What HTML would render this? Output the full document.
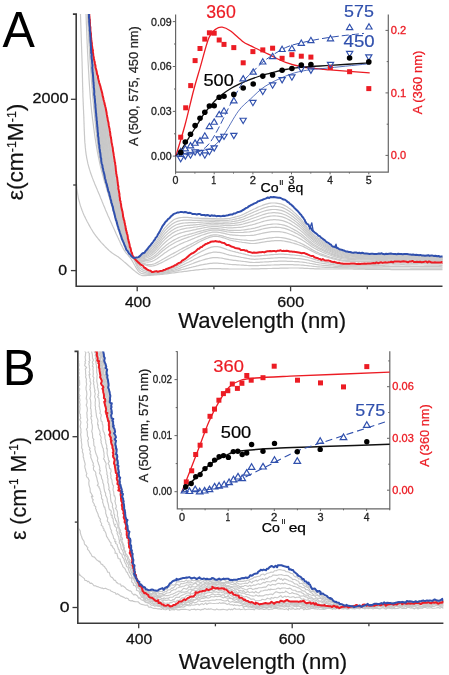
<!DOCTYPE html><html><head><meta charset="utf-8"><style>html,body{margin:0;padding:0;background:#fff;width:449px;height:675px;overflow:hidden}svg{display:block;filter:blur(0.3px);font-family:"Liberation Sans",sans-serif}</style></head><body><svg width="449" height="675" viewBox="0 0 449 675" font-family='"Liberation Sans", sans-serif'>
<rect width="449" height="675" fill="#fff"/>
<clipPath id="clipA"><rect x="77.1" y="14.1" width="365.4" height="271.4"/></clipPath>
<g clip-path="url(#clipA)" fill="none" stroke-linejoin="round" stroke-linecap="round">
<path d="M86.5 -40.0L86.5 -39.0L86.6 -38.0L86.6 -37.0L86.7 -36.0L86.7 -35.0L86.8 -34.0L86.8 -33.0L86.9 -32.0L86.9 -31.0L86.9 -30.0L87.0 -29.0L87.0 -28.0L87.1 -27.0L87.1 -26.0L87.1 -25.0L87.2 -24.0L87.2 -23.0L87.3 -22.0L87.3 -21.0L87.4 -20.0L87.4 -19.0L87.4 -18.0L87.5 -17.0L87.5 -16.0L87.6 -15.0L87.6 -14.0L87.7 -13.0L87.7 -12.0L87.8 -11.0L87.8 -10.0L87.9 -9.0L87.9 -8.0L87.9 -7.0L88.0 -6.0L88.0 -5.0L88.1 -4.0L88.2 -3.0L88.2 -2.0L88.3 -1.0L88.3 -0.0L88.4 1.0L88.4 2.0L88.5 3.0L88.5 4.0L88.6 5.0L88.7 5.9L88.7 6.9L88.8 7.9L88.8 8.9L88.9 9.9L89.0 10.9L89.0 11.9L89.1 12.9L89.2 13.9L89.3 14.9L89.3 15.9L89.4 16.9L89.5 17.9L89.6 18.9L89.7 19.9L89.7 20.9L89.8 21.9L89.9 22.9L90.0 23.9L90.0 24.9L90.1 25.9L90.2 26.9L90.3 27.9L90.4 28.9L90.5 29.9L90.5 30.9L90.6 31.9L90.7 32.9L90.8 33.9L90.9 34.9L91.0 35.9L91.1 36.9L91.2 37.8L91.3 38.8L91.4 39.8L91.5 40.8L91.6 41.8L91.7 42.8L91.8 43.8L92.0 44.8L92.1 45.8L92.2 46.8L92.3 47.8L92.5 48.8L92.6 49.8L92.7 50.8L92.9 51.7L93.0 52.7L93.2 53.7L93.3 54.7L93.5 55.7L93.6 56.7L93.8 57.7L94.0 58.7L94.1 59.6L94.3 60.6L94.5 61.6L94.7 62.6L94.9 63.6L95.1 64.6L95.3 65.5L95.5 66.5L95.7 67.5L95.9 68.5L96.1 69.4L96.3 70.4L96.6 71.4L96.8 72.4L97.0 73.3L97.2 74.3L97.5 75.3L97.7 76.3L98.0 77.2L98.2 78.2L98.5 79.2L98.7 80.1L98.9 81.1L99.2 82.1L99.4 83.0L99.7 84.0L99.9 85.0L100.2 85.9L100.4 86.9L100.7 87.9L100.9 88.9L101.2 89.8L101.4 90.8L101.7 91.8L101.9 92.7L102.2 93.7L102.4 94.7L102.7 95.6L102.9 96.6L103.2 97.6L103.4 98.5L103.6 99.5L103.9 100.5L104.1 101.5L104.3 102.4L104.6 103.4L104.8 104.4L105.0 105.4L105.2 106.3L105.4 107.3L105.6 108.3L105.9 109.3L106.1 110.2L106.2 111.2L106.4 112.2L106.6 113.2L106.8 114.2L107.0 115.2L107.2 116.1L107.4 117.1L107.6 118.1L107.8 119.1L107.9 120.1L108.1 121.1L108.3 122.0L108.5 123.0L108.6 124.0L108.8 125.0L109.0 126.0L109.2 127.0L109.3 127.9L109.5 128.9L109.7 129.9L109.8 130.9L110.0 131.9L110.2 132.9L110.3 133.9L110.5 134.8L110.7 135.8L110.8 136.8L111.0 137.8L111.1 138.8L111.3 139.8L111.5 140.8L111.6 141.8L111.8 142.7L111.9 143.7L112.1 144.7L112.3 145.7L112.4 146.7L112.6 147.7L112.7 148.7L112.9 149.7L113.0 150.6L113.2 151.6L113.3 152.6L113.5 153.6L113.7 154.6L113.8 155.6L114.0 156.6L114.1 157.6L114.3 158.5L114.4 159.5L114.6 160.5L114.7 161.5L114.9 162.5L115.0 163.5L115.2 164.5L115.3 165.5L115.5 166.5L115.6 167.4L115.8 168.4L115.9 169.4L116.0 170.4L116.2 171.4L116.3 172.4L116.5 173.4L116.6 174.4L116.7 175.4L116.9 176.4L117.0 177.4L117.1 178.3L117.3 179.3L117.4 180.3L117.5 181.3L117.6 182.3L117.8 183.3L117.9 184.3L118.0 185.3L118.2 186.3L118.3 187.3L118.4 188.3L118.6 189.2L118.7 190.2L118.9 191.2L119.0 192.2L119.1 193.2L119.3 194.2L119.4 195.2L119.6 196.2L119.7 197.2L119.9 198.2L120.1 199.1L120.2 200.1L120.4 201.1L120.6 202.1L120.7 203.1L120.9 204.1L121.1 205.0L121.3 206.0L121.4 207.0L121.6 208.0L121.8 209.0L122.0 210.0L122.2 210.9L122.4 211.9L122.6 212.9L122.8 213.9L123.0 214.9L123.2 215.8L123.4 216.8L123.6 217.8L123.8 218.8L124.0 219.8L124.2 220.7L124.4 221.7L124.6 222.7L124.8 223.7L125.1 224.7L125.3 225.6L125.5 226.6L125.7 227.6L125.9 228.6L126.1 229.5L126.3 230.5L126.5 231.5L126.7 232.5L126.9 233.5L127.1 234.4L120.6 234.9L120.3 233.9L120.0 233.0L119.7 232.0L119.3 231.1L119.0 230.1L118.7 229.2L118.4 228.2L118.1 227.3L117.9 226.3L117.6 225.3L117.3 224.4L117.0 223.4L116.7 222.5L116.5 221.5L116.2 220.5L115.9 219.6L115.7 218.6L115.4 217.6L115.1 216.7L114.9 215.7L114.6 214.7L114.4 213.8L114.1 212.8L113.8 211.8L113.6 210.9L113.3 209.9L113.1 208.9L112.8 208.0L112.6 207.0L112.3 206.0L112.1 205.1L111.8 204.1L111.6 203.1L111.3 202.2L111.1 201.2L110.9 200.2L110.6 199.3L110.4 198.3L110.1 197.3L109.9 196.4L109.6 195.4L109.3 194.4L109.1 193.5L108.8 192.5L108.6 191.5L108.3 190.6L108.0 189.6L107.8 188.6L107.5 187.7L107.3 186.7L107.0 185.7L106.7 184.8L106.5 183.8L106.2 182.8L106.0 181.9L105.7 180.9L105.5 179.9L105.2 179.0L105.0 178.0L104.8 177.0L104.5 176.0L104.3 175.1L104.1 174.1L103.8 173.1L103.6 172.1L103.4 171.2L103.2 170.2L103.0 169.2L102.8 168.2L102.6 167.3L102.4 166.3L102.2 165.3L102.0 164.3L101.8 163.3L101.6 162.3L101.4 161.4L101.3 160.4L101.1 159.4L100.9 158.4L100.8 157.4L100.6 156.4L100.5 155.4L100.3 154.4L100.2 153.5L100.1 152.5L99.9 151.5L99.8 150.5L99.7 149.5L99.6 148.5L99.4 147.5L99.3 146.5L99.2 145.5L99.1 144.5L99.0 143.5L98.9 142.5L98.8 141.5L98.7 140.6L98.5 139.6L98.4 138.6L98.3 137.6L98.2 136.6L98.1 135.6L98.0 134.6L98.0 133.6L97.9 132.6L97.8 131.6L97.7 130.6L97.6 129.6L97.5 128.6L97.4 127.6L97.3 126.6L97.2 125.6L97.1 124.6L97.0 123.6L96.9 122.6L96.9 121.6L96.8 120.6L96.7 119.6L96.6 118.6L96.5 117.7L96.4 116.7L96.3 115.7L96.2 114.7L96.1 113.7L96.0 112.7L96.0 111.7L95.9 110.7L95.8 109.7L95.7 108.7L95.6 107.7L95.5 106.7L95.4 105.7L95.3 104.7L95.2 103.7L95.1 102.7L95.0 101.7L95.0 100.7L94.9 99.7L94.8 98.7L94.7 97.7L94.6 96.7L94.5 95.7L94.5 94.7L94.4 93.7L94.3 92.8L94.2 91.8L94.1 90.8L94.0 89.8L94.0 88.8L93.9 87.8L93.8 86.8L93.7 85.8L93.6 84.8L93.6 83.8L93.5 82.8L93.4 81.8L93.3 80.8L93.3 79.8L93.2 78.8L93.1 77.8L93.0 76.8L93.0 75.8L92.9 74.8L92.8 73.8L92.7 72.8L92.7 71.8L92.6 70.8L92.5 69.8L92.4 68.8L92.4 67.8L92.3 66.8L92.2 65.8L92.1 64.8L92.1 63.8L92.0 62.8L91.9 61.8L91.9 60.8L91.8 59.8L91.7 58.8L91.6 57.9L91.6 56.9L91.5 55.9L91.4 54.9L91.4 53.9L91.3 52.9L91.2 51.9L91.2 50.9L91.1 49.9L91.0 48.9L91.0 47.9L90.9 46.9L90.8 45.9L90.8 44.9L90.7 43.9L90.6 42.9L90.6 41.9L90.5 40.9L90.4 39.9L90.4 38.9L90.3 37.9L90.2 36.9L90.2 35.9L90.1 34.9L90.1 33.9L90.0 32.9L89.9 31.9L89.9 30.9L89.8 29.9L89.8 28.9L89.7 27.9L89.6 26.9L89.6 25.9L89.5 24.9L89.5 23.9L89.4 22.9L89.3 21.9L89.3 20.9L89.2 19.9L89.2 18.9L89.1 17.9L89.1 16.9L89.0 15.9L89.0 14.9L88.9 13.9L88.8 12.9L88.8 11.9L88.7 10.9L88.7 9.9L88.6 8.9L88.6 7.9L88.5 6.9L88.5 5.9L88.4 4.9L88.4 4.0L88.3 3.0L88.3 2.0L88.2 1.0L88.2 -0.0L88.1 -1.0L88.1 -2.0L88.0 -3.0L88.0 -4.0L87.9 -5.0L87.9 -6.0L87.8 -7.0L87.8 -8.0L87.7 -9.0L87.7 -10.0L87.6 -11.0L87.6 -12.0L87.6 -13.0L87.5 -14.0L87.5 -15.0L87.4 -16.0L87.4 -17.0L87.3 -18.0L87.3 -19.0L87.2 -20.0L87.2 -21.0L87.1 -22.0L87.1 -23.0L87.0 -24.0L87.0 -25.0L86.9 -26.0L86.9 -27.0L86.9 -28.0L86.8 -29.0L86.8 -30.0L86.7 -31.0L86.7 -32.0L86.6 -33.0L86.6 -34.0L86.5 -35.0L86.5 -36.0L86.4 -37.0L86.4 -38.0L86.3 -39.0L86.3 -40.0Z" fill="#d0d0d0" stroke="none"/>
<path d="M70.2 101.7L70.4 103.2L70.5 104.6L70.7 106.1L70.8 107.6L70.9 109.1L71.1 110.6L71.2 112.1L71.3 113.6L71.4 115.1L71.6 116.6L71.7 118.1L71.8 119.6L71.9 121.1L72.1 122.6L72.2 124.1L72.3 125.6L72.4 127.1L72.5 128.6L72.6 130.1L72.8 131.6L72.9 133.0L73.0 134.5L73.1 136.0L73.2 137.5L73.3 139.0L73.4 140.5L73.6 142.0L73.7 143.5L73.8 145.0L73.9 146.5L74.0 148.0L74.1 149.5L74.3 151.0L74.4 152.5L74.5 154.0L74.6 155.5L74.7 157.0L74.9 158.5L75.0 160.0L75.1 161.5L75.2 163.0L75.3 164.5L75.4 165.9L75.5 167.4L75.6 168.9L75.7 170.4L75.8 171.9L75.9 173.4L76.0 174.9L76.0 176.4L76.1 177.9L76.2 179.4L76.3 180.9L76.4 182.4L76.5 183.9L76.6 185.4L76.8 186.9L76.9 188.4L77.1 189.9L77.3 191.4L77.5 192.9L77.7 194.3L78.0 195.8L78.2 197.3L78.5 198.8L78.9 200.2L79.3 201.7L79.7 203.1L80.1 204.6L80.5 206.0L81.0 207.4L81.5 208.8L82.0 210.2L82.6 211.6L83.1 213.0L83.7 214.4L84.3 215.8L85.0 217.1L85.6 218.5L86.3 219.8L87.0 221.2L87.7 222.5L88.4 223.8L89.1 225.1L89.8 226.4L90.6 227.7L91.3 229.0L92.1 230.3L92.9 231.6L93.7 232.8L94.6 234.1L95.5 235.3L96.3 236.5L97.3 237.7L98.2 238.8L99.2 240.0L100.1 241.1L101.1 242.3L102.1 243.4L103.2 244.5L104.2 245.6L105.2 246.7L106.3 247.7L107.3 248.8L108.4 249.8L109.5 250.9L110.6 251.8L111.8 252.8L113.0 253.6L114.3 254.4L115.6 255.2L116.8 256.0L118.1 256.8L119.3 257.7L120.5 258.7L121.6 259.6L122.8 260.6L123.9 261.6L125.0 262.5L126.2 263.5L127.3 264.5L128.4 265.5L129.5 266.5L130.7 267.5L131.8 268.5L132.9 269.5L134.1 270.4L135.2 271.4L136.4 272.3L137.6 273.3L138.8 274.1L140.1 274.8L141.4 275.3L142.8 275.6L144.2 275.7L145.7 275.6L147.2 275.4L148.7 275.4L150.2 275.3L151.7 275.2L153.2 275.1L154.7 275.0L156.2 274.9L157.7 274.7L159.2 274.6L160.7 274.4L162.2 274.3L163.6 274.1L165.1 273.9L166.6 273.8L168.1 273.6L169.6 273.4L171.1 273.2L172.6 273.0L174.1 272.8L175.6 272.6L177.0 272.4L178.5 272.2L180.0 272.0L181.5 271.8L183.0 271.6L184.5 271.4L186.0 271.3L187.5 271.1L188.9 270.9L190.4 270.7L191.9 270.5L193.4 270.3L194.9 270.1L196.4 269.9L197.9 269.8L199.4 269.6L200.9 269.5L202.4 269.3L203.8 269.2L205.3 269.1L206.8 269.0L208.3 268.8L209.8 268.7L211.3 268.7L212.8 268.6L214.3 268.6L215.8 268.6L217.3 268.6L218.8 268.7L220.3 268.7L221.8 268.8L223.3 268.8L224.8 268.9L226.3 268.9L227.8 268.9L229.3 269.0L230.8 269.0L232.3 269.0L233.8 269.0L235.3 269.0L236.8 269.0L238.3 269.0L239.8 269.0L241.3 269.0L242.8 269.0L244.3 269.0L245.8 269.0L247.3 269.0L248.8 269.0L250.3 269.0L251.8 268.9L253.3 268.9L254.8 268.9L256.3 268.8L257.8 268.8L259.3 268.8L260.8 268.7L262.3 268.7L263.8 268.7L265.3 268.6L266.8 268.6L268.3 268.5L269.8 268.5L271.3 268.5L272.8 268.4L274.3 268.4L275.8 268.4L277.3 268.3L278.8 268.3L280.3 268.2L281.8 268.2L283.3 268.2L284.8 268.1L286.3 268.1L287.8 268.1L289.3 268.0L290.8 268.0L292.3 268.0L293.8 268.0L295.3 268.0L296.8 268.0L298.3 268.0L299.8 268.1L301.3 268.1L302.8 268.2L304.3 268.3L305.8 268.4L307.3 268.4L308.8 268.5L310.3 268.6L311.8 268.7L313.3 268.7L314.8 268.8L316.3 268.9L317.8 268.9L319.3 268.9L320.8 269.0L322.3 269.0L323.8 269.0L325.3 269.0L326.8 269.0L328.3 269.0L329.8 269.0L331.3 269.0L332.8 269.0L334.3 269.0L335.8 269.0L337.3 269.0L338.8 269.0L340.3 269.0L341.8 269.0L343.3 269.0L344.8 269.0L346.3 269.0L347.8 269.0L349.3 269.0L350.8 269.0L352.3 269.0L353.8 269.1L355.3 269.1L356.8 269.1L358.3 269.1L359.8 269.2L361.3 269.2L362.8 269.2L364.3 269.2L365.8 269.3L367.3 269.3L368.8 269.3L370.3 269.3L371.8 269.4L373.3 269.4L374.8 269.4L376.3 269.4L377.8 269.5L379.3 269.5L380.8 269.5L382.3 269.5L383.8 269.5L385.3 269.5L386.8 269.5L388.3 269.5L389.8 269.5L391.3 269.6L392.8 269.6L394.3 269.6L395.8 269.6L397.3 269.6L398.8 269.6L400.3 269.6L401.8 269.6L403.3 269.6L404.8 269.6L406.3 269.6L407.8 269.6L409.3 269.6L410.8 269.7L412.3 269.7L413.8 269.7L415.3 269.7L416.8 269.7L418.3 269.7L419.8 269.7L421.3 269.7L422.8 269.7L424.3 269.7L425.8 269.7L427.3 269.7L428.8 269.7L430.3 269.7L431.8 269.7L433.3 269.7L434.8 269.7L436.3 269.7L437.8 269.7L439.3 269.7L440.8 269.7L442.0 269.7L442.9 269.7" stroke="#c8c8c8" stroke-width="1.20"/>
<path d="M80.4 9.5L80.4 11.0L80.5 12.5L80.5 14.0L80.5 15.5L80.6 17.0L80.6 18.5L80.7 20.0L80.7 21.5L80.8 23.0L80.8 24.5L80.9 26.0L80.9 27.5L81.0 29.0L81.0 30.5L81.1 32.0L81.1 33.5L81.2 35.0L81.2 36.5L81.3 38.0L81.3 39.5L81.4 41.0L81.4 42.5L81.5 44.0L81.5 45.5L81.6 47.0L81.6 48.5L81.7 50.0L81.7 51.5L81.8 53.0L81.8 54.5L81.9 56.0L81.9 57.5L82.0 59.0L82.0 60.5L82.1 62.0L82.1 63.5L82.1 65.0L82.2 66.5L82.2 68.0L82.3 69.5L82.3 71.0L82.3 72.5L82.4 73.9L82.4 75.4L82.4 76.9L82.5 78.4L82.5 79.9L82.5 81.4L82.6 82.9L82.6 84.4L82.6 85.9L82.7 87.4L82.7 88.9L82.8 90.4L82.8 91.9L82.9 93.4L82.9 94.9L82.9 96.4L83.0 97.9L83.1 99.4L83.1 100.9L83.2 102.4L83.2 103.9L83.3 105.4L83.4 106.9L83.4 108.4L83.5 109.9L83.6 111.4L83.6 112.9L83.7 114.4L83.8 115.9L83.8 117.4L83.9 118.9L83.9 120.4L84.0 121.9L84.0 123.4L84.1 124.9L84.1 126.4L84.2 127.9L84.2 129.4L84.3 130.9L84.4 132.4L84.4 133.9L84.5 135.4L84.6 136.9L84.6 138.4L84.7 139.9L84.8 141.4L84.9 142.9L85.1 144.4L85.2 145.9L85.3 147.4L85.5 148.9L85.6 150.4L85.8 151.9L86.0 153.3L86.2 154.8L86.5 156.3L86.7 157.8L87.0 159.3L87.3 160.7L87.6 162.2L87.9 163.7L88.3 165.1L88.7 166.6L89.1 168.0L89.5 169.4L90.0 170.9L90.4 172.3L90.9 173.7L91.4 175.1L91.9 176.5L92.4 177.9L93.0 179.4L93.5 180.7L94.1 182.1L94.6 183.5L95.2 184.9L95.8 186.3L96.4 187.7L97.0 189.1L97.5 190.4L98.1 191.8L98.7 193.2L99.3 194.6L99.9 196.0L100.4 197.4L101.0 198.8L101.6 200.1L102.1 201.5L102.7 202.9L103.2 204.3L103.8 205.7L104.4 207.1L105.0 208.5L105.5 209.9L106.1 211.2L106.7 212.6L107.3 214.0L107.9 215.4L108.5 216.7L109.1 218.1L109.7 219.5L110.4 220.9L111.0 222.2L111.6 223.6L112.2 225.0L112.8 226.3L113.5 227.7L114.1 229.1L114.7 230.4L115.3 231.8L115.9 233.2L116.5 234.5L117.2 235.9L117.8 237.3L118.4 238.6L119.0 240.0L119.7 241.3L120.3 242.7L120.9 244.1L121.6 245.4L122.3 246.7L123.0 248.1L123.7 249.4L124.5 250.7L125.3 251.9L126.2 253.1L127.2 254.2L128.2 255.3L129.2 256.5L130.1 257.6L131.0 258.8L131.8 260.1L132.5 261.4L133.3 262.7L134.0 264.0L134.7 265.3L135.5 266.6L136.2 267.9L137.0 269.2L137.8 270.4L138.8 271.6L139.9 272.5L141.1 273.2L142.4 273.7L143.9 273.9L145.4 274.1L146.9 274.2L148.3 274.3L149.8 274.4L151.3 274.4L152.8 274.4L154.3 274.3L155.8 274.2L157.3 274.1L158.8 273.9L160.3 273.8L161.8 273.6L163.3 273.4L164.8 273.2L166.2 272.9L167.7 272.6L169.2 272.4L170.7 272.1L172.1 271.8L173.6 271.5L175.1 271.2L176.5 270.9L178.0 270.6L179.5 270.2L180.9 269.8L182.4 269.5L183.8 269.1L185.3 268.8L186.8 268.4L188.2 268.1L189.7 267.7L191.1 267.4L192.6 267.0L194.0 266.6L195.5 266.3L196.9 265.9L198.4 265.6L199.9 265.2L201.3 264.9L202.8 264.7L204.3 264.4L205.8 264.1L207.2 263.9L208.7 263.6L210.2 263.4L211.7 263.3L213.2 263.2L214.7 263.1L216.2 263.1L217.7 263.2L219.2 263.3L220.7 263.4L222.2 263.5L223.7 263.7L225.1 263.9L226.6 264.0L228.1 264.2L229.6 264.3L231.1 264.5L232.6 264.6L234.1 264.7L235.6 264.7L237.1 264.8L238.6 264.9L240.1 265.0L241.6 265.1L243.1 265.2L244.6 265.3L246.1 265.4L247.6 265.5L249.1 265.6L250.6 265.6L252.1 265.7L253.6 265.7L255.1 265.7L256.6 265.6L258.1 265.6L259.6 265.5L261.1 265.4L262.6 265.4L264.1 265.3L265.6 265.3L267.1 265.2L268.6 265.1L270.1 265.1L271.6 265.0L273.1 265.0L274.6 264.9L276.1 264.8L277.6 264.8L279.1 264.8L280.6 264.7L282.1 264.7L283.6 264.7L285.1 264.7L286.6 264.7L288.1 264.7L289.6 264.7L291.1 264.7L292.6 264.7L294.1 264.8L295.6 264.8L297.1 264.8L298.6 264.9L300.1 265.0L301.5 265.1L303.0 265.2L304.5 265.3L306.0 265.5L307.5 265.6L309.0 265.8L310.5 266.0L312.0 266.2L313.5 266.3L315.0 266.5L316.5 266.7L318.0 266.8L319.4 266.9L320.9 267.0L322.4 267.1L323.9 267.2L325.4 267.3L326.9 267.3L328.4 267.4L329.9 267.4L331.4 267.5L332.9 267.5L334.4 267.6L335.9 267.7L337.4 267.7L338.9 267.8L340.4 267.8L341.9 267.9L343.4 267.9L344.9 267.9L346.4 267.9L347.9 267.9L349.4 268.0L350.9 268.0L352.4 268.0L353.9 268.0L355.4 268.0L356.9 268.0L358.4 268.1L359.9 268.1L361.4 268.1L362.9 268.1L364.4 268.1L365.9 268.1L367.4 268.2L368.9 268.2L370.4 268.2L371.9 268.2L373.4 268.2L374.9 268.2L376.4 268.2L377.9 268.2L379.4 268.1L380.9 268.1L382.4 268.1L383.9 268.1L385.4 268.1L386.9 268.1L388.4 268.1L389.9 268.1L391.4 268.0L392.9 268.0L394.4 268.0L395.9 268.0L397.4 268.0L398.9 268.0L400.4 268.0L401.9 268.0L403.4 268.0L404.9 268.0L406.4 268.0L407.9 268.0L409.4 268.0L410.9 268.1L412.4 268.1L413.9 268.1L415.4 268.1L416.9 268.1L418.4 268.1L419.9 268.1L421.4 268.1L422.9 268.1L424.4 268.2L425.9 268.2L427.4 268.2L428.9 268.2L430.4 268.2L431.9 268.2L433.4 268.2L434.9 268.2L436.4 268.2L437.9 268.2L439.4 268.2L440.9 268.2L442.1 268.2L443.0 268.2" stroke="#c8c8c8" stroke-width="1.20"/>
<path d="M85.8 9.5L85.9 11.0L85.9 12.5L86.0 14.0L86.1 15.5L86.1 17.0L86.2 18.5L86.2 20.0L86.3 21.5L86.3 23.0L86.4 24.5L86.5 26.0L86.5 27.5L86.6 29.0L86.6 30.5L86.7 31.9L86.8 33.4L86.8 34.9L86.9 36.4L86.9 37.9L87.0 39.4L87.1 40.9L87.1 42.4L87.2 43.9L87.3 45.4L87.3 46.9L87.4 48.4L87.5 49.9L87.5 51.4L87.6 52.9L87.7 54.4L87.8 55.9L87.9 57.4L87.9 58.9L88.0 60.4L88.1 61.9L88.2 63.4L88.3 64.9L88.4 66.4L88.4 67.9L88.5 69.4L88.6 70.9L88.7 72.4L88.8 73.9L88.9 75.4L88.9 76.9L89.0 78.4L89.1 79.9L89.2 81.4L89.3 82.9L89.4 84.4L89.5 85.9L89.6 87.4L89.7 88.9L89.8 90.4L89.9 91.9L90.0 93.4L90.1 94.9L90.2 96.3L90.3 97.8L90.5 99.3L90.6 100.8L90.7 102.3L90.9 103.8L91.0 105.3L91.2 106.8L91.3 108.3L91.5 109.8L91.6 111.3L91.8 112.8L92.0 114.3L92.2 115.8L92.3 117.2L92.5 118.7L92.7 120.2L92.9 121.7L93.1 123.2L93.3 124.7L93.5 126.2L93.7 127.7L93.9 129.1L94.1 130.6L94.3 132.1L94.5 133.6L94.7 135.1L94.9 136.6L95.1 138.1L95.4 139.5L95.6 141.0L95.8 142.5L96.1 144.0L96.3 145.5L96.6 146.9L96.8 148.4L97.1 149.9L97.3 151.4L97.6 152.8L97.9 154.3L98.2 155.8L98.5 157.3L98.8 158.7L99.1 160.2L99.4 161.7L99.7 163.1L100.0 164.6L100.4 166.1L100.7 167.5L101.1 169.0L101.4 170.4L101.8 171.9L102.2 173.3L102.6 174.8L103.0 176.2L103.4 177.7L103.8 179.1L104.2 180.6L104.6 182.0L105.1 183.4L105.5 184.9L105.9 186.3L106.3 187.7L106.8 189.2L107.2 190.6L107.6 192.1L108.1 193.5L108.5 194.9L108.9 196.4L109.4 197.8L109.8 199.2L110.2 200.7L110.6 202.1L111.0 203.6L111.4 205.0L111.9 206.5L112.3 207.9L112.7 209.3L113.1 210.8L113.5 212.2L114.0 213.7L114.4 215.1L114.8 216.5L115.2 218.0L115.7 219.4L116.1 220.8L116.5 222.3L117.0 223.7L117.4 225.1L117.9 226.6L118.4 228.0L118.8 229.4L119.3 230.8L119.8 232.3L120.2 233.7L120.7 235.1L121.2 236.5L121.7 237.9L122.2 239.4L122.7 240.8L123.2 242.2L123.8 243.6L124.3 245.0L124.9 246.4L125.5 247.7L126.1 249.1L126.8 250.4L127.6 251.7L128.5 252.9L129.5 254.0L130.5 255.1L131.5 256.2L132.4 257.4L133.2 258.6L134.0 259.9L134.6 261.2L135.3 262.6L135.9 264.0L136.5 265.3L137.2 266.7L137.9 268.0L138.7 269.2L139.7 270.2L140.9 271.0L142.2 271.7L143.6 272.1L145.1 272.5L146.5 272.9L148.0 273.2L149.4 273.5L150.9 273.6L152.4 273.7L153.9 273.7L155.4 273.6L156.9 273.4L158.4 273.3L159.9 273.1L161.4 273.0L162.8 272.7L164.3 272.4L165.8 272.1L167.2 271.8L168.7 271.4L170.2 271.1L171.6 270.7L173.1 270.4L174.5 270.0L175.9 269.5L177.4 269.1L178.8 268.6L180.2 268.1L181.6 267.5L183.0 267.0L184.4 266.5L185.9 266.0L187.3 265.5L188.7 265.0L190.1 264.5L191.5 264.0L192.9 263.5L194.3 262.9L195.7 262.4L197.1 261.9L198.5 261.4L199.9 260.9L201.4 260.5L202.8 260.0L204.3 259.6L205.7 259.2L207.1 258.8L208.6 258.5L210.1 258.2L211.5 257.9L213.0 257.7L214.5 257.6L216.0 257.6L217.5 257.7L219.0 257.8L220.5 258.0L222.0 258.2L223.4 258.5L224.9 258.8L226.4 259.1L227.9 259.4L229.3 259.7L230.8 259.9L232.3 260.1L233.8 260.3L235.3 260.4L236.8 260.6L238.2 260.8L239.7 261.0L241.2 261.2L242.7 261.3L244.2 261.5L245.7 261.7L247.2 261.9L248.7 262.1L250.2 262.3L251.7 262.4L253.1 262.5L254.6 262.5L256.1 262.4L257.6 262.4L259.1 262.3L260.6 262.2L262.1 262.1L263.6 262.0L265.1 261.9L266.6 261.9L268.1 261.8L269.6 261.7L271.1 261.6L272.6 261.5L274.1 261.4L275.6 261.4L277.1 261.3L278.6 261.2L280.1 261.2L281.6 261.2L283.1 261.2L284.6 261.2L286.1 261.2L287.6 261.3L289.1 261.3L290.6 261.4L292.1 261.4L293.6 261.5L295.1 261.6L296.6 261.7L298.1 261.7L299.6 261.9L301.1 262.0L302.6 262.1L304.1 262.3L305.5 262.5L307.0 262.8L308.5 263.0L310.0 263.3L311.5 263.5L312.9 263.8L314.4 264.1L315.9 264.4L317.4 264.6L318.8 264.8L320.3 265.0L321.8 265.2L323.3 265.3L324.8 265.5L326.3 265.6L327.8 265.7L329.3 265.8L330.8 265.9L332.3 266.0L333.8 266.2L335.3 266.3L336.8 266.4L338.3 266.5L339.8 266.6L341.3 266.7L342.8 266.8L344.3 266.9L345.8 266.9L347.3 266.9L348.8 266.9L350.3 266.9L351.8 266.9L353.3 266.9L354.8 266.9L356.3 266.9L357.8 267.0L359.3 267.0L360.8 267.0L362.3 267.0L363.8 267.0L365.3 267.0L366.8 267.0L368.3 267.0L369.8 267.0L371.3 267.0L372.8 266.9L374.3 266.9L375.8 266.9L377.3 266.9L378.8 266.8L380.3 266.8L381.8 266.8L383.3 266.7L384.8 266.7L386.3 266.6L387.8 266.6L389.2 266.6L390.7 266.5L392.2 266.5L393.7 266.5L395.2 266.4L396.7 266.4L398.2 266.4L399.7 266.4L401.2 266.4L402.7 266.4L404.2 266.4L405.7 266.4L407.2 266.4L408.7 266.4L410.2 266.4L411.7 266.5L413.2 266.5L414.7 266.5L416.2 266.5L417.7 266.5L419.2 266.5L420.7 266.6L422.2 266.6L423.7 266.6L425.2 266.6L426.7 266.6L428.2 266.6L429.7 266.6L431.2 266.7L432.7 266.7L434.2 266.7L435.7 266.7L437.2 266.7L438.7 266.7L440.2 266.7L441.7 266.8L442.9 266.8L443.8 266.8" stroke="#c8c8c8" stroke-width="1.20"/>
<path d="M87.3 9.5L87.4 11.0L87.4 12.5L87.5 14.0L87.6 15.5L87.6 17.0L87.7 18.5L87.8 20.0L87.8 21.5L87.9 23.0L88.0 24.5L88.1 25.9L88.1 27.4L88.2 28.9L88.3 30.4L88.4 31.9L88.4 33.4L88.5 34.9L88.6 36.4L88.7 37.9L88.7 39.4L88.8 40.9L88.9 42.4L89.0 43.9L89.1 45.4L89.2 46.9L89.3 48.4L89.4 49.9L89.4 51.4L89.5 52.9L89.6 54.4L89.7 55.9L89.8 57.4L89.9 58.9L90.0 60.4L90.1 61.9L90.2 63.4L90.3 64.9L90.4 66.4L90.5 67.9L90.6 69.4L90.8 70.9L90.9 72.4L91.0 73.9L91.1 75.4L91.2 76.9L91.3 78.3L91.4 79.8L91.5 81.3L91.6 82.8L91.8 84.3L91.9 85.8L92.0 87.3L92.1 88.8L92.2 90.3L92.3 91.8L92.5 93.3L92.6 94.8L92.7 96.3L92.9 97.8L93.0 99.3L93.1 100.8L93.3 102.3L93.4 103.8L93.5 105.3L93.7 106.7L93.8 108.2L94.0 109.7L94.1 111.2L94.3 112.7L94.4 114.2L94.6 115.7L94.7 117.2L94.9 118.7L95.0 120.2L95.1 121.7L95.3 123.2L95.4 124.7L95.6 126.2L95.7 127.6L95.9 129.1L96.1 130.6L96.2 132.1L96.4 133.6L96.5 135.1L96.7 136.6L96.9 138.1L97.0 139.6L97.2 141.1L97.4 142.6L97.6 144.0L97.8 145.5L98.0 147.0L98.2 148.5L98.4 150.0L98.6 151.5L98.8 153.0L99.1 154.4L99.3 155.9L99.5 157.4L99.8 158.9L100.1 160.4L100.4 161.8L100.6 163.3L101.0 164.8L101.3 166.2L101.6 167.7L101.9 169.2L102.3 170.6L102.6 172.1L103.0 173.5L103.4 175.0L103.8 176.4L104.1 177.9L104.5 179.3L104.9 180.8L105.3 182.2L105.8 183.7L106.2 185.1L106.6 186.5L107.0 188.0L107.4 189.4L107.9 190.9L108.3 192.3L108.7 193.7L109.1 195.2L109.5 196.6L109.9 198.1L110.4 199.5L110.8 200.9L111.2 202.4L111.6 203.8L112.0 205.3L112.4 206.7L112.8 208.2L113.2 209.6L113.6 211.0L114.1 212.5L114.5 213.9L114.9 215.4L115.4 216.8L115.8 218.2L116.2 219.7L116.7 221.1L117.1 222.5L117.6 224.0L118.0 225.4L118.5 226.8L118.9 228.2L119.4 229.7L119.9 231.1L120.3 232.5L120.8 233.9L121.3 235.4L121.8 236.8L122.3 238.2L122.8 239.6L123.3 241.0L123.8 242.4L124.4 243.8L124.9 245.2L125.5 246.6L126.1 248.0L126.7 249.3L127.5 250.6L128.2 251.9L129.1 253.1L130.1 254.2L131.1 255.3L132.1 256.5L133.0 257.6L133.9 258.8L134.7 260.1L135.4 261.4L136.1 262.8L136.8 264.1L137.5 265.4L138.4 266.6L139.3 267.7L140.4 268.6L141.7 269.4L143.0 270.1L144.4 270.7L145.8 271.3L147.2 271.8L148.6 272.3L150.0 272.7L151.5 272.9L152.9 273.0L154.4 273.0L155.9 272.9L157.4 272.7L158.9 272.6L160.4 272.4L161.9 272.2L163.4 271.9L164.8 271.5L166.2 271.1L167.7 270.7L169.1 270.3L170.6 269.8L172.0 269.4L173.4 269.0L174.8 268.5L176.2 267.9L177.6 267.3L179.0 266.7L180.3 266.0L181.7 265.4L183.0 264.8L184.4 264.1L185.7 263.5L187.1 262.8L188.5 262.2L189.8 261.5L191.1 260.9L192.5 260.2L193.8 259.5L195.2 258.8L196.5 258.2L197.9 257.5L199.2 256.9L200.6 256.3L202.0 255.7L203.4 255.2L204.8 254.6L206.2 254.1L207.6 253.6L209.0 253.1L210.5 252.8L211.9 252.5L213.4 252.2L214.9 252.1L216.4 252.2L217.9 252.3L219.4 252.4L220.8 252.7L222.3 253.0L223.7 253.4L225.2 253.8L226.6 254.3L228.1 254.7L229.5 255.1L231.0 255.4L232.4 255.7L233.9 255.9L235.4 256.2L236.9 256.5L238.3 256.7L239.8 257.0L241.3 257.3L242.8 257.5L244.2 257.8L245.7 258.1L247.2 258.4L248.7 258.6L250.1 258.9L251.6 259.1L253.1 259.2L254.6 259.3L256.1 259.2L257.6 259.1L259.1 259.0L260.6 258.9L262.1 258.8L263.6 258.7L265.1 258.6L266.6 258.5L268.1 258.4L269.6 258.3L271.1 258.2L272.6 258.1L274.0 258.0L275.5 257.9L277.0 257.8L278.5 257.7L280.0 257.7L281.5 257.7L283.0 257.7L284.5 257.7L286.0 257.8L287.5 257.9L289.0 258.0L290.5 258.1L292.0 258.2L293.5 258.3L295.0 258.4L296.5 258.5L298.0 258.6L299.5 258.7L301.0 258.9L302.5 259.1L304.0 259.3L305.4 259.6L306.9 259.9L308.4 260.2L309.8 260.6L311.3 260.9L312.7 261.3L314.2 261.7L315.6 262.1L317.1 262.4L318.6 262.7L320.0 263.0L321.5 263.2L323.0 263.5L324.5 263.6L326.0 263.8L327.5 264.0L329.0 264.2L330.4 264.3L331.9 264.5L333.4 264.7L334.9 264.9L336.4 265.0L337.9 265.2L339.4 265.4L340.9 265.6L342.4 265.7L343.9 265.8L345.4 265.8L346.9 265.8L348.4 265.8L349.9 265.8L351.4 265.8L352.9 265.8L354.4 265.8L355.9 265.9L357.4 265.9L358.9 265.9L360.4 265.9L361.9 265.9L363.4 265.9L364.9 265.9L366.4 265.9L367.9 265.9L369.4 265.8L370.9 265.8L372.4 265.7L373.9 265.7L375.4 265.6L376.9 265.6L378.4 265.5L379.8 265.5L381.3 265.4L382.8 265.3L384.3 265.3L385.8 265.2L387.3 265.2L388.8 265.1L390.3 265.0L391.8 265.0L393.3 264.9L394.8 264.9L396.3 264.8L397.8 264.8L399.3 264.8L400.8 264.7L402.3 264.7L403.8 264.7L405.3 264.8L406.8 264.8L408.3 264.8L409.8 264.8L411.3 264.9L412.8 264.9L414.3 264.9L415.8 264.9L417.3 264.9L418.8 265.0L420.3 265.0L421.8 265.0L423.3 265.0L424.8 265.1L426.3 265.1L427.8 265.1L429.3 265.1L430.8 265.1L432.3 265.2L433.8 265.2L435.3 265.2L436.8 265.2L438.3 265.2L439.8 265.3L441.3 265.3L442.5 265.3L443.4 265.3" stroke="#c8c8c8" stroke-width="1.20"/>
<path d="M88.3 9.4L88.3 10.9L88.4 12.4L88.5 13.9L88.6 15.4L88.6 16.9L88.7 18.4L88.8 19.9L88.9 21.4L88.9 22.9L89.0 24.4L89.1 25.9L89.2 27.4L89.2 28.9L89.3 30.4L89.4 31.9L89.5 33.4L89.5 34.9L89.6 36.4L89.7 37.9L89.8 39.4L89.9 40.9L89.9 42.4L90.0 43.9L90.1 45.4L90.2 46.9L90.3 48.4L90.4 49.9L90.5 51.4L90.6 52.9L90.6 54.4L90.7 55.9L90.8 57.4L90.9 58.9L91.0 60.4L91.1 61.9L91.2 63.4L91.3 64.9L91.4 66.4L91.5 67.9L91.6 69.4L91.7 70.8L91.8 72.3L91.9 73.8L92.0 75.3L92.1 76.8L92.2 78.3L92.3 79.8L92.5 81.3L92.6 82.8L92.7 84.3L92.8 85.8L92.9 87.3L93.0 88.8L93.1 90.3L93.2 91.8L93.4 93.3L93.5 94.8L93.6 96.3L93.7 97.8L93.8 99.3L94.0 100.8L94.1 102.3L94.2 103.8L94.4 105.2L94.5 106.7L94.6 108.2L94.8 109.7L94.9 111.2L95.1 112.7L95.2 114.2L95.3 115.7L95.5 117.2L95.6 118.7L95.8 120.2L95.9 121.7L96.0 123.2L96.2 124.7L96.3 126.2L96.5 127.6L96.6 129.1L96.8 130.6L96.9 132.1L97.1 133.6L97.2 135.1L97.4 136.6L97.5 138.1L97.7 139.6L97.9 141.1L98.0 142.6L98.2 144.1L98.4 145.5L98.6 147.0L98.8 148.5L99.0 150.0L99.2 151.5L99.4 153.0L99.6 154.5L99.8 155.9L100.1 157.4L100.3 158.9L100.6 160.4L100.8 161.9L101.1 163.3L101.4 164.8L101.7 166.3L102.0 167.7L102.3 169.2L102.7 170.7L103.0 172.1L103.4 173.6L103.7 175.0L104.1 176.5L104.4 178.0L104.8 179.4L105.2 180.9L105.6 182.3L106.0 183.8L106.4 185.2L106.8 186.7L107.2 188.1L107.6 189.5L108.0 191.0L108.4 192.4L108.8 193.9L109.2 195.3L109.6 196.8L110.0 198.2L110.4 199.7L110.8 201.1L111.2 202.5L111.6 204.0L112.0 205.4L112.4 206.9L112.8 208.3L113.2 209.8L113.6 211.2L114.1 212.6L114.5 214.1L114.9 215.5L115.3 217.0L115.8 218.4L116.2 219.8L116.7 221.3L117.1 222.7L117.6 224.1L118.0 225.6L118.5 227.0L119.0 228.4L119.4 229.8L119.9 231.2L120.4 232.7L120.9 234.1L121.4 235.5L121.9 236.9L122.5 238.3L123.0 239.7L123.6 241.1L124.1 242.5L124.7 243.9L125.3 245.2L125.9 246.6L126.5 248.0L127.2 249.3L127.9 250.6L128.7 251.9L129.6 253.1L130.6 254.2L131.6 255.4L132.6 256.5L133.5 257.6L134.4 258.8L135.3 260.0L136.1 261.3L136.9 262.5L137.8 263.8L138.7 264.9L139.8 266.0L140.9 266.9L142.1 267.7L143.4 268.5L144.7 269.2L146.0 270.0L147.4 270.7L148.7 271.3L150.1 271.8L151.5 272.2L153.0 272.3L154.4 272.3L155.9 272.2L157.4 272.0L158.9 271.9L160.4 271.7L161.9 271.4L163.3 271.1L164.8 270.7L166.2 270.3L167.6 269.8L169.0 269.3L170.4 268.8L171.9 268.3L173.3 267.7L174.6 267.1L176.0 266.5L177.3 265.8L178.6 265.1L179.9 264.3L181.2 263.5L182.5 262.8L183.8 262.0L185.1 261.3L186.4 260.5L187.7 259.7L188.9 259.0L190.2 258.2L191.5 257.4L192.8 256.6L194.0 255.8L195.3 255.0L196.6 254.2L197.9 253.4L199.2 252.7L200.5 252.0L201.8 251.3L203.2 250.6L204.5 250.0L205.9 249.3L207.2 248.7L208.6 248.1L210.0 247.6L211.4 247.2L212.9 246.9L214.4 246.7L215.9 246.6L217.3 246.7L218.8 246.9L220.3 247.2L221.7 247.6L223.1 248.1L224.6 248.6L226.0 249.1L227.4 249.7L228.8 250.2L230.2 250.6L231.6 251.0L233.1 251.4L234.5 251.7L236.0 252.1L237.5 252.4L238.9 252.8L240.4 253.1L241.8 253.5L243.3 253.8L244.8 254.2L246.2 254.6L247.7 254.9L249.1 255.3L250.6 255.6L252.0 255.9L253.5 256.0L255.0 256.1L256.5 256.0L258.0 255.9L259.5 255.8L261.0 255.6L262.5 255.5L264.0 255.4L265.5 255.2L267.0 255.1L268.5 255.0L269.9 254.8L271.4 254.7L272.9 254.6L274.4 254.5L275.9 254.3L277.4 254.3L278.9 254.2L280.4 254.2L281.9 254.2L283.4 254.2L284.9 254.3L286.4 254.4L287.9 254.5L289.4 254.6L290.9 254.8L292.4 254.9L293.9 255.0L295.4 255.2L296.9 255.3L298.4 255.5L299.8 255.7L301.3 255.9L302.8 256.2L304.3 256.5L305.7 256.8L307.2 257.1L308.6 257.6L310.1 258.0L311.5 258.4L312.9 258.9L314.3 259.4L315.8 259.8L317.2 260.3L318.7 260.7L320.1 261.0L321.6 261.3L323.0 261.6L324.5 261.9L326.0 262.1L327.5 262.3L329.0 262.6L330.5 262.8L331.9 263.0L333.4 263.3L334.9 263.5L336.4 263.7L337.9 264.0L339.3 264.2L340.8 264.4L342.3 264.6L343.8 264.7L345.3 264.8L346.8 264.8L348.3 264.8L349.8 264.8L351.3 264.8L352.8 264.8L354.3 264.8L355.8 264.8L357.3 264.8L358.8 264.8L360.3 264.8L361.8 264.8L363.3 264.8L364.8 264.8L366.3 264.8L367.8 264.7L369.3 264.7L370.8 264.6L372.3 264.5L373.8 264.4L375.3 264.4L376.8 264.3L378.3 264.2L379.8 264.1L381.3 264.0L382.8 264.0L384.3 263.9L385.8 263.8L387.3 263.7L388.8 263.6L390.3 263.5L391.8 263.5L393.3 263.4L394.8 263.3L396.3 263.2L397.8 263.2L399.3 263.1L400.8 263.1L402.3 263.1L403.8 263.1L405.3 263.1L406.8 263.2L408.3 263.2L409.8 263.2L411.3 263.3L412.8 263.3L414.3 263.3L415.8 263.3L417.3 263.4L418.8 263.4L420.3 263.4L421.8 263.5L423.3 263.5L424.8 263.5L426.3 263.5L427.8 263.6L429.3 263.6L430.8 263.6L432.3 263.6L433.8 263.7L435.3 263.7L436.8 263.7L438.2 263.7L439.7 263.8L441.2 263.8L442.4 263.8L443.3 263.8" stroke="#c8c8c8" stroke-width="1.20"/>
<path d="M88.8 9.4L88.9 10.9L89.0 12.4L89.1 13.9L89.2 15.4L89.4 16.9L89.5 18.4L89.6 19.9L89.7 21.4L89.8 22.9L89.9 24.4L90.0 25.9L90.1 27.4L90.3 28.9L90.4 30.4L90.5 31.9L90.6 33.4L90.8 34.9L90.9 36.4L91.0 37.9L91.2 39.4L91.3 40.8L91.5 42.3L91.6 43.8L91.8 45.3L92.0 46.8L92.1 48.3L92.3 49.8L92.5 51.3L92.7 52.8L92.9 54.2L93.1 55.7L93.3 57.2L93.6 58.7L93.8 60.2L94.0 61.7L94.3 63.1L94.5 64.6L94.8 66.1L95.1 67.6L95.4 69.0L95.6 70.5L95.9 72.0L96.2 73.5L96.5 74.9L96.9 76.4L97.2 77.9L97.5 79.3L97.8 80.8L98.1 82.3L98.5 83.7L98.8 85.2L99.1 86.6L99.5 88.1L99.8 89.6L100.1 91.0L100.4 92.5L100.8 94.0L101.1 95.4L101.4 96.9L101.7 98.4L102.0 99.8L102.3 101.3L102.6 102.8L102.9 104.2L103.2 105.7L103.5 107.2L103.8 108.7L104.1 110.1L104.3 111.6L104.6 113.1L104.9 114.6L105.1 116.0L105.4 117.5L105.6 119.0L105.9 120.5L106.1 122.0L106.4 123.4L106.6 124.9L106.8 126.4L107.1 127.9L107.3 129.4L107.5 130.8L107.8 132.3L108.0 133.8L108.2 135.3L108.4 136.8L108.7 138.3L108.9 139.7L109.1 141.2L109.3 142.7L109.6 144.2L109.8 145.7L110.0 147.2L110.2 148.6L110.4 150.1L110.7 151.6L110.9 153.1L111.1 154.6L111.4 156.1L111.6 157.5L111.8 159.0L112.1 160.5L112.3 162.0L112.5 163.5L112.8 164.9L113.0 166.4L113.2 167.9L113.4 169.4L113.7 170.9L113.9 172.4L114.1 173.8L114.4 175.3L114.6 176.8L114.8 178.3L115.1 179.8L115.3 181.2L115.5 182.7L115.8 184.2L116.0 185.7L116.2 187.2L116.5 188.7L116.7 190.1L117.0 191.6L117.2 193.1L117.5 194.6L117.7 196.0L118.0 197.5L118.2 199.0L118.5 200.5L118.8 202.0L119.1 203.4L119.3 204.9L119.6 206.4L119.9 207.8L120.2 209.3L120.5 210.8L120.8 212.2L121.2 213.7L121.5 215.2L121.8 216.6L122.1 218.1L122.4 219.6L122.8 221.0L123.1 222.5L123.4 224.0L123.8 225.4L124.1 226.9L124.4 228.3L124.8 229.8L125.1 231.3L125.5 232.7L125.8 234.2L126.2 235.6L126.5 237.1L126.9 238.6L127.3 240.0L127.6 241.5L128.0 242.9L128.4 244.4L128.8 245.8L129.2 247.3L129.7 248.7L130.1 250.1L130.6 251.5L131.1 252.9L131.8 254.3L132.5 255.6L133.2 256.9L134.2 258.0L135.2 259.1L136.3 260.1L137.5 261.0L138.8 261.8L140.1 262.5L141.4 263.2L142.8 263.8L144.1 264.4L145.5 264.9L146.9 265.4L148.4 265.9L149.8 266.1L151.3 266.2L152.7 266.0L154.2 265.7L155.6 265.2L157.0 264.7L158.3 264.1L159.7 263.5L161.1 262.9L162.4 262.2L163.8 261.5L165.1 260.8L166.4 260.1L167.7 259.4L169.0 258.7L170.4 258.0L171.7 257.3L173.1 256.7L174.4 256.0L175.7 255.3L177.0 254.5L178.3 253.8L179.6 253.0L180.9 252.2L182.2 251.5L183.5 250.8L184.8 250.0L186.1 249.3L187.4 248.6L188.8 247.9L190.1 247.2L191.4 246.4L192.7 245.7L194.0 244.9L195.3 244.2L196.6 243.4L197.9 242.7L199.2 242.0L200.5 241.3L201.9 240.6L203.3 240.0L204.6 239.4L206.0 238.8L207.4 238.2L208.8 237.6L210.2 237.2L211.6 236.8L213.1 236.5L214.6 236.4L216.1 236.4L217.5 236.5L219.0 236.7L220.5 237.0L221.9 237.4L223.4 237.8L224.8 238.3L226.2 238.8L227.6 239.3L229.0 239.8L230.5 240.2L231.9 240.5L233.4 240.8L234.9 241.0L236.3 241.3L237.8 241.5L239.3 241.8L240.8 242.0L242.3 242.3L243.8 242.5L245.2 242.7L246.7 242.9L248.2 243.1L249.7 243.3L251.2 243.5L252.7 243.5L254.1 243.5L255.6 243.3L257.1 243.1L258.6 242.9L260.1 242.6L261.5 242.3L263.0 242.1L264.5 241.9L266.0 241.6L267.5 241.4L269.0 241.3L270.5 241.1L271.9 240.9L273.4 240.8L274.9 240.7L276.4 240.6L277.9 240.6L279.4 240.6L280.9 240.7L282.4 240.8L283.9 241.0L285.4 241.3L286.9 241.6L288.3 241.9L289.8 242.2L291.2 242.6L292.7 243.0L294.1 243.4L295.6 243.8L297.0 244.2L298.4 244.7L299.8 245.2L301.2 245.7L302.6 246.3L304.0 246.9L305.3 247.6L306.7 248.2L308.0 249.0L309.3 249.7L310.6 250.4L312.0 251.1L313.3 251.8L314.6 252.5L316.0 253.1L317.3 253.7L318.7 254.3L320.1 254.9L321.5 255.4L323.0 255.8L324.4 256.3L325.8 256.7L327.3 257.2L328.7 257.6L330.1 258.0L331.6 258.4L333.0 258.8L334.5 259.1L335.9 259.5L337.4 259.9L338.9 260.2L340.3 260.6L341.8 260.8L343.3 261.1L344.8 261.2L346.2 261.3L347.7 261.4L349.2 261.4L350.7 261.5L352.2 261.5L353.7 261.5L355.2 261.6L356.7 261.6L358.2 261.6L359.7 261.7L361.2 261.7L362.7 261.7L364.2 261.7L365.7 261.7L367.2 261.7L368.7 261.7L370.2 261.6L371.7 261.5L373.2 261.4L374.7 261.3L376.2 261.3L377.7 261.2L379.2 261.1L380.7 261.0L382.2 260.9L383.7 260.9L385.2 260.8L386.7 260.7L388.2 260.6L389.7 260.5L391.2 260.4L392.7 260.4L394.2 260.3L395.7 260.2L397.2 260.2L398.7 260.1L400.2 260.1L401.7 260.1L403.2 260.1L404.7 260.1L406.2 260.2L407.7 260.2L409.2 260.3L410.7 260.3L412.2 260.3L413.7 260.4L415.2 260.4L416.7 260.5L418.2 260.5L419.7 260.6L421.2 260.6L422.7 260.6L424.2 260.7L425.7 260.7L427.2 260.8L428.7 260.8L430.2 260.8L431.7 260.9L433.2 260.9L434.7 261.0L436.2 261.0L437.7 261.1L439.2 261.1L440.7 261.1L441.9 261.2L442.8 261.2" stroke="#c8c8c8" stroke-width="1.20"/>
<path d="M88.8 9.4L88.9 10.9L89.0 12.4L89.1 13.9L89.2 15.4L89.3 16.9L89.4 18.4L89.5 19.9L89.7 21.4L89.8 22.9L89.9 24.4L90.0 25.9L90.1 27.4L90.2 28.9L90.3 30.4L90.5 31.9L90.6 33.4L90.7 34.9L90.8 36.4L91.0 37.9L91.1 39.4L91.3 40.8L91.4 42.3L91.6 43.8L91.7 45.3L91.9 46.8L92.1 48.3L92.2 49.8L92.4 51.3L92.6 52.8L92.8 54.3L93.0 55.7L93.2 57.2L93.4 58.7L93.6 60.2L93.9 61.7L94.1 63.2L94.4 64.6L94.6 66.1L94.9 67.6L95.1 69.1L95.4 70.5L95.7 72.0L96.0 73.5L96.3 75.0L96.6 76.4L96.9 77.9L97.2 79.4L97.5 80.8L97.8 82.3L98.1 83.8L98.4 85.2L98.7 86.7L99.1 88.2L99.4 89.6L99.7 91.1L100.0 92.6L100.3 94.0L100.6 95.5L100.9 97.0L101.2 98.4L101.5 99.9L101.8 101.4L102.1 102.9L102.4 104.3L102.7 105.8L103.0 107.3L103.2 108.8L103.5 110.2L103.7 111.7L104.0 113.2L104.2 114.7L104.5 116.1L104.7 117.6L105.0 119.1L105.2 120.6L105.4 122.1L105.7 123.6L105.9 125.0L106.1 126.5L106.4 128.0L106.6 129.5L106.8 131.0L107.0 132.4L107.3 133.9L107.5 135.4L107.7 136.9L107.9 138.4L108.1 139.9L108.4 141.4L108.6 142.8L108.8 144.3L109.0 145.8L109.2 147.3L109.5 148.8L109.7 150.3L109.9 151.7L110.1 153.2L110.3 154.7L110.6 156.2L110.8 157.7L111.0 159.2L111.3 160.6L111.5 162.1L111.7 163.6L112.0 165.1L112.2 166.6L112.5 168.0L112.7 169.5L112.9 171.0L113.2 172.5L113.4 174.0L113.6 175.4L113.9 176.9L114.1 178.4L114.4 179.9L114.6 181.4L114.9 182.8L115.1 184.3L115.3 185.8L115.6 187.3L115.8 188.8L116.1 190.2L116.4 191.7L116.6 193.2L116.9 194.7L117.1 196.1L117.4 197.6L117.7 199.1L118.0 200.6L118.2 202.0L118.5 203.5L118.8 205.0L119.1 206.5L119.4 207.9L119.7 209.4L120.0 210.9L120.4 212.3L120.7 213.8L121.0 215.3L121.3 216.7L121.6 218.2L122.0 219.7L122.3 221.1L122.6 222.6L123.0 224.0L123.3 225.5L123.7 227.0L124.0 228.4L124.4 229.9L124.7 231.3L125.1 232.8L125.4 234.3L125.8 235.7L126.2 237.2L126.5 238.6L126.9 240.1L127.3 241.5L127.7 243.0L128.1 244.4L128.5 245.8L128.9 247.3L129.4 248.7L129.9 250.1L130.4 251.5L131.0 252.9L131.6 254.3L132.3 255.6L133.1 256.8L134.1 258.0L135.1 259.0L136.3 259.9L137.5 260.7L138.9 261.4L140.2 262.0L141.6 262.6L143.0 263.1L144.5 263.6L145.9 264.0L147.3 264.3L148.8 264.6L150.3 264.6L151.7 264.5L153.2 264.2L154.6 263.7L155.9 263.1L157.3 262.4L158.6 261.7L159.9 261.0L161.2 260.3L162.5 259.5L163.8 258.8L165.1 258.0L166.4 257.2L167.7 256.5L169.0 255.7L170.3 255.0L171.6 254.3L173.0 253.6L174.3 252.9L175.6 252.2L176.9 251.5L178.2 250.8L179.5 250.0L180.9 249.3L182.2 248.6L183.5 247.9L184.8 247.2L186.2 246.6L187.5 245.9L188.9 245.2L190.2 244.6L191.6 243.9L192.9 243.2L194.2 242.5L195.5 241.8L196.9 241.1L198.2 240.4L199.6 239.8L200.9 239.2L202.3 238.6L203.7 238.0L205.1 237.4L206.5 236.8L207.9 236.3L209.3 235.8L210.7 235.4L212.2 235.1L213.7 234.9L215.1 234.9L216.6 234.9L218.1 235.0L219.6 235.3L221.1 235.6L222.5 235.9L223.9 236.4L225.4 236.8L226.8 237.3L228.2 237.7L229.7 238.1L231.1 238.4L232.6 238.6L234.1 238.9L235.6 239.1L237.1 239.3L238.6 239.5L240.1 239.7L241.5 239.8L243.0 240.0L244.5 240.1L246.0 240.2L247.5 240.4L249.0 240.5L250.5 240.6L252.0 240.6L253.5 240.6L255.0 240.4L256.4 240.2L257.9 239.9L259.4 239.6L260.9 239.3L262.3 239.1L263.8 238.8L265.3 238.5L266.8 238.3L268.3 238.1L269.7 237.9L271.2 237.8L272.7 237.6L274.2 237.5L275.7 237.4L277.2 237.4L278.7 237.4L280.2 237.5L281.7 237.6L283.2 237.8L284.7 238.1L286.1 238.4L287.6 238.8L289.0 239.2L290.5 239.6L291.9 240.0L293.3 240.5L294.8 240.9L296.2 241.4L297.6 242.0L299.0 242.5L300.4 243.1L301.7 243.7L303.1 244.4L304.4 245.1L305.7 245.8L307.0 246.6L308.3 247.3L309.6 248.1L310.8 248.9L312.1 249.6L313.4 250.4L314.8 251.1L316.1 251.8L317.5 252.4L318.8 253.0L320.2 253.6L321.6 254.1L323.0 254.6L324.4 255.1L325.9 255.6L327.3 256.1L328.7 256.5L330.1 257.0L331.6 257.4L333.0 257.8L334.5 258.2L335.9 258.6L337.4 259.0L338.8 259.4L340.3 259.7L341.7 260.0L343.2 260.3L344.7 260.4L346.2 260.6L347.7 260.7L349.2 260.7L350.7 260.8L352.2 260.8L353.7 260.9L355.2 260.9L356.7 261.0L358.2 261.0L359.7 261.0L361.2 261.1L362.7 261.1L364.2 261.1L365.7 261.1L367.2 261.1L368.7 261.1L370.2 261.0L371.7 260.9L373.2 260.9L374.7 260.8L376.2 260.7L377.7 260.6L379.2 260.6L380.7 260.5L382.2 260.4L383.7 260.3L385.2 260.3L386.7 260.2L388.2 260.1L389.7 260.0L391.2 260.0L392.7 259.9L394.2 259.8L395.7 259.7L397.1 259.7L398.6 259.7L400.1 259.6L401.6 259.7L403.1 259.7L404.6 259.7L406.1 259.7L407.6 259.8L409.1 259.8L410.6 259.9L412.1 259.9L413.6 260.0L415.1 260.0L416.6 260.1L418.1 260.1L419.6 260.1L421.1 260.2L422.6 260.2L424.1 260.3L425.6 260.3L427.1 260.4L428.6 260.4L430.1 260.5L431.6 260.5L433.1 260.5L434.6 260.6L436.1 260.6L437.6 260.7L439.1 260.7L440.6 260.8L441.8 260.8L442.7 260.8" stroke="#c8c8c8" stroke-width="1.20"/>
<path d="M88.8 9.4L88.9 10.9L89.0 12.4L89.1 13.9L89.2 15.4L89.3 16.9L89.4 18.4L89.5 19.9L89.6 21.4L89.7 22.9L89.8 24.4L89.9 25.9L90.0 27.4L90.1 28.9L90.3 30.4L90.4 31.9L90.5 33.4L90.6 34.9L90.7 36.4L90.9 37.9L91.0 39.4L91.1 40.9L91.3 42.3L91.4 43.8L91.6 45.3L91.7 46.8L91.9 48.3L92.1 49.8L92.2 51.3L92.4 52.8L92.6 54.3L92.8 55.8L93.0 57.3L93.2 58.7L93.4 60.2L93.6 61.7L93.8 63.2L94.0 64.7L94.3 66.2L94.5 67.6L94.8 69.1L95.0 70.6L95.3 72.1L95.5 73.5L95.8 75.0L96.1 76.5L96.3 78.0L96.6 79.4L96.9 80.9L97.2 82.4L97.5 83.9L97.8 85.3L98.0 86.8L98.3 88.3L98.6 89.8L98.9 91.2L99.2 92.7L99.5 94.2L99.7 95.7L100.0 97.1L100.3 98.6L100.6 100.1L100.9 101.5L101.1 103.0L101.4 104.5L101.6 106.0L101.9 107.5L102.1 108.9L102.4 110.4L102.6 111.9L102.9 113.4L103.1 114.9L103.3 116.3L103.6 117.8L103.8 119.3L104.0 120.8L104.2 122.3L104.4 123.8L104.7 125.2L104.9 126.7L105.1 128.2L105.3 129.7L105.5 131.2L105.7 132.7L105.9 134.2L106.1 135.6L106.3 137.1L106.6 138.6L106.8 140.1L107.0 141.6L107.2 143.1L107.4 144.5L107.6 146.0L107.8 147.5L108.0 149.0L108.3 150.5L108.5 152.0L108.7 153.5L108.9 154.9L109.2 156.4L109.4 157.9L109.6 159.4L109.9 160.9L110.1 162.3L110.3 163.8L110.6 165.3L110.8 166.8L111.1 168.3L111.3 169.7L111.6 171.2L111.8 172.7L112.1 174.2L112.3 175.7L112.6 177.1L112.8 178.6L113.1 180.1L113.4 181.6L113.6 183.0L113.9 184.5L114.2 186.0L114.4 187.5L114.7 188.9L115.0 190.4L115.3 191.9L115.5 193.4L115.8 194.8L116.1 196.3L116.4 197.8L116.7 199.3L117.0 200.7L117.3 202.2L117.6 203.7L117.9 205.1L118.2 206.6L118.5 208.1L118.8 209.5L119.1 211.0L119.4 212.5L119.8 213.9L120.1 215.4L120.4 216.9L120.8 218.3L121.1 219.8L121.5 221.2L121.8 222.7L122.2 224.2L122.5 225.6L122.9 227.1L123.2 228.5L123.6 230.0L124.0 231.4L124.3 232.9L124.7 234.3L125.1 235.8L125.5 237.2L125.9 238.7L126.3 240.1L126.7 241.6L127.1 243.0L127.5 244.5L128.0 245.9L128.5 247.3L128.9 248.7L129.5 250.1L130.0 251.5L130.6 252.9L131.3 254.2L132.1 255.5L132.9 256.7L133.9 257.8L135.0 258.8L136.3 259.6L137.6 260.2L139.0 260.7L140.4 261.1L141.9 261.5L143.4 261.7L144.9 261.9L146.3 262.0L147.8 262.1L149.3 262.0L150.8 261.7L152.2 261.3L153.5 260.7L154.8 260.0L156.1 259.2L157.4 258.4L158.6 257.5L159.8 256.7L161.0 255.8L162.2 254.9L163.4 254.0L164.6 253.1L165.9 252.3L167.1 251.4L168.4 250.6L169.7 249.8L170.9 249.0L172.2 248.3L173.6 247.6L174.9 246.9L176.2 246.2L177.5 245.5L178.9 244.8L180.2 244.1L181.6 243.5L183.0 242.9L184.3 242.3L185.7 241.7L187.1 241.2L188.5 240.6L189.9 240.1L191.3 239.5L192.7 238.9L194.1 238.4L195.4 237.8L196.8 237.2L198.2 236.6L199.6 236.1L201.0 235.5L202.4 235.0L203.8 234.6L205.3 234.1L206.7 233.6L208.1 233.2L209.6 232.8L211.0 232.5L212.5 232.2L214.0 232.1L215.5 232.1L217.0 232.2L218.5 232.3L219.9 232.5L221.4 232.8L222.9 233.1L224.3 233.4L225.8 233.8L227.2 234.2L228.7 234.5L230.2 234.8L231.7 234.9L233.1 235.1L234.6 235.2L236.1 235.3L237.6 235.4L239.1 235.5L240.6 235.6L242.1 235.6L243.6 235.6L245.1 235.6L246.6 235.5L248.1 235.5L249.6 235.5L251.1 235.4L252.6 235.3L254.1 235.1L255.6 234.8L257.0 234.5L258.5 234.2L259.9 233.8L261.4 233.5L262.9 233.2L264.3 232.9L265.8 232.6L267.3 232.3L268.8 232.1L270.3 231.9L271.7 231.7L273.2 231.6L274.7 231.6L276.2 231.5L277.7 231.6L279.2 231.6L280.7 231.8L282.2 232.0L283.7 232.3L285.1 232.6L286.6 233.0L288.0 233.5L289.4 234.0L290.8 234.5L292.2 235.0L293.6 235.6L295.0 236.2L296.3 236.8L297.7 237.5L299.0 238.1L300.3 238.9L301.6 239.6L302.9 240.4L304.2 241.2L305.4 242.1L306.6 242.9L307.9 243.8L309.1 244.7L310.3 245.5L311.5 246.4L312.8 247.2L314.1 248.0L315.4 248.7L316.7 249.4L318.0 250.1L319.4 250.7L320.8 251.4L322.1 252.0L323.5 252.6L324.9 253.1L326.3 253.7L327.7 254.2L329.1 254.8L330.5 255.3L331.9 255.8L333.3 256.2L334.8 256.7L336.2 257.1L337.7 257.5L339.1 257.9L340.6 258.3L342.0 258.6L343.5 258.8L345.0 259.1L346.5 259.2L348.0 259.3L349.5 259.4L351.0 259.5L352.5 259.6L354.0 259.6L355.5 259.7L357.0 259.8L358.4 259.8L359.9 259.9L361.4 259.9L362.9 260.0L364.4 260.0L365.9 260.0L367.4 260.0L368.9 260.0L370.4 259.9L371.9 259.9L373.4 259.8L374.9 259.8L376.4 259.7L377.9 259.6L379.4 259.6L380.9 259.5L382.4 259.4L383.9 259.4L385.4 259.3L386.9 259.3L388.4 259.2L389.9 259.1L391.4 259.1L392.9 259.0L394.4 258.9L395.9 258.9L397.4 258.9L398.9 258.8L400.4 258.8L401.9 258.8L403.4 258.9L404.9 258.9L406.4 259.0L407.9 259.0L409.4 259.1L410.9 259.1L412.4 259.2L413.9 259.2L415.4 259.3L416.9 259.3L418.4 259.4L419.9 259.4L421.4 259.5L422.9 259.5L424.4 259.6L425.9 259.6L427.4 259.7L428.9 259.7L430.4 259.8L431.9 259.8L433.4 259.9L434.9 259.9L436.4 260.0L437.9 260.0L439.4 260.1L440.9 260.1L442.1 260.1L443.0 260.2" stroke="#c8c8c8" stroke-width="1.20"/>
<path d="M88.8 9.4L88.9 10.9L89.0 12.4L89.1 13.9L89.2 15.4L89.3 16.9L89.4 18.4L89.5 19.9L89.6 21.4L89.7 22.9L89.8 24.4L89.9 25.9L90.0 27.4L90.1 28.9L90.2 30.4L90.3 31.9L90.4 33.4L90.6 34.9L90.7 36.4L90.8 37.9L90.9 39.4L91.1 40.9L91.2 42.4L91.3 43.8L91.5 45.3L91.6 46.8L91.8 48.3L91.9 49.8L92.1 51.3L92.3 52.8L92.4 54.3L92.6 55.8L92.8 57.3L93.0 58.8L93.2 60.2L93.4 61.7L93.6 63.2L93.8 64.7L94.0 66.2L94.2 67.7L94.5 69.1L94.7 70.6L94.9 72.1L95.2 73.6L95.4 75.1L95.7 76.5L95.9 78.0L96.2 79.5L96.5 81.0L96.7 82.5L97.0 83.9L97.3 85.4L97.5 86.9L97.8 88.4L98.1 89.8L98.3 91.3L98.6 92.8L98.8 94.3L99.1 95.7L99.4 97.2L99.6 98.7L99.9 100.2L100.1 101.7L100.4 103.1L100.6 104.6L100.9 106.1L101.1 107.6L101.4 109.1L101.6 110.5L101.8 112.0L102.0 113.5L102.3 115.0L102.5 116.5L102.7 118.0L102.9 119.4L103.1 120.9L103.3 122.4L103.5 123.9L103.7 125.4L103.9 126.9L104.2 128.4L104.4 129.8L104.6 131.3L104.8 132.8L105.0 134.3L105.2 135.8L105.4 137.3L105.6 138.8L105.8 140.2L106.0 141.7L106.2 143.2L106.4 144.7L106.6 146.2L106.8 147.7L107.0 149.2L107.2 150.6L107.4 152.1L107.7 153.6L107.9 155.1L108.1 156.6L108.3 158.1L108.6 159.5L108.8 161.0L109.1 162.5L109.3 164.0L109.6 165.5L109.8 166.9L110.1 168.4L110.3 169.9L110.6 171.4L110.8 172.9L111.1 174.3L111.4 175.8L111.6 177.3L111.9 178.8L112.2 180.2L112.5 181.7L112.7 183.2L113.0 184.7L113.3 186.1L113.6 187.6L113.9 189.1L114.2 190.5L114.5 192.0L114.7 193.5L115.0 195.0L115.3 196.4L115.6 197.9L115.9 199.4L116.2 200.8L116.5 202.3L116.9 203.8L117.2 205.2L117.5 206.7L117.8 208.2L118.1 209.6L118.5 211.1L118.8 212.6L119.1 214.0L119.5 215.5L119.8 216.9L120.1 218.4L120.5 219.9L120.9 221.3L121.2 222.8L121.6 224.2L121.9 225.7L122.3 227.1L122.7 228.6L123.0 230.0L123.4 231.5L123.8 232.9L124.2 234.4L124.6 235.8L125.0 237.3L125.4 238.7L125.8 240.2L126.3 241.6L126.7 243.0L127.1 244.5L127.6 245.9L128.1 247.3L128.6 248.7L129.1 250.1L129.7 251.5L130.3 252.9L131.1 254.2L131.9 255.4L132.8 256.6L133.8 257.7L134.9 258.6L136.2 259.3L137.6 259.8L139.0 260.2L140.5 260.4L142.0 260.6L143.5 260.6L145.0 260.6L146.5 260.5L147.9 260.4L149.4 260.1L150.8 259.6L152.2 259.0L153.5 258.3L154.7 257.5L155.9 256.6L157.1 255.7L158.3 254.8L159.4 253.8L160.6 252.8L161.7 251.8L162.8 250.8L164.0 249.9L165.2 249.0L166.4 248.1L167.6 247.2L168.8 246.3L170.1 245.5L171.3 244.7L172.6 244.0L173.9 243.2L175.2 242.5L176.6 241.8L177.9 241.2L179.3 240.6L180.7 240.0L182.1 239.4L183.5 238.9L184.9 238.3L186.3 237.9L187.7 237.4L189.1 236.9L190.6 236.5L192.0 236.0L193.4 235.5L194.8 235.0L196.2 234.5L197.7 234.0L199.1 233.6L200.5 233.1L201.9 232.7L203.4 232.2L204.8 231.8L206.3 231.4L207.7 231.0L209.2 230.7L210.6 230.4L212.1 230.2L213.6 230.1L215.1 230.1L216.6 230.1L218.1 230.2L219.6 230.4L221.1 230.6L222.6 230.9L224.0 231.2L225.5 231.5L227.0 231.8L228.4 232.0L229.9 232.2L231.4 232.4L232.9 232.4L234.4 232.5L235.9 232.5L237.4 232.5L238.9 232.5L240.4 232.5L241.9 232.5L243.4 232.4L244.9 232.2L246.4 232.1L247.9 232.0L249.4 231.9L250.8 231.7L252.3 231.5L253.8 231.2L255.3 230.9L256.7 230.5L258.2 230.2L259.6 229.8L261.1 229.4L262.5 229.0L264.0 228.7L265.4 228.4L266.9 228.1L268.4 227.8L269.9 227.6L271.4 227.4L272.9 227.3L274.4 227.3L275.9 227.2L277.4 227.3L278.8 227.4L280.3 227.5L281.8 227.8L283.3 228.1L284.7 228.4L286.2 228.9L287.6 229.4L289.0 229.9L290.3 230.5L291.7 231.1L293.1 231.8L294.4 232.4L295.7 233.1L297.1 233.8L298.4 234.6L299.7 235.3L300.9 236.1L302.1 237.0L303.4 237.9L304.5 238.8L305.7 239.7L306.9 240.7L308.1 241.6L309.2 242.5L310.4 243.5L311.6 244.4L312.8 245.2L314.1 246.0L315.4 246.8L316.7 247.5L318.0 248.2L319.4 248.9L320.7 249.6L322.0 250.2L323.4 250.9L324.8 251.5L326.1 252.1L327.5 252.7L328.9 253.3L330.3 253.9L331.7 254.4L333.1 254.9L334.5 255.4L336.0 255.8L337.4 256.3L338.8 256.7L340.3 257.1L341.7 257.4L343.2 257.7L344.7 258.0L346.2 258.2L347.6 258.3L349.1 258.4L350.6 258.5L352.1 258.6L353.6 258.7L355.1 258.8L356.6 258.9L358.1 258.9L359.6 259.0L361.1 259.1L362.6 259.1L364.1 259.2L365.6 259.2L367.1 259.2L368.6 259.2L370.1 259.2L371.6 259.1L373.1 259.1L374.6 259.0L376.1 259.0L377.6 258.9L379.1 258.9L380.6 258.8L382.1 258.8L383.6 258.7L385.1 258.6L386.6 258.6L388.1 258.5L389.6 258.5L391.1 258.4L392.6 258.4L394.1 258.3L395.6 258.3L397.1 258.3L398.6 258.2L400.1 258.2L401.6 258.3L403.1 258.3L404.6 258.3L406.1 258.4L407.6 258.4L409.1 258.5L410.6 258.5L412.1 258.6L413.6 258.6L415.1 258.7L416.6 258.7L418.1 258.8L419.6 258.9L421.1 258.9L422.6 259.0L424.1 259.0L425.6 259.1L427.1 259.1L428.6 259.2L430.1 259.2L431.6 259.3L433.1 259.3L434.6 259.4L436.1 259.4L437.6 259.5L439.1 259.5L440.6 259.6L441.8 259.6L442.7 259.7" stroke="#c8c8c8" stroke-width="1.20"/>
<path d="M88.8 9.4L88.9 10.9L89.0 12.4L89.0 13.9L89.1 15.4L89.2 16.9L89.3 18.4L89.4 19.9L89.5 21.4L89.6 22.9L89.7 24.4L89.9 25.9L90.0 27.4L90.1 28.9L90.2 30.4L90.3 31.9L90.4 33.4L90.5 34.9L90.6 36.4L90.8 37.9L90.9 39.4L91.0 40.9L91.1 42.4L91.3 43.9L91.4 45.3L91.6 46.8L91.7 48.3L91.9 49.8L92.0 51.3L92.2 52.8L92.3 54.3L92.5 55.8L92.7 57.3L92.9 58.8L93.0 60.3L93.2 61.7L93.4 63.2L93.6 64.7L93.8 66.2L94.0 67.7L94.3 69.2L94.5 70.7L94.7 72.1L94.9 73.6L95.2 75.1L95.4 76.6L95.7 78.1L95.9 79.5L96.1 81.0L96.4 82.5L96.6 84.0L96.9 85.5L97.1 86.9L97.4 88.4L97.6 89.9L97.9 91.4L98.1 92.9L98.4 94.3L98.6 95.8L98.9 97.3L99.1 98.8L99.4 100.3L99.6 101.7L99.8 103.2L100.1 104.7L100.3 106.2L100.5 107.7L100.8 109.1L101.0 110.6L101.2 112.1L101.4 113.6L101.6 115.1L101.8 116.6L102.0 118.1L102.3 119.5L102.5 121.0L102.7 122.5L102.9 124.0L103.1 125.5L103.3 127.0L103.4 128.5L103.6 129.9L103.8 131.4L104.0 132.9L104.2 134.4L104.4 135.9L104.6 137.4L104.8 138.9L105.0 140.4L105.2 141.8L105.4 143.3L105.6 144.8L105.8 146.3L106.0 147.8L106.2 149.3L106.5 150.8L106.7 152.2L106.9 153.7L107.1 155.2L107.3 156.7L107.6 158.2L107.8 159.7L108.0 161.1L108.3 162.6L108.5 164.1L108.8 165.6L109.0 167.1L109.3 168.5L109.6 170.0L109.8 171.5L110.1 173.0L110.4 174.4L110.6 175.9L110.9 177.4L111.2 178.9L111.5 180.3L111.8 181.8L112.1 183.3L112.4 184.7L112.7 186.2L112.9 187.7L113.2 189.2L113.5 190.6L113.8 192.1L114.2 193.6L114.5 195.0L114.8 196.5L115.1 198.0L115.4 199.4L115.7 200.9L116.0 202.4L116.3 203.8L116.6 205.3L117.0 206.8L117.3 208.2L117.6 209.7L118.0 211.2L118.3 212.6L118.6 214.1L119.0 215.5L119.3 217.0L119.7 218.5L120.0 219.9L120.4 221.4L120.8 222.8L121.1 224.3L121.5 225.7L121.9 227.2L122.2 228.6L122.6 230.1L123.0 231.5L123.4 233.0L123.8 234.4L124.2 235.9L124.6 237.3L125.1 238.8L125.5 240.2L125.9 241.6L126.4 243.1L126.8 244.5L127.3 245.9L127.8 247.3L128.3 248.7L128.9 250.1L129.5 251.5L130.1 252.8L130.9 254.1L131.7 255.4L132.6 256.6L133.7 257.6L134.8 258.4L136.1 259.1L137.5 259.5L139.0 259.8L140.5 259.9L142.0 259.9L143.5 259.8L144.9 259.6L146.4 259.4L147.9 259.1L149.3 258.7L150.7 258.1L152.0 257.4L153.3 256.7L154.5 255.8L155.7 254.9L156.8 253.9L157.9 252.9L159.0 251.8L160.1 250.8L161.1 249.7L162.2 248.7L163.3 247.7L164.5 246.7L165.6 245.8L166.8 244.8L168.0 243.9L169.2 243.1L170.5 242.2L171.7 241.4L173.0 240.6L174.3 239.9L175.6 239.2L177.0 238.5L178.3 237.9L179.7 237.3L181.1 236.8L182.5 236.3L184.0 235.8L185.4 235.4L186.8 235.0L188.3 234.6L189.7 234.2L191.2 233.8L192.6 233.4L194.1 233.0L195.5 232.6L196.9 232.1L198.4 231.7L199.8 231.3L201.3 230.9L202.7 230.6L204.2 230.2L205.6 229.8L207.1 229.5L208.6 229.2L210.0 228.9L211.5 228.7L213.0 228.6L214.5 228.6L216.0 228.6L217.5 228.7L219.0 228.8L220.5 229.0L222.0 229.2L223.4 229.4L224.9 229.7L226.4 229.9L227.9 230.2L229.4 230.3L230.9 230.4L232.4 230.4L233.9 230.4L235.4 230.4L236.9 230.4L238.3 230.4L239.8 230.3L241.3 230.2L242.8 230.0L244.3 229.8L245.8 229.6L247.3 229.4L248.8 229.2L250.3 229.0L251.7 228.7L253.2 228.4L254.7 228.1L256.1 227.7L257.5 227.3L259.0 226.9L260.4 226.4L261.9 226.0L263.3 225.7L264.8 225.3L266.2 225.0L267.7 224.7L269.2 224.5L270.7 224.3L272.2 224.1L273.7 224.0L275.2 224.0L276.7 224.0L278.2 224.1L279.6 224.3L281.1 224.5L282.6 224.8L284.0 225.2L285.5 225.6L286.9 226.1L288.3 226.7L289.6 227.3L291.0 228.0L292.3 228.6L293.6 229.4L294.9 230.1L296.2 230.8L297.5 231.6L298.8 232.4L300.0 233.2L301.2 234.1L302.4 235.0L303.6 236.0L304.7 237.0L305.9 237.9L307.0 238.9L308.2 239.9L309.3 240.9L310.4 241.8L311.6 242.8L312.8 243.7L314.0 244.5L315.3 245.3L316.6 246.1L317.9 246.8L319.2 247.5L320.6 248.2L321.9 248.9L323.2 249.6L324.6 250.2L325.9 250.9L327.3 251.5L328.6 252.2L330.0 252.8L331.4 253.3L332.8 253.9L334.2 254.4L335.6 254.8L337.1 255.3L338.5 255.7L339.9 256.1L341.4 256.5L342.9 256.9L344.3 257.1L345.8 257.4L347.3 257.5L348.8 257.7L350.3 257.8L351.8 257.9L353.3 258.0L354.8 258.1L356.3 258.2L357.8 258.3L359.3 258.3L360.8 258.4L362.3 258.5L363.8 258.6L365.3 258.6L366.8 258.6L368.3 258.6L369.8 258.6L371.3 258.6L372.8 258.5L374.3 258.5L375.8 258.4L377.2 258.4L378.7 258.3L380.2 258.3L381.7 258.2L383.2 258.2L384.7 258.1L386.2 258.1L387.7 258.1L389.2 258.0L390.7 258.0L392.2 257.9L393.7 257.9L395.2 257.8L396.7 257.8L398.2 257.8L399.7 257.8L401.2 257.8L402.7 257.8L404.2 257.9L405.7 257.9L407.2 258.0L408.7 258.0L410.2 258.1L411.7 258.2L413.2 258.2L414.7 258.3L416.2 258.3L417.7 258.4L419.2 258.4L420.7 258.5L422.2 258.5L423.7 258.6L425.2 258.7L426.7 258.7L428.2 258.8L429.7 258.8L431.2 258.9L432.7 258.9L434.2 259.0L435.7 259.1L437.2 259.1L438.7 259.2L440.2 259.2L441.7 259.3L442.9 259.3L443.8 259.4" stroke="#c8c8c8" stroke-width="1.20"/>
<path d="M88.8 9.4L88.8 10.9L88.9 12.4L89.0 13.9L89.1 15.4L89.2 16.9L89.3 18.4L89.4 19.9L89.5 21.4L89.6 22.9L89.7 24.4L89.8 25.9L89.9 27.4L90.0 28.9L90.1 30.4L90.2 31.9L90.3 33.4L90.4 34.9L90.6 36.4L90.7 37.9L90.8 39.4L90.9 40.9L91.0 42.4L91.2 43.9L91.3 45.4L91.4 46.8L91.6 48.3L91.7 49.8L91.9 51.3L92.0 52.8L92.2 54.3L92.3 55.8L92.5 57.3L92.7 58.8L92.8 60.3L93.0 61.8L93.2 63.2L93.4 64.7L93.6 66.2L93.8 67.7L94.0 69.2L94.2 70.7L94.4 72.2L94.6 73.7L94.8 75.1L95.0 76.6L95.3 78.1L95.5 79.6L95.7 81.1L95.9 82.6L96.2 84.0L96.4 85.5L96.6 87.0L96.8 88.5L97.1 90.0L97.3 91.5L97.5 92.9L97.8 94.4L98.0 95.9L98.2 97.4L98.4 98.9L98.7 100.3L98.9 101.8L99.1 103.3L99.3 104.8L99.6 106.3L99.8 107.8L100.0 109.3L100.2 110.7L100.4 112.2L100.6 113.7L100.8 115.2L101.0 116.7L101.2 118.2L101.4 119.7L101.6 121.1L101.8 122.6L101.9 124.1L102.1 125.6L102.3 127.1L102.5 128.6L102.7 130.1L102.9 131.6L103.1 133.1L103.3 134.5L103.4 136.0L103.6 137.5L103.8 139.0L104.0 140.5L104.2 142.0L104.4 143.5L104.6 145.0L104.8 146.4L105.0 147.9L105.2 149.4L105.4 150.9L105.6 152.4L105.8 153.9L106.1 155.4L106.3 156.8L106.5 158.3L106.8 159.8L107.0 161.3L107.2 162.8L107.5 164.2L107.8 165.7L108.0 167.2L108.3 168.7L108.6 170.1L108.8 171.6L109.1 173.1L109.4 174.6L109.7 176.0L110.0 177.5L110.3 179.0L110.6 180.4L110.9 181.9L111.2 183.4L111.5 184.9L111.8 186.3L112.1 187.8L112.4 189.3L112.7 190.7L113.0 192.2L113.4 193.7L113.7 195.1L114.0 196.6L114.3 198.1L114.6 199.5L115.0 201.0L115.3 202.4L115.6 203.9L115.9 205.4L116.3 206.8L116.6 208.3L116.9 209.8L117.3 211.2L117.6 212.7L118.0 214.1L118.3 215.6L118.7 217.1L119.0 218.5L119.4 220.0L119.8 221.4L120.1 222.9L120.5 224.3L120.9 225.8L121.3 227.2L121.7 228.7L122.1 230.1L122.5 231.6L122.9 233.0L123.3 234.5L123.7 235.9L124.1 237.3L124.6 238.8L125.0 240.2L125.5 241.6L125.9 243.1L126.4 244.5L126.9 245.9L127.4 247.3L128.0 248.7L128.6 250.1L129.2 251.4L129.9 252.8L130.6 254.1L131.4 255.3L132.4 256.4L133.5 257.4L134.7 258.2L136.0 258.8L137.4 259.1L138.9 259.2L140.4 259.1L141.8 259.0L143.3 258.7L144.8 258.4L146.2 258.0L147.6 257.5L149.0 256.9L150.3 256.2L151.6 255.5L152.8 254.6L154.0 253.7L155.1 252.7L156.2 251.7L157.3 250.6L158.3 249.5L159.3 248.4L160.3 247.3L161.3 246.2L162.3 245.1L163.4 244.0L164.5 243.0L165.6 242.0L166.7 241.0L167.9 240.1L169.1 239.1L170.3 238.3L171.5 237.4L172.8 236.6L174.1 235.8L175.4 235.1L176.7 234.5L178.1 233.9L179.5 233.4L181.0 232.9L182.4 232.5L183.8 232.1L185.3 231.7L186.7 231.4L188.2 231.1L189.7 230.8L191.2 230.5L192.6 230.2L194.1 229.9L195.6 229.6L197.0 229.2L198.5 228.9L200.0 228.6L201.4 228.3L202.9 228.0L204.4 227.7L205.8 227.5L207.3 227.2L208.8 226.9L210.3 226.8L211.8 226.6L213.3 226.6L214.8 226.5L216.3 226.6L217.8 226.7L219.3 226.8L220.7 226.9L222.2 227.1L223.7 227.3L225.2 227.5L226.7 227.7L228.2 227.8L229.7 227.9L231.2 227.9L232.7 227.8L234.2 227.7L235.7 227.6L237.2 227.5L238.7 227.4L240.1 227.3L241.6 227.1L243.1 226.8L244.6 226.5L246.0 226.2L247.5 225.9L249.0 225.5L250.4 225.2L251.9 224.9L253.3 224.5L254.8 224.1L256.2 223.6L257.6 223.2L259.1 222.7L260.5 222.3L261.9 221.8L263.4 221.4L264.8 221.0L266.3 220.7L267.7 220.4L269.2 220.1L270.7 219.9L272.2 219.8L273.7 219.7L275.2 219.7L276.7 219.8L278.2 219.9L279.7 220.1L281.1 220.3L282.6 220.7L284.0 221.1L285.4 221.6L286.8 222.1L288.2 222.8L289.5 223.4L290.9 224.1L292.2 224.9L293.4 225.7L294.7 226.4L296.0 227.3L297.2 228.1L298.4 229.0L299.6 229.8L300.8 230.8L302.0 231.7L303.1 232.7L304.2 233.8L305.3 234.8L306.4 235.8L307.4 236.9L308.5 237.9L309.6 238.9L310.7 239.9L311.9 240.9L313.1 241.8L314.3 242.7L315.5 243.5L316.8 244.3L318.1 245.1L319.4 245.8L320.7 246.5L322.0 247.3L323.3 248.0L324.6 248.7L326.0 249.4L327.3 250.1L328.6 250.8L330.0 251.4L331.4 252.0L332.8 252.6L334.2 253.1L335.6 253.6L337.0 254.1L338.4 254.6L339.9 255.0L341.3 255.4L342.8 255.8L344.2 256.1L345.7 256.3L347.2 256.5L348.7 256.7L350.2 256.9L351.7 257.0L353.1 257.1L354.6 257.2L356.1 257.3L357.6 257.4L359.1 257.5L360.6 257.6L362.1 257.6L363.6 257.7L365.1 257.8L366.6 257.8L368.1 257.8L369.6 257.8L371.1 257.8L372.6 257.8L374.1 257.7L375.6 257.7L377.1 257.6L378.6 257.6L380.1 257.6L381.6 257.5L383.1 257.5L384.6 257.5L386.1 257.4L387.6 257.4L389.1 257.4L390.6 257.3L392.1 257.3L393.6 257.2L395.1 257.2L396.6 257.2L398.1 257.2L399.6 257.2L401.1 257.2L402.6 257.2L404.1 257.3L405.6 257.3L407.1 257.4L408.6 257.5L410.1 257.5L411.6 257.6L413.1 257.6L414.6 257.7L416.1 257.8L417.6 257.8L419.1 257.9L420.6 257.9L422.1 258.0L423.6 258.1L425.1 258.1L426.6 258.2L428.1 258.2L429.6 258.3L431.1 258.4L432.6 258.4L434.1 258.5L435.6 258.5L437.1 258.6L438.6 258.7L440.1 258.7L441.6 258.8L442.8 258.8L443.7 258.9" stroke="#c8c8c8" stroke-width="1.20"/>
<path d="M88.7 9.4L88.8 10.9L88.9 12.4L89.0 13.9L89.1 15.4L89.2 16.9L89.3 18.4L89.4 19.9L89.5 21.4L89.6 22.9L89.7 24.4L89.8 25.9L89.9 27.4L90.0 28.9L90.1 30.4L90.2 31.9L90.3 33.4L90.4 34.9L90.5 36.4L90.6 37.9L90.7 39.4L90.9 40.9L91.0 42.4L91.1 43.9L91.2 45.4L91.4 46.9L91.5 48.3L91.6 49.8L91.8 51.3L91.9 52.8L92.1 54.3L92.2 55.8L92.4 57.3L92.5 58.8L92.7 60.3L92.8 61.8L93.0 63.3L93.2 64.8L93.4 66.2L93.5 67.7L93.7 69.2L93.9 70.7L94.1 72.2L94.3 73.7L94.5 75.2L94.7 76.7L94.9 78.1L95.1 79.6L95.3 81.1L95.5 82.6L95.7 84.1L95.9 85.6L96.2 87.1L96.4 88.5L96.6 90.0L96.8 91.5L97.0 93.0L97.2 94.5L97.4 96.0L97.6 97.5L97.8 98.9L98.1 100.4L98.3 101.9L98.5 103.4L98.7 104.9L98.9 106.4L99.1 107.9L99.3 109.3L99.5 110.8L99.7 112.3L99.9 113.8L100.0 115.3L100.2 116.8L100.4 118.3L100.6 119.8L100.8 121.2L101.0 122.7L101.1 124.2L101.3 125.7L101.5 127.2L101.7 128.7L101.9 130.2L102.0 131.7L102.2 133.2L102.4 134.6L102.6 136.1L102.8 137.6L102.9 139.1L103.1 140.6L103.3 142.1L103.5 143.6L103.7 145.1L103.9 146.6L104.1 148.0L104.3 149.5L104.5 151.0L104.7 152.5L104.9 154.0L105.2 155.5L105.4 156.9L105.6 158.4L105.8 159.9L106.1 161.4L106.3 162.9L106.6 164.3L106.9 165.8L107.1 167.3L107.4 168.8L107.7 170.3L108.0 171.7L108.3 173.2L108.5 174.7L108.8 176.1L109.1 177.6L109.5 179.1L109.8 180.5L110.1 182.0L110.4 183.5L110.7 184.9L111.0 186.4L111.4 187.9L111.7 189.3L112.0 190.8L112.3 192.3L112.7 193.7L113.0 195.2L113.3 196.7L113.7 198.1L114.0 199.6L114.3 201.0L114.7 202.5L115.0 204.0L115.3 205.4L115.7 206.9L116.0 208.3L116.3 209.8L116.7 211.3L117.0 212.7L117.4 214.2L117.8 215.6L118.1 217.1L118.5 218.6L118.9 220.0L119.2 221.5L119.6 222.9L120.0 224.4L120.4 225.8L120.8 227.3L121.2 228.7L121.6 230.1L122.0 231.6L122.4 233.0L122.8 234.5L123.3 235.9L123.7 237.3L124.1 238.8L124.6 240.2L125.1 241.6L125.6 243.0L126.1 244.5L126.6 245.9L127.1 247.3L127.7 248.7L128.3 250.0L128.9 251.4L129.6 252.7L130.4 254.0L131.2 255.2L132.2 256.3L133.3 257.3L134.5 258.1L135.8 258.5L137.2 258.8L138.7 258.8L140.2 258.6L141.6 258.2L143.1 257.9L144.5 257.4L145.9 256.8L147.3 256.2L148.6 255.5L149.9 254.8L151.1 253.9L152.3 253.0L153.4 252.0L154.5 251.0L155.6 250.0L156.6 248.9L157.6 247.7L158.6 246.6L159.5 245.4L160.4 244.3L161.4 243.1L162.4 241.9L163.4 240.8L164.4 239.8L165.5 238.7L166.6 237.7L167.7 236.7L168.9 235.8L170.1 234.9L171.3 234.0L172.5 233.1L173.8 232.4L175.1 231.6L176.5 231.0L177.8 230.4L179.3 230.0L180.7 229.5L182.1 229.1L183.6 228.8L185.1 228.5L186.5 228.2L188.0 228.0L189.5 227.8L191.0 227.6L192.5 227.5L194.0 227.2L195.5 227.0L196.9 226.8L198.4 226.5L199.9 226.3L201.4 226.1L202.9 225.8L204.3 225.6L205.8 225.4L207.3 225.2L208.8 225.0L210.3 224.9L211.8 224.8L213.3 224.8L214.8 224.8L216.3 224.8L217.8 224.9L219.3 225.0L220.8 225.1L222.3 225.2L223.8 225.4L225.3 225.5L226.8 225.6L228.2 225.7L229.7 225.7L231.2 225.6L232.7 225.5L234.2 225.4L235.7 225.2L237.2 225.1L238.7 224.9L240.2 224.6L241.6 224.3L243.1 224.0L244.5 223.6L246.0 223.2L247.4 222.8L248.9 222.4L250.3 222.0L251.8 221.6L253.2 221.1L254.6 220.7L256.0 220.2L257.4 219.7L258.9 219.2L260.3 218.7L261.7 218.2L263.1 217.8L264.6 217.4L266.0 217.0L267.5 216.7L269.0 216.4L270.4 216.2L271.9 216.0L273.4 215.9L274.9 215.9L276.4 216.0L277.9 216.1L279.4 216.3L280.9 216.6L282.3 216.9L283.7 217.4L285.1 217.9L286.5 218.5L287.9 219.2L289.2 219.9L290.5 220.6L291.8 221.4L293.0 222.2L294.3 223.1L295.5 223.9L296.7 224.8L297.9 225.7L299.1 226.6L300.2 227.6L301.3 228.6L302.4 229.6L303.5 230.7L304.5 231.8L305.6 232.8L306.6 233.9L307.7 235.0L308.7 236.0L309.8 237.1L310.9 238.1L312.0 239.1L313.1 240.1L314.3 241.0L315.6 241.8L316.8 242.7L318.1 243.4L319.4 244.2L320.7 245.0L322.0 245.8L323.3 246.5L324.5 247.3L325.8 248.0L327.2 248.8L328.5 249.5L329.8 250.1L331.2 250.8L332.5 251.4L333.9 252.0L335.3 252.5L336.7 253.0L338.2 253.5L339.6 253.9L341.0 254.4L342.5 254.8L343.9 255.1L345.4 255.4L346.9 255.6L348.4 255.8L349.9 256.0L351.3 256.1L352.8 256.3L354.3 256.4L355.8 256.5L357.3 256.6L358.8 256.7L360.3 256.8L361.8 256.9L363.3 257.0L364.8 257.1L366.3 257.1L367.8 257.2L369.3 257.2L370.8 257.1L372.3 257.1L373.8 257.1L375.3 257.0L376.8 257.0L378.3 257.0L379.8 257.0L381.3 256.9L382.8 256.9L384.3 256.9L385.8 256.8L387.3 256.8L388.8 256.8L390.3 256.8L391.8 256.7L393.3 256.7L394.8 256.7L396.3 256.7L397.8 256.7L399.3 256.7L400.8 256.7L402.3 256.7L403.8 256.8L405.3 256.8L406.8 256.9L408.3 257.0L409.8 257.0L411.3 257.1L412.8 257.1L414.3 257.2L415.8 257.3L417.3 257.3L418.8 257.4L420.3 257.5L421.8 257.5L423.3 257.6L424.8 257.6L426.3 257.7L427.8 257.8L429.3 257.8L430.8 257.9L432.3 258.0L433.8 258.0L435.3 258.1L436.8 258.2L438.3 258.2L439.8 258.3L441.3 258.3L442.5 258.4L443.4 258.4" stroke="#c8c8c8" stroke-width="1.20"/>
<path d="M88.7 9.4L88.8 10.9L88.9 12.4L89.0 13.9L89.1 15.4L89.2 16.9L89.3 18.4L89.4 19.9L89.4 21.4L89.5 22.9L89.6 24.4L89.7 25.9L89.8 27.4L89.9 28.9L90.0 30.4L90.1 31.9L90.2 33.4L90.3 34.9L90.5 36.4L90.6 37.9L90.7 39.4L90.8 40.9L90.9 42.4L91.0 43.9L91.1 45.4L91.3 46.9L91.4 48.3L91.5 49.8L91.7 51.3L91.8 52.8L91.9 54.3L92.1 55.8L92.2 57.3L92.4 58.8L92.5 60.3L92.7 61.8L92.8 63.3L93.0 64.8L93.2 66.3L93.3 67.8L93.5 69.2L93.7 70.7L93.9 72.2L94.1 73.7L94.2 75.2L94.4 76.7L94.6 78.2L94.8 79.7L95.0 81.2L95.2 82.6L95.4 84.1L95.6 85.6L95.8 87.1L96.0 88.6L96.2 90.1L96.4 91.6L96.5 93.0L96.7 94.5L96.9 96.0L97.1 97.5L97.3 99.0L97.5 100.5L97.7 102.0L97.9 103.5L98.1 104.9L98.3 106.4L98.5 107.9L98.7 109.4L98.9 110.9L99.1 112.4L99.2 113.9L99.4 115.4L99.6 116.9L99.8 118.3L99.9 119.8L100.1 121.3L100.3 122.8L100.5 124.3L100.6 125.8L100.8 127.3L101.0 128.8L101.1 130.3L101.3 131.8L101.5 133.2L101.7 134.7L101.8 136.2L102.0 137.7L102.2 139.2L102.4 140.7L102.6 142.2L102.7 143.7L102.9 145.2L103.1 146.6L103.3 148.1L103.5 149.6L103.7 151.1L103.9 152.6L104.1 154.1L104.4 155.6L104.6 157.0L104.8 158.5L105.1 160.0L105.3 161.5L105.6 163.0L105.8 164.4L106.1 165.9L106.4 167.4L106.6 168.9L106.9 170.3L107.2 171.8L107.5 173.3L107.8 174.7L108.1 176.2L108.4 177.7L108.8 179.2L109.1 180.6L109.4 182.1L109.7 183.5L110.1 185.0L110.4 186.5L110.7 187.9L111.1 189.4L111.4 190.9L111.7 192.3L112.1 193.8L112.4 195.2L112.8 196.7L113.1 198.2L113.4 199.6L113.8 201.1L114.1 202.5L114.5 204.0L114.8 205.5L115.1 206.9L115.5 208.4L115.8 209.8L116.2 211.3L116.5 212.8L116.9 214.2L117.3 215.7L117.6 217.1L118.0 218.6L118.4 220.0L118.8 221.5L119.1 222.9L119.5 224.4L119.9 225.8L120.3 227.3L120.7 228.7L121.1 230.2L121.6 231.6L122.0 233.0L122.4 234.5L122.9 235.9L123.3 237.3L123.8 238.8L124.2 240.2L124.7 241.6L125.2 243.0L125.7 244.4L126.3 245.8L126.8 247.2L127.4 248.6L128.0 250.0L128.7 251.3L129.4 252.7L130.2 253.9L131.0 255.1L132.0 256.3L133.1 257.2L134.3 257.9L135.7 258.3L137.1 258.5L138.5 258.4L140.0 258.1L141.4 257.7L142.8 257.2L144.2 256.6L145.5 255.9L146.9 255.2L148.1 254.5L149.4 253.6L150.6 252.7L151.7 251.8L152.8 250.8L153.9 249.7L155.0 248.6L156.0 247.5L156.9 246.4L157.9 245.2L158.8 244.0L159.7 242.8L160.6 241.6L161.5 240.4L162.4 239.2L163.4 238.1L164.4 237.0L165.4 235.9L166.5 234.9L167.6 233.9L168.8 232.9L169.9 232.0L171.1 231.0L172.3 230.2L173.6 229.4L174.9 228.6L176.2 228.0L177.6 227.4L179.0 227.0L180.5 226.6L181.9 226.3L183.4 226.0L184.9 225.7L186.4 225.5L187.9 225.4L189.4 225.3L190.9 225.2L192.4 225.1L193.8 224.9L195.3 224.8L196.8 224.6L198.3 224.5L199.8 224.3L201.3 224.1L202.8 224.0L204.3 223.8L205.8 223.7L207.3 223.5L208.8 223.4L210.3 223.3L211.8 223.2L213.3 223.2L214.8 223.3L216.3 223.3L217.7 223.4L219.2 223.5L220.7 223.5L222.2 223.6L223.7 223.7L225.2 223.8L226.7 223.9L228.2 223.9L229.7 223.8L231.2 223.7L232.7 223.6L234.2 223.4L235.7 223.1L237.2 222.9L238.6 222.7L240.1 222.4L241.6 222.0L243.0 221.6L244.4 221.2L245.8 220.7L247.3 220.2L248.7 219.7L250.1 219.3L251.5 218.8L252.9 218.3L254.4 217.8L255.8 217.3L257.2 216.7L258.6 216.2L260.0 215.7L261.4 215.2L262.8 214.7L264.2 214.3L265.7 213.9L267.1 213.5L268.6 213.2L270.1 213.0L271.6 212.8L273.1 212.7L274.6 212.7L276.1 212.8L277.6 212.9L279.0 213.1L280.5 213.4L282.0 213.7L283.4 214.2L284.8 214.7L286.1 215.3L287.5 216.0L288.8 216.7L290.1 217.5L291.3 218.3L292.6 219.2L293.8 220.0L295.0 220.9L296.2 221.9L297.3 222.8L298.5 223.7L299.6 224.7L300.7 225.7L301.8 226.8L302.8 227.9L303.8 229.0L304.9 230.1L305.9 231.2L306.9 232.3L307.9 233.4L308.9 234.5L309.9 235.6L311.0 236.7L312.1 237.7L313.2 238.7L314.4 239.6L315.6 240.4L316.9 241.3L318.1 242.1L319.4 242.9L320.7 243.7L321.9 244.5L323.2 245.3L324.5 246.1L325.8 246.8L327.1 247.6L328.4 248.4L329.7 249.1L331.0 249.7L332.4 250.4L333.8 251.0L335.1 251.5L336.6 252.1L338.0 252.6L339.4 253.0L340.8 253.5L342.3 253.9L343.7 254.3L345.2 254.6L346.6 254.8L348.1 255.1L349.6 255.3L351.1 255.4L352.6 255.6L354.1 255.7L355.6 255.8L357.1 255.9L358.6 256.0L360.1 256.1L361.6 256.2L363.1 256.4L364.6 256.4L366.1 256.5L367.6 256.6L369.1 256.6L370.6 256.6L372.1 256.5L373.6 256.5L375.1 256.5L376.6 256.5L378.1 256.4L379.6 256.4L381.1 256.4L382.6 256.4L384.1 256.4L385.6 256.3L387.1 256.3L388.6 256.3L390.1 256.3L391.6 256.3L393.1 256.2L394.6 256.2L396.1 256.2L397.6 256.2L399.1 256.2L400.6 256.2L402.1 256.3L403.6 256.3L405.1 256.4L406.6 256.4L408.1 256.5L409.6 256.6L411.0 256.6L412.5 256.7L414.0 256.8L415.5 256.8L417.0 256.9L418.5 257.0L420.0 257.0L421.5 257.1L423.0 257.2L424.5 257.2L426.0 257.3L427.5 257.4L429.0 257.4L430.5 257.5L432.0 257.6L433.5 257.6L435.0 257.7L436.5 257.8L438.0 257.8L439.5 257.9L441.0 258.0L442.2 258.0L443.1 258.1" stroke="#c8c8c8" stroke-width="1.20"/>
<path d="M88.7 9.4L88.8 10.9L88.9 12.4L89.0 13.9L89.1 15.4L89.1 16.9L89.2 18.4L89.3 19.9L89.4 21.4L89.5 22.9L89.6 24.4L89.7 25.9L89.8 27.4L89.9 28.9L90.0 30.4L90.1 31.9L90.2 33.4L90.3 34.9L90.4 36.4L90.5 37.9L90.6 39.4L90.7 40.9L90.8 42.4L91.0 43.9L91.1 45.4L91.2 46.9L91.3 48.4L91.4 49.8L91.6 51.3L91.7 52.8L91.8 54.3L92.0 55.8L92.1 57.3L92.2 58.8L92.4 60.3L92.5 61.8L92.7 63.3L92.8 64.8L93.0 66.3L93.1 67.8L93.3 69.3L93.5 70.8L93.6 72.2L93.8 73.7L94.0 75.2L94.1 76.7L94.3 78.2L94.5 79.7L94.7 81.2L94.8 82.7L95.0 84.2L95.2 85.7L95.4 87.1L95.5 88.6L95.7 90.1L95.9 91.6L96.1 93.1L96.3 94.6L96.5 96.1L96.6 97.6L96.8 99.1L97.0 100.5L97.2 102.0L97.4 103.5L97.5 105.0L97.7 106.5L97.9 108.0L98.1 109.5L98.3 111.0L98.4 112.5L98.6 113.9L98.8 115.4L98.9 116.9L99.1 118.4L99.3 119.9L99.4 121.4L99.6 122.9L99.8 124.4L99.9 125.9L100.1 127.4L100.3 128.9L100.4 130.3L100.6 131.8L100.8 133.3L100.9 134.8L101.1 136.3L101.3 137.8L101.4 139.3L101.6 140.8L101.8 142.3L102.0 143.8L102.2 145.2L102.4 146.7L102.5 148.2L102.7 149.7L102.9 151.2L103.2 152.7L103.4 154.2L103.6 155.6L103.8 157.1L104.0 158.6L104.3 160.1L104.5 161.6L104.8 163.1L105.1 164.5L105.3 166.0L105.6 167.5L105.9 168.9L106.2 170.4L106.5 171.9L106.8 173.4L107.1 174.8L107.4 176.3L107.7 177.8L108.1 179.2L108.4 180.7L108.7 182.1L109.1 183.6L109.4 185.1L109.7 186.5L110.1 188.0L110.4 189.4L110.8 190.9L111.1 192.4L111.5 193.8L111.8 195.3L112.2 196.7L112.5 198.2L112.9 199.7L113.2 201.1L113.6 202.6L113.9 204.0L114.3 205.5L114.6 207.0L115.0 208.4L115.3 209.9L115.7 211.3L116.0 212.8L116.4 214.2L116.8 215.7L117.1 217.1L117.5 218.6L117.9 220.0L118.3 221.5L118.7 222.9L119.1 224.4L119.5 225.8L119.9 227.3L120.3 228.7L120.7 230.2L121.1 231.6L121.6 233.0L122.0 234.5L122.5 235.9L122.9 237.3L123.4 238.8L123.9 240.2L124.4 241.6L124.9 243.0L125.4 244.4L126.0 245.8L126.5 247.2L127.1 248.6L127.7 249.9L128.4 251.3L129.1 252.6L129.9 253.8L130.8 255.0L131.8 256.2L132.9 257.1L134.1 257.8L135.5 258.2L136.9 258.3L138.3 258.1L139.7 257.7L141.1 257.2L142.5 256.6L143.8 255.9L145.1 255.2L146.4 254.4L147.6 253.5L148.8 252.6L150.0 251.7L151.1 250.7L152.2 249.6L153.3 248.6L154.3 247.5L155.3 246.3L156.2 245.2L157.1 244.0L158.0 242.8L158.9 241.6L159.7 240.3L160.6 239.1L161.4 237.9L162.3 236.7L163.3 235.5L164.2 234.3L165.2 233.2L166.3 232.2L167.4 231.2L168.5 230.1L169.6 229.2L170.8 228.2L172.0 227.3L173.2 226.5L174.5 225.7L175.8 225.0L177.2 224.5L178.6 224.1L180.1 223.7L181.6 223.4L183.0 223.2L184.5 223.0L186.0 222.8L187.5 222.8L189.0 222.7L190.5 222.7L192.0 222.7L193.5 222.6L195.0 222.6L196.5 222.5L198.0 222.4L199.5 222.3L201.0 222.2L202.5 222.1L204.0 222.0L205.5 221.9L207.0 221.8L208.5 221.8L210.0 221.7L211.5 221.7L213.0 221.7L214.5 221.7L216.0 221.8L217.5 221.9L219.0 221.9L220.5 222.0L222.0 222.0L223.5 222.1L225.0 222.1L226.5 222.1L228.0 222.1L229.5 222.0L230.9 221.9L232.4 221.6L233.9 221.4L235.4 221.1L236.9 220.8L238.3 220.6L239.8 220.2L241.2 219.8L242.6 219.4L244.1 218.9L245.5 218.3L246.8 217.8L248.2 217.2L249.6 216.7L251.0 216.1L252.4 215.6L253.8 215.0L255.2 214.5L256.6 213.9L258.0 213.4L259.4 212.8L260.8 212.3L262.2 211.8L263.6 211.3L265.1 210.8L266.5 210.4L268.0 210.1L269.4 209.8L270.9 209.6L272.4 209.5L273.9 209.5L275.4 209.5L276.9 209.6L278.4 209.8L279.8 210.1L281.3 210.4L282.7 210.9L284.1 211.4L285.5 212.0L286.8 212.7L288.1 213.4L289.4 214.2L290.6 215.0L291.9 215.9L293.1 216.8L294.2 217.7L295.4 218.7L296.6 219.6L297.7 220.6L298.8 221.6L299.9 222.6L301.0 223.7L302.0 224.8L303.0 225.9L304.0 227.0L304.9 228.2L305.9 229.3L306.9 230.5L307.9 231.6L308.9 232.7L309.9 233.8L310.9 234.9L311.9 236.0L313.1 237.0L314.2 237.9L315.4 238.8L316.6 239.7L317.9 240.5L319.1 241.3L320.4 242.2L321.6 243.0L322.9 243.8L324.1 244.7L325.4 245.5L326.7 246.3L328.0 247.1L329.2 247.8L330.6 248.5L331.9 249.2L333.3 249.8L334.6 250.4L336.0 251.0L337.4 251.5L338.8 252.0L340.3 252.5L341.7 252.9L343.1 253.3L344.6 253.7L346.1 254.0L347.5 254.2L349.0 254.5L350.5 254.7L352.0 254.8L353.5 255.0L355.0 255.1L356.5 255.2L358.0 255.3L359.5 255.5L361.0 255.6L362.5 255.7L364.0 255.8L365.5 255.9L367.0 255.9L368.5 256.0L370.0 256.0L371.5 256.0L373.0 255.9L374.5 255.9L376.0 255.9L377.5 255.9L379.0 255.9L380.5 255.9L382.0 255.9L383.5 255.8L385.0 255.8L386.5 255.8L388.0 255.8L389.5 255.8L391.0 255.8L392.5 255.8L394.0 255.7L395.5 255.7L397.0 255.7L398.5 255.8L400.0 255.8L401.5 255.8L403.0 255.9L404.5 255.9L406.0 256.0L407.5 256.1L408.9 256.1L410.4 256.2L411.9 256.3L413.4 256.3L414.9 256.4L416.4 256.5L417.9 256.5L419.4 256.6L420.9 256.7L422.4 256.7L423.9 256.8L425.4 256.9L426.9 257.0L428.4 257.0L429.9 257.1L431.4 257.2L432.9 257.2L434.4 257.3L435.9 257.4L437.4 257.4L438.9 257.5L440.4 257.6L441.9 257.6L443.1 257.7L444.0 257.7" stroke="#c8c8c8" stroke-width="1.20"/>
<path d="M88.7 9.4L88.8 10.9L88.9 12.4L88.9 13.9L89.0 15.4L89.1 16.9L89.2 18.4L89.3 19.9L89.4 21.4L89.5 22.9L89.6 24.4L89.7 25.9L89.8 27.4L89.9 28.9L90.0 30.4L90.1 31.9L90.2 33.4L90.3 34.9L90.4 36.4L90.5 37.9L90.6 39.4L90.7 40.9L90.8 42.4L90.9 43.9L91.0 45.4L91.1 46.9L91.2 48.4L91.4 49.9L91.5 51.4L91.6 52.8L91.7 54.3L91.8 55.8L92.0 57.3L92.1 58.8L92.2 60.3L92.4 61.8L92.5 63.3L92.7 64.8L92.8 66.3L92.9 67.8L93.1 69.3L93.2 70.8L93.4 72.3L93.5 73.8L93.7 75.2L93.8 76.7L94.0 78.2L94.2 79.7L94.3 81.2L94.5 82.7L94.6 84.2L94.8 85.7L95.0 87.2L95.1 88.7L95.3 90.2L95.5 91.7L95.6 93.1L95.8 94.6L96.0 96.1L96.1 97.6L96.3 99.1L96.5 100.6L96.6 102.1L96.8 103.6L97.0 105.1L97.1 106.6L97.3 108.0L97.5 109.5L97.6 111.0L97.8 112.5L98.0 114.0L98.1 115.5L98.3 117.0L98.5 118.5L98.6 120.0L98.8 121.5L98.9 123.0L99.1 124.5L99.2 125.9L99.4 127.4L99.6 128.9L99.7 130.4L99.9 131.9L100.0 133.4L100.2 134.9L100.4 136.4L100.5 137.9L100.7 139.4L100.9 140.9L101.0 142.3L101.2 143.8L101.4 145.3L101.6 146.8L101.8 148.3L102.0 149.8L102.2 151.3L102.4 152.8L102.6 154.2L102.8 155.7L103.0 157.2L103.3 158.7L103.5 160.2L103.7 161.7L104.0 163.1L104.3 164.6L104.6 166.1L104.8 167.6L105.1 169.0L105.4 170.5L105.7 172.0L106.0 173.4L106.4 174.9L106.7 176.4L107.0 177.8L107.4 179.3L107.7 180.7L108.0 182.2L108.4 183.7L108.7 185.1L109.1 186.6L109.5 188.0L109.8 189.5L110.2 190.9L110.5 192.4L110.9 193.9L111.3 195.3L111.6 196.8L112.0 198.2L112.3 199.7L112.7 201.1L113.0 202.6L113.4 204.1L113.7 205.5L114.1 207.0L114.4 208.4L114.8 209.9L115.2 211.3L115.5 212.8L115.9 214.3L116.3 215.7L116.7 217.2L117.0 218.6L117.4 220.1L117.8 221.5L118.2 223.0L118.6 224.4L119.0 225.8L119.4 227.3L119.9 228.7L120.3 230.2L120.7 231.6L121.2 233.0L121.6 234.5L122.1 235.9L122.6 237.3L123.0 238.7L123.5 240.1L124.0 241.6L124.6 243.0L125.1 244.4L125.7 245.8L126.2 247.1L126.8 248.5L127.5 249.9L128.2 251.2L128.9 252.5L129.7 253.8L130.6 255.0L131.6 256.1L132.7 257.0L133.9 257.7L135.3 258.0L136.6 258.1L138.1 257.8L139.5 257.3L140.8 256.7L142.1 256.0L143.4 255.3L144.7 254.5L145.9 253.6L147.1 252.7L148.3 251.7L149.4 250.7L150.5 249.7L151.5 248.6L152.6 247.6L153.6 246.4L154.5 245.3L155.5 244.1L156.4 242.9L157.3 241.7L158.1 240.5L158.9 239.2L159.7 238.0L160.5 236.7L161.3 235.4L162.2 234.2L163.1 233.0L164.0 231.8L165.0 230.7L166.0 229.6L167.1 228.5L168.1 227.5L169.3 226.5L170.4 225.5L171.5 224.6L172.7 223.7L174.0 222.9L175.3 222.2L176.7 221.6L178.1 221.1L179.5 220.8L181.0 220.5L182.5 220.3L184.0 220.2L185.5 220.1L187.0 220.1L188.5 220.1L190.0 220.2L191.5 220.2L193.0 220.3L194.5 220.3L196.0 220.3L197.5 220.3L199.0 220.3L200.5 220.3L202.0 220.2L203.5 220.2L205.0 220.2L206.5 220.1L208.0 220.1L209.5 220.1L211.0 220.1L212.5 220.1L214.0 220.2L215.5 220.3L217.0 220.3L218.5 220.4L220.0 220.4L221.5 220.4L223.0 220.4L224.5 220.4L226.0 220.4L227.5 220.3L229.0 220.2L230.4 220.0L231.9 219.8L233.4 219.5L234.8 219.2L236.3 218.8L237.8 218.5L239.2 218.1L240.7 217.7L242.1 217.2L243.5 216.7L244.8 216.1L246.2 215.4L247.6 214.8L248.9 214.2L250.3 213.6L251.7 213.0L253.1 212.4L254.4 211.8L255.8 211.2L257.2 210.6L258.6 210.0L260.0 209.5L261.4 208.9L262.8 208.4L264.2 207.9L265.6 207.5L267.0 207.1L268.5 206.7L270.0 206.5L271.5 206.3L273.0 206.2L274.5 206.2L275.9 206.3L277.4 206.5L278.9 206.7L280.4 207.0L281.8 207.4L283.2 207.9L284.6 208.5L285.9 209.2L287.2 209.9L288.5 210.7L289.7 211.5L291.0 212.4L292.1 213.3L293.3 214.3L294.5 215.3L295.6 216.2L296.7 217.2L297.8 218.3L298.9 219.3L300.0 220.3L301.0 221.4L302.0 222.6L302.9 223.7L303.9 224.9L304.8 226.1L305.7 227.2L306.7 228.4L307.6 229.6L308.6 230.7L309.6 231.8L310.6 233.0L311.6 234.1L312.7 235.1L313.8 236.1L314.9 237.0L316.1 237.9L317.4 238.8L318.6 239.6L319.9 240.5L321.1 241.3L322.3 242.2L323.5 243.0L324.8 243.9L326.0 244.7L327.3 245.6L328.5 246.4L329.8 247.1L331.1 247.9L332.5 248.5L333.8 249.2L335.2 249.8L336.6 250.3L338.0 250.9L339.4 251.4L340.8 251.8L342.3 252.3L343.7 252.7L345.2 253.0L346.6 253.3L348.1 253.6L349.6 253.8L351.1 254.0L352.6 254.2L354.1 254.3L355.6 254.5L357.1 254.6L358.5 254.7L360.0 254.9L361.5 255.0L363.0 255.1L364.5 255.2L366.0 255.3L367.5 255.4L369.0 255.4L370.5 255.4L372.0 255.4L373.5 255.4L375.0 255.4L376.5 255.4L378.0 255.4L379.5 255.3L381.0 255.3L382.5 255.3L384.0 255.3L385.5 255.3L387.0 255.3L388.5 255.3L390.0 255.3L391.5 255.3L393.0 255.3L394.5 255.3L396.0 255.3L397.5 255.3L399.0 255.3L400.5 255.3L402.0 255.4L403.5 255.5L405.0 255.5L406.5 255.6L408.0 255.7L409.5 255.7L411.0 255.8L412.5 255.9L414.0 255.9L415.5 256.0L417.0 256.1L418.5 256.2L420.0 256.2L421.5 256.3L423.0 256.4L424.5 256.4L426.0 256.5L427.5 256.6L429.0 256.7L430.5 256.7L432.0 256.8L433.5 256.9L435.0 256.9L436.5 257.0L438.0 257.1L439.5 257.2L441.0 257.2L442.2 257.3L443.1 257.3" stroke="#c8c8c8" stroke-width="1.20"/>
<path d="M88.7 9.4L88.8 10.9L88.8 12.4L88.9 13.9L89.0 15.4L89.1 16.9L89.2 18.4L89.3 19.9L89.4 21.4L89.5 22.9L89.5 24.4L89.6 25.9L89.7 27.4L89.8 28.9L89.9 30.4L90.0 31.9L90.1 33.4L90.2 34.9L90.3 36.4L90.4 37.9L90.5 39.4L90.6 40.9L90.7 42.4L90.8 43.9L90.9 45.4L91.0 46.9L91.1 48.4L91.3 49.9L91.4 51.4L91.5 52.9L91.6 54.3L91.7 55.8L91.8 57.3L92.0 58.8L92.1 60.3L92.2 61.8L92.3 63.3L92.5 64.8L92.6 66.3L92.7 67.8L92.9 69.3L93.0 70.8L93.1 72.3L93.3 73.8L93.4 75.3L93.6 76.8L93.7 78.3L93.8 79.7L94.0 81.2L94.1 82.7L94.3 84.2L94.4 85.7L94.6 87.2L94.7 88.7L94.9 90.2L95.0 91.7L95.2 93.2L95.3 94.7L95.5 96.2L95.6 97.7L95.8 99.2L95.9 100.6L96.1 102.1L96.3 103.6L96.4 105.1L96.6 106.6L96.7 108.1L96.9 109.6L97.0 111.1L97.2 112.6L97.3 114.1L97.5 115.6L97.6 117.1L97.8 118.5L97.9 120.0L98.1 121.5L98.2 123.0L98.4 124.5L98.5 126.0L98.7 127.5L98.8 129.0L99.0 130.5L99.1 132.0L99.3 133.5L99.5 135.0L99.6 136.5L99.8 137.9L99.9 139.4L100.1 140.9L100.3 142.4L100.4 143.9L100.6 145.4L100.8 146.9L101.0 148.4L101.2 149.9L101.4 151.4L101.6 152.8L101.8 154.3L102.0 155.8L102.2 157.3L102.5 158.8L102.7 160.3L103.0 161.7L103.2 163.2L103.5 164.7L103.8 166.2L104.1 167.6L104.4 169.1L104.7 170.6L105.0 172.0L105.3 173.5L105.6 175.0L106.0 176.4L106.3 177.9L106.7 179.3L107.0 180.8L107.4 182.3L107.7 183.7L108.1 185.2L108.5 186.6L108.8 188.1L109.2 189.5L109.6 191.0L109.9 192.4L110.3 193.9L110.7 195.3L111.0 196.8L111.4 198.3L111.8 199.7L112.1 201.2L112.5 202.6L112.8 204.1L113.2 205.5L113.6 207.0L113.9 208.4L114.3 209.9L114.7 211.4L115.0 212.8L115.4 214.3L115.8 215.7L116.2 217.2L116.6 218.6L116.9 220.1L117.3 221.5L117.7 223.0L118.1 224.4L118.6 225.8L119.0 227.3L119.4 228.7L119.8 230.2L120.3 231.6L120.7 233.0L121.2 234.4L121.7 235.9L122.2 237.3L122.7 238.7L123.2 240.1L123.7 241.5L124.2 242.9L124.8 244.3L125.3 245.7L125.9 247.1L126.5 248.5L127.2 249.8L127.9 251.1L128.6 252.4L129.5 253.7L130.4 254.9L131.4 256.0L132.5 256.9L133.7 257.6L135.0 257.9L136.4 257.9L137.8 257.6L139.2 257.0L140.5 256.3L141.8 255.6L143.0 254.8L144.2 253.9L145.4 253.0L146.6 252.0L147.7 251.0L148.7 249.9L149.8 248.9L150.8 247.8L151.8 246.7L152.8 245.5L153.8 244.4L154.7 243.2L155.6 242.0L156.5 240.8L157.3 239.5L158.1 238.3L158.9 237.0L159.6 235.7L160.4 234.4L161.2 233.1L162.0 231.9L162.8 230.6L163.7 229.4L164.6 228.2L165.6 227.1L166.7 226.0L167.7 225.0L168.8 223.9L169.9 222.9L171.0 221.9L172.2 221.0L173.4 220.1L174.7 219.3L176.0 218.7L177.4 218.3L178.9 217.9L180.3 217.6L181.8 217.5L183.3 217.4L184.8 217.3L186.3 217.4L187.8 217.4L189.3 217.6L190.8 217.7L192.3 217.9L193.8 218.0L195.3 218.1L196.8 218.2L198.3 218.2L199.8 218.3L201.3 218.3L202.8 218.3L204.3 218.4L205.8 218.4L207.3 218.4L208.8 218.5L210.3 218.5L211.8 218.6L213.3 218.6L214.8 218.7L216.3 218.8L217.8 218.8L219.3 218.9L220.8 218.8L222.3 218.8L223.8 218.8L225.3 218.7L226.7 218.6L228.2 218.5L229.7 218.3L231.2 218.0L232.6 217.7L234.1 217.3L235.6 216.9L237.0 216.6L238.5 216.2L239.9 215.7L241.3 215.2L242.7 214.6L244.0 214.0L245.4 213.3L246.7 212.6L248.0 212.0L249.4 211.3L250.7 210.6L252.1 210.0L253.4 209.3L254.8 208.7L256.1 208.1L257.5 207.4L258.9 206.8L260.3 206.2L261.7 205.7L263.0 205.1L264.5 204.6L265.9 204.2L267.3 203.8L268.8 203.4L270.3 203.2L271.7 203.0L273.2 203.0L274.7 203.0L276.2 203.1L277.7 203.3L279.2 203.6L280.6 203.9L282.1 204.4L283.4 204.9L284.8 205.6L286.1 206.3L287.4 207.0L288.6 207.9L289.9 208.8L291.0 209.7L292.2 210.6L293.3 211.6L294.4 212.6L295.6 213.6L296.6 214.7L297.7 215.7L298.8 216.8L299.8 217.8L300.8 219.0L301.8 220.1L302.7 221.3L303.6 222.5L304.5 223.7L305.4 224.9L306.3 226.1L307.2 227.3L308.2 228.4L309.1 229.6L310.1 230.8L311.0 231.9L312.1 233.0L313.1 234.0L314.2 235.0L315.4 236.0L316.6 236.8L317.8 237.7L319.1 238.6L320.3 239.5L321.5 240.3L322.7 241.2L323.9 242.1L325.1 243.0L326.4 243.8L327.6 244.7L328.9 245.5L330.1 246.3L331.4 247.0L332.8 247.7L334.1 248.4L335.5 249.0L336.9 249.6L338.3 250.1L339.7 250.6L341.1 251.1L342.5 251.5L344.0 251.9L345.4 252.3L346.9 252.6L348.4 252.9L349.8 253.1L351.3 253.3L352.8 253.5L354.3 253.7L355.8 253.8L357.3 254.0L358.8 254.1L360.3 254.2L361.8 254.4L363.3 254.5L364.8 254.6L366.3 254.7L367.8 254.8L369.3 254.8L370.8 254.8L372.3 254.8L373.8 254.8L375.3 254.8L376.8 254.8L378.3 254.8L379.8 254.8L381.3 254.8L382.8 254.8L384.3 254.8L385.8 254.8L387.3 254.8L388.8 254.8L390.3 254.8L391.8 254.8L393.3 254.8L394.8 254.8L396.3 254.8L397.8 254.8L399.3 254.9L400.8 254.9L402.3 255.0L403.8 255.0L405.3 255.1L406.8 255.2L408.3 255.2L409.7 255.3L411.2 255.4L412.7 255.5L414.2 255.5L415.7 255.6L417.2 255.7L418.7 255.8L420.2 255.8L421.7 255.9L423.2 256.0L424.7 256.1L426.2 256.1L427.7 256.2L429.2 256.3L430.7 256.4L432.2 256.4L433.7 256.5L435.2 256.6L436.7 256.7L438.2 256.7L439.7 256.8L441.2 256.9L442.4 256.9L443.3 257.0" stroke="#c8c8c8" stroke-width="1.20"/>
<path d="M89.0 9.4L88.7 11.1L88.9 12.8L89.4 13.8L89.2 15.1L89.5 16.9L89.5 18.4L89.9 20.0L89.8 21.6L90.0 23.2L89.9 24.3L90.0 25.7L90.4 27.3L90.4 28.7L90.4 30.6L90.6 31.8L90.8 33.5L91.0 34.9L90.9 36.5L91.2 38.1L91.3 40.0L91.4 41.0L91.7 42.2L91.9 43.7L91.8 45.0L92.3 47.3L92.3 48.3L92.8 49.9L92.8 50.9L92.9 52.5L93.2 53.7L93.3 55.8L93.7 57.0L93.9 58.5L94.3 60.5L94.7 61.8L94.9 63.4L95.2 64.9L95.5 65.9L95.5 67.7L96.0 68.9L96.3 70.1L96.8 72.0L96.9 73.4L97.4 74.9L98.0 76.2L98.0 77.7L98.4 79.3L98.8 80.7L99.1 82.2L99.5 83.7L99.9 84.7L100.4 86.3L100.8 88.0L101.1 89.4L101.4 90.2L101.9 92.0L102.3 93.5L102.5 95.1L102.8 96.6L103.3 98.0L103.5 99.4L104.0 101.3L104.4 102.5L104.6 104.1L105.0 105.3L105.4 107.0L105.7 108.0L105.9 109.3L106.3 111.2L106.6 112.8L106.8 114.7L107.0 115.3L107.3 117.3L107.6 118.5L107.8 120.4L108.1 121.3L108.5 122.8L108.7 124.8L108.9 126.0L109.2 127.4L109.6 129.1L109.7 130.2L110.0 132.1L110.3 133.3L110.3 135.1L110.6 136.0L110.9 137.8L111.2 139.1L111.4 140.6L111.5 142.2L111.9 143.8L112.2 145.5L112.5 146.9L112.8 148.3L112.9 150.0L113.0 151.1L113.4 152.6L113.6 153.9L113.8 155.7L114.1 157.4L114.3 158.6L114.6 160.1L114.6 161.4L115.1 162.7L115.2 164.4L115.5 165.8L115.6 166.9L115.8 169.2L115.9 170.7L116.2 171.9L116.2 173.7L116.6 174.7L116.7 176.1L117.2 177.7L117.3 179.3L117.5 180.7L117.7 183.0L117.9 183.9L118.0 185.5L118.4 186.3L118.3 188.8L118.7 189.8L118.9 191.5L119.2 192.7L119.5 194.2L119.4 195.5L119.7 197.1L120.0 198.7L119.9 199.9L120.6 201.7L120.7 202.9L121.1 204.5L121.2 206.5L121.5 207.7L121.8 209.0L122.0 210.2L122.5 211.6L122.7 213.1L123.0 214.9L123.1 216.6L123.6 218.1L123.8 219.5L124.4 220.8L124.5 222.3L124.9 223.6L125.1 225.0L125.5 226.5L125.7 228.3L126.1 230.2L126.4 230.8L126.7 232.6L127.0 233.6L127.5 235.1L127.8 236.9L127.9 238.8L128.3 239.5L128.7 241.6L129.1 242.9L129.5 244.2L129.7 245.6L129.9 247.1L130.6 248.1L131.0 250.1L131.1 251.5L131.9 252.7L132.3 254.5L132.7 255.8L133.6 256.8L134.4 258.1L135.1 259.1L136.2 260.4L137.1 261.3L138.2 262.4L139.5 263.4L140.7 264.7L141.8 265.2L143.2 266.0L144.3 267.7L145.4 268.0L146.6 269.2L148.0 270.0L149.1 270.4L150.5 270.8L151.9 272.1L153.3 271.9L154.7 271.5L156.3 271.1L157.8 271.7L159.4 271.3L160.7 270.9L162.3 270.8L163.8 270.0L165.3 269.7L166.5 268.9L167.9 268.6L169.1 268.0L170.7 267.4L172.1 266.7L173.5 266.3L174.8 265.2L176.1 264.9L177.4 263.9L178.7 263.0L179.9 262.6L180.9 262.1L182.1 260.7L183.5 260.0L184.7 259.2L186.0 258.2L187.1 257.2L188.5 256.1L189.6 255.0L190.7 254.2L192.1 253.3L193.2 253.0L194.4 252.1L195.7 251.2L196.9 250.1L198.0 248.8L199.3 248.7L200.4 247.3L201.8 247.1L203.2 245.6L204.4 245.1L205.7 243.9L207.0 243.7L208.3 243.0L209.5 242.6L211.0 241.7L212.5 241.5L213.8 241.5L215.3 241.1L216.9 241.4L218.5 241.8L219.8 241.5L221.4 242.5L222.6 242.8L224.0 242.9L225.5 244.0L226.7 245.0L228.2 245.0L229.3 245.3L230.8 246.2L232.3 246.7L233.6 247.1L235.0 247.9L236.5 248.2L238.0 248.5L239.5 248.8L240.8 249.9L242.3 249.9L243.8 250.0L245.3 250.7L246.7 250.5L248.1 251.7L249.5 252.0L251.0 252.4L252.4 252.9L253.9 252.5L255.4 252.7L256.6 252.8L258.1 252.5L259.5 252.2L261.2 252.3L262.7 251.9L264.2 252.4L265.7 251.8L267.4 251.3L268.5 251.3L270.2 251.1L271.7 251.2L273.1 251.1L274.6 251.1L276.2 251.4L277.8 250.7L279.2 250.7L280.6 250.3L282.3 251.1L283.7 250.7L285.1 251.1L286.8 250.8L288.1 251.0L289.7 251.5L291.3 251.4L292.6 251.8L294.2 251.7L295.6 252.1L297.2 252.2L298.7 252.5L300.0 252.8L301.6 253.2L302.9 253.0L304.5 253.1L305.9 253.8L307.3 254.3L308.6 254.9L310.2 255.6L311.7 256.0L313.1 255.9L314.4 257.3L315.9 257.7L317.1 258.0L318.6 258.7L320.1 259.0L321.3 259.9L322.8 259.1L324.5 260.3L325.9 260.6L327.4 260.4L328.8 260.6L330.2 261.0L331.8 261.8L333.2 261.9L334.5 261.8L336.2 262.6L337.7 262.9L339.0 262.8L340.3 263.2L342.1 263.4L343.5 263.7L345.1 263.7L346.5 263.7L348.1 263.8L349.6 263.7L350.9 263.6L352.6 263.6L354.1 263.5L355.7 263.8L357.1 263.9L358.6 263.7L360.1 263.9L361.6 263.7L362.9 263.7L364.6 263.5L366.2 263.7L367.4 263.5L369.0 263.5L370.5 263.4L371.9 263.2L373.6 263.0L375.1 263.3L376.5 262.4L378.1 263.2L379.4 262.8L381.0 262.3L382.5 262.9L384.0 262.5L385.6 262.2L386.8 262.6L388.4 262.2L390.1 262.1L391.5 261.8L393.0 262.4L394.4 261.5L396.0 261.5L397.5 261.6L399.0 261.6L400.5 261.8L401.9 261.5L403.5 261.2L404.9 261.4L406.4 261.8L408.0 262.3L409.4 261.5L411.2 261.5L412.7 260.9L413.9 262.1L415.6 261.9L416.9 261.8L418.5 261.9L420.1 261.7L421.6 262.2L423.3 262.1L424.5 261.8L425.8 261.4L427.5 262.5L429.0 261.4L430.5 262.0L431.9 262.6L433.6 262.5L434.9 262.3L436.4 262.5L437.9 262.6L439.5 262.4L440.8 262.5L442.0 262.0L443.0 262.9" stroke="#ec1c24" stroke-width="2.00"/>
<path d="M88.7 9.4L88.8 10.7L88.7 12.2L88.9 14.1L89.1 15.5L89.0 17.1L89.1 18.2L89.3 19.8L89.2 21.4L89.3 22.9L89.4 24.3L89.5 25.9L89.7 27.5L89.8 29.2L89.7 30.5L90.1 32.0L90.1 33.2L90.2 34.7L90.3 36.5L90.4 37.7L90.4 38.9L90.5 41.1L90.6 42.7L90.8 43.9L90.8 45.3L91.0 47.0L91.0 48.4L91.0 49.6L91.2 51.6L91.1 52.9L91.8 54.4L91.5 56.0L91.6 57.4L91.7 58.6L92.0 60.4L92.1 61.9L92.2 63.4L92.5 65.2L92.4 66.4L92.2 67.8L92.5 69.4L92.5 70.7L92.6 72.2L92.9 74.0L93.0 75.3L93.1 76.8L93.2 78.4L93.3 79.8L93.4 81.7L93.6 82.3L93.6 84.4L93.8 85.3L93.7 87.2L94.0 88.5L94.2 90.5L94.3 92.0L94.2 93.2L94.2 95.0L94.7 96.3L94.6 97.7L94.9 98.9L95.0 100.9L95.0 102.1L95.3 103.9L95.5 105.3L95.4 106.7L95.6 108.1L95.8 110.1L95.9 111.6L95.9 112.6L96.2 113.7L96.2 115.6L96.5 117.3L96.6 118.6L96.6 120.2L97.0 121.8L96.9 123.2L97.2 124.9L97.2 126.3L97.5 127.5L97.5 129.0L97.7 130.7L97.7 132.1L98.1 133.6L97.9 135.4L98.2 136.6L98.5 138.0L98.5 139.4L98.7 141.1L98.8 143.1L99.1 144.3L99.4 145.6L99.3 147.0L99.6 149.0L99.9 150.0L99.9 151.7L100.3 152.8L100.5 154.5L100.6 155.9L100.7 157.3L101.2 158.6L101.2 160.4L101.4 161.8L101.7 163.5L102.1 164.5L102.5 166.0L102.5 167.3L103.0 168.6L103.3 170.7L103.7 172.1L104.1 173.5L104.4 174.8L104.7 176.4L105.0 178.5L105.4 179.5L105.8 181.0L105.9 182.5L106.4 183.3L106.9 184.9L107.3 187.0L107.7 187.9L108.0 190.1L108.4 191.5L109.0 192.2L109.3 193.6L109.6 195.5L110.0 196.4L110.3 198.2L110.8 199.7L111.2 201.1L111.3 202.6L112.0 203.9L112.1 205.1L112.8 206.7L113.1 208.5L113.3 209.9L113.9 211.8L114.2 212.7L114.6 214.4L114.9 215.8L115.2 217.3L115.6 218.5L115.9 220.1L116.5 221.1L116.9 223.1L117.4 224.7L117.7 226.1L118.2 227.2L118.5 228.9L119.1 230.0L119.5 231.4L119.9 232.7L120.5 234.5L121.0 235.9L121.5 237.5L121.8 238.8L122.4 240.0L123.0 241.4L123.6 242.6L124.3 244.5L124.8 245.8L125.3 246.5L125.8 248.4L126.4 250.0L127.4 250.7L128.1 251.9L129.0 253.6L130.0 254.3L131.0 255.8L132.0 256.7L133.3 257.8L134.7 257.9L135.8 257.6L137.3 257.4L138.5 257.1L140.1 255.9L141.0 254.9L142.1 253.7L143.4 253.0L144.5 252.8L145.6 251.0L146.6 250.0L147.7 248.8L148.6 247.4L149.4 246.5L150.6 245.1L151.5 243.9L152.3 243.0L153.4 241.5L154.0 240.5L155.0 239.5L155.6 237.9L156.4 237.3L157.4 235.7L157.9 234.3L158.8 233.2L159.4 232.0L160.3 230.4L160.8 229.4L161.7 227.7L162.4 226.3L163.2 225.2L164.2 224.0L164.9 222.7L166.0 221.4L166.9 220.7L168.0 219.2L169.1 218.5L170.2 217.3L171.4 215.8L172.4 215.4L173.4 214.1L174.7 213.6L176.1 213.1L177.7 212.4L179.0 212.4L180.3 212.1L181.8 211.9L183.4 212.4L184.9 212.0L186.5 212.3L187.8 212.9L189.5 212.8L190.7 213.0L192.3 213.9L193.8 213.9L195.4 214.1L196.8 214.5L198.4 214.0L199.9 214.0L201.2 214.9L202.6 215.1L204.5 215.0L205.6 215.6L207.1 215.0L208.6 215.3L210.1 216.0L211.6 215.3L213.0 215.7L214.9 215.6L216.2 216.2L217.7 216.0L219.1 216.1L220.6 216.3L222.0 216.1L223.8 215.8L225.1 215.9L226.6 215.4L228.0 215.2L229.5 214.7L231.1 214.5L232.5 214.5L233.7 213.5L235.3 213.5L236.7 212.7L238.2 212.0L239.5 211.7L240.9 211.3L242.4 210.3L243.7 209.8L244.9 208.8L246.3 207.9L247.5 207.6L248.5 206.5L249.8 205.8L251.4 204.9L252.6 204.5L253.9 203.6L255.2 203.1L256.6 202.6L258.1 201.3L259.3 201.0L260.7 200.4L262.0 200.0L263.5 199.3L264.8 198.9L266.1 198.4L267.8 197.5L269.2 198.0L270.6 197.0L272.1 197.2L273.8 197.0L275.2 197.2L276.7 197.4L278.0 197.7L279.6 197.8L280.7 198.0L282.4 199.0L283.7 199.6L285.0 199.7L286.4 200.7L287.7 202.0L288.7 202.4L289.9 203.8L291.1 204.5L292.3 205.7L293.2 206.4L294.1 207.6L295.3 208.8L296.3 209.7L297.4 210.7L298.4 211.8L299.5 213.1L300.4 214.3L301.2 214.9L302.1 216.5L303.1 217.5L304.0 219.0L304.8 220.1L305.3 221.7L306.5 223.4L307.3 224.1L308.4 224.5L308.9 225.9L310.0 227.6L311.0 228.4L311.8 229.9L312.9 231.0L314.1 231.9L315.1 232.9L316.4 233.7L317.4 234.6L318.5 235.7L319.8 236.1L321.0 237.6L322.4 238.5L323.5 239.5L324.7 240.1L325.6 241.2L326.9 242.2L328.2 242.8L329.4 243.8L330.9 244.7L331.9 246.0L333.1 246.7L334.7 246.8L335.9 247.5L337.4 247.9L338.8 248.9L340.2 249.6L341.5 249.7L343.1 250.3L344.6 250.8L345.8 251.4L347.3 251.6L348.8 251.9L350.0 252.1L351.8 252.5L353.4 252.7L354.7 252.5L356.2 252.6L357.7 252.9L359.4 252.7L360.7 253.3L362.2 252.8L363.7 253.3L365.1 253.6L366.7 253.6L368.2 253.7L369.7 253.9L371.2 253.8L372.8 253.7L374.3 254.1L375.7 254.1L377.2 253.9L378.9 253.5L380.3 253.7L381.7 253.3L383.3 254.1L384.6 254.2L386.1 253.8L387.6 254.0L389.1 253.8L390.7 253.6L392.2 253.8L393.8 253.9L395.2 254.0L396.8 254.3L398.2 253.7L399.7 253.9L401.2 254.0L402.7 254.2L404.2 253.9L405.8 254.1L407.0 254.1L408.6 254.3L410.2 254.4L411.7 254.8L413.1 254.5L414.8 254.9L416.2 254.8L417.6 254.9L419.1 255.3L420.5 254.9L422.0 255.6L423.6 255.5L425.0 255.8L426.9 255.4L428.3 255.2L429.6 255.9L431.1 255.5L432.6 255.6L434.1 256.0L435.4 255.7L437.1 256.2L438.6 255.9L439.9 256.8L441.5 256.4L442.7 256.5L443.6 256.2" stroke="#3050ad" stroke-width="2.00"/>
<path d="M309.6,229 L311.8,222.8 L313.2,231.2" stroke="#3050ad" stroke-width="1.3"/>
<path d="M334.8,247.2 L336,244.2 L337,248.4" stroke="#3050ad" stroke-width="1.3"/>
</g>
<path d="M72.9,14.1 H76.2 V286.3 H442.5" fill="none" stroke="#3a3a3a" stroke-width="1.6"/>
<path d="M70.9,99.3 H76.2" stroke="#3a3a3a" stroke-width="1.3"/>
<path d="M70.9,270.6 H76.2" stroke="#3a3a3a" stroke-width="1.3"/>
<path d="M73.2,185.0 H76.2" stroke="#3a3a3a" stroke-width="1.3"/>
<path d="M137.2,286.3 V291.3" stroke="#3a3a3a" stroke-width="1.3"/>
<path d="M213.9,286.3 V289.3" stroke="#3a3a3a" stroke-width="1.3"/>
<path d="M290.6,286.3 V291.3" stroke="#3a3a3a" stroke-width="1.3"/>
<path d="M367.3,286.3 V289.3" stroke="#3a3a3a" stroke-width="1.3"/>
<text x="32.49" y="103.00" font-size="14.90" fill="#111" stroke="#111" stroke-width="0.30" textLength="35.95" lengthAdjust="spacingAndGlyphs" >2000</text>
<text x="58.18" y="275.20" font-size="14.33" fill="#111" stroke="#111" stroke-width="0.30" textLength="8.84" lengthAdjust="spacingAndGlyphs" >0</text>
<text x="124.94" y="306.60" font-size="14.90" fill="#111" stroke="#111" stroke-width="0.30" textLength="25.97" lengthAdjust="spacingAndGlyphs" >400</text>
<text x="277.38" y="306.60" font-size="15.19" fill="#111" stroke="#111" stroke-width="0.30" textLength="26.75" lengthAdjust="spacingAndGlyphs" >600</text>
<text x="178.19" y="327.70" font-size="22.21" fill="#111" stroke="#111" stroke-width="0.20" textLength="167.98" lengthAdjust="spacingAndGlyphs" >Wavelength (nm)</text>
<text x="2.50" y="46.90" font-size="49.42" fill="#000" stroke="#000" stroke-width="0.00" textLength="32.39" lengthAdjust="spacingAndGlyphs" >A</text>
<text transform="translate(23.20,200.15) rotate(-90)" font-size="22.80" fill="#111" stroke="#111" stroke-width="0.20" textLength="96.54" lengthAdjust="spacingAndGlyphs">ε(cm<tspan font-size="12.5" dy="-7.6">-1</tspan><tspan dy="7.6">M</tspan><tspan font-size="12.5" dy="-7.6">-1</tspan><tspan dy="7.6">)</tspan></text>
<rect x="175.6" y="14.6" width="212.7" height="157.5" fill="#fff"/>
<path d="M175.6,14.6 V172.1 H388.3 V14.6" fill="none" stroke="#666666" stroke-width="1.2"/>
<path d="M172.8,21.6 H175.6" stroke="#666666" stroke-width="1"/>
<path d="M172.8,66.5 H175.6" stroke="#666666" stroke-width="1"/>
<path d="M172.8,111.4 H175.6" stroke="#666666" stroke-width="1"/>
<path d="M172.8,156.1 H175.6" stroke="#666666" stroke-width="1"/>
<path d="M174.0,44.0 H175.6" stroke="#666666" stroke-width="1"/>
<path d="M174.0,89.0 H175.6" stroke="#666666" stroke-width="1"/>
<path d="M174.0,133.8 H175.6" stroke="#666666" stroke-width="1"/>
<path d="M385.5,30.4 H388.3" stroke="#666666" stroke-width="1"/>
<path d="M385.5,92.9 H388.3" stroke="#666666" stroke-width="1"/>
<path d="M385.5,155.4 H388.3" stroke="#666666" stroke-width="1"/>
<path d="M386.7,61.6 H388.3" stroke="#666666" stroke-width="1"/>
<path d="M386.7,124.2 H388.3" stroke="#666666" stroke-width="1"/>
<path d="M175.6,172.1 V174.3" stroke="#666666" stroke-width="1"/>
<path d="M214.2,172.1 V174.3" stroke="#666666" stroke-width="1"/>
<path d="M252.9,172.1 V174.3" stroke="#666666" stroke-width="1"/>
<path d="M291.5,172.1 V174.3" stroke="#666666" stroke-width="1"/>
<path d="M330.1,172.1 V174.3" stroke="#666666" stroke-width="1"/>
<path d="M368.8,172.1 V174.3" stroke="#666666" stroke-width="1"/>
<path d="M194.9,172.1 V173.6" stroke="#666666" stroke-width="1"/>
<path d="M233.5,172.1 V173.6" stroke="#666666" stroke-width="1"/>
<path d="M272.2,172.1 V173.6" stroke="#666666" stroke-width="1"/>
<path d="M310.8,172.1 V173.6" stroke="#666666" stroke-width="1"/>
<path d="M349.4,172.1 V173.6" stroke="#666666" stroke-width="1"/>
<text x="150.98" y="25.50" font-size="11.17" fill="#222" stroke="#222" stroke-width="0.30" textLength="20.72" lengthAdjust="spacingAndGlyphs" >0.09</text>
<text x="150.99" y="70.40" font-size="11.17" fill="#222" stroke="#222" stroke-width="0.30" textLength="20.69" lengthAdjust="spacingAndGlyphs" >0.06</text>
<text x="150.99" y="115.30" font-size="11.17" fill="#222" stroke="#222" stroke-width="0.30" textLength="20.69" lengthAdjust="spacingAndGlyphs" >0.03</text>
<text x="150.99" y="160.00" font-size="11.17" fill="#222" stroke="#222" stroke-width="0.30" textLength="20.63" lengthAdjust="spacingAndGlyphs" >0.00</text>
<text x="390.77" y="34.30" font-size="11.17" fill="#ec1c24" stroke="#ec1c24" stroke-width="0.30" textLength="15.49" lengthAdjust="spacingAndGlyphs" >0.2</text>
<text x="390.77" y="96.80" font-size="11.17" fill="#ec1c24" stroke="#ec1c24" stroke-width="0.30" textLength="15.48" lengthAdjust="spacingAndGlyphs" >0.1</text>
<text x="390.77" y="159.30" font-size="11.17" fill="#ec1c24" stroke="#ec1c24" stroke-width="0.30" textLength="15.36" lengthAdjust="spacingAndGlyphs" >0.0</text>
<text x="172.63" y="183.50" font-size="10.46" fill="#222" stroke="#222" stroke-width="0.30" textLength="5.93" lengthAdjust="spacingAndGlyphs" >0</text>
<text x="211.36" y="183.50" font-size="10.61" fill="#222" stroke="#222" stroke-width="0.30" textLength="4.90" lengthAdjust="spacingAndGlyphs" >1</text>
<text x="249.75" y="183.50" font-size="10.46" fill="#222" stroke="#222" stroke-width="0.30" textLength="6.22" lengthAdjust="spacingAndGlyphs" >2</text>
<text x="288.53" y="183.50" font-size="10.46" fill="#222" stroke="#222" stroke-width="0.30" textLength="5.98" lengthAdjust="spacingAndGlyphs" >3</text>
<text x="327.34" y="183.50" font-size="10.61" fill="#222" stroke="#222" stroke-width="0.30" textLength="5.63" lengthAdjust="spacingAndGlyphs" >4</text>
<text x="365.77" y="183.50" font-size="10.61" fill="#222" stroke="#222" stroke-width="0.30" textLength="5.98" lengthAdjust="spacingAndGlyphs" >5</text>
<g fill="none">
<path d="M175.90,156.00C177.42,150.83 182.03,136.00 185.00,125.00C187.97,114.00 191.20,99.48 193.70,90.00C196.20,80.52 197.47,76.80 200.00,68.10C202.53,59.40 206.23,44.33 208.90,37.80C211.57,31.27 213.78,30.68 216.00,28.90C218.22,27.12 219.83,26.80 222.20,27.10C224.57,27.40 226.78,28.32 230.20,30.70C233.62,33.08 239.40,38.93 242.70,41.40C246.00,43.87 247.95,44.40 250.00,45.50C252.05,46.60 252.03,46.60 255.00,48.00C257.97,49.40 262.70,51.50 267.80,53.90C272.90,56.30 279.65,60.18 285.60,62.40C291.55,64.62 297.55,66.10 303.50,67.20C309.45,68.30 316.88,68.55 321.30,69.00C325.72,69.45 321.93,69.25 330.00,69.90C338.07,70.55 363.08,72.40 369.70,72.90" stroke="#ec1c24" stroke-width="1.3"/>
<path d="M175.60,156.00C176.38,155.20 178.62,153.37 180.30,151.20C181.98,149.03 183.98,145.70 185.70,143.00C187.42,140.30 188.67,138.08 190.60,135.00C192.53,131.92 194.90,128.25 197.30,124.50C199.70,120.75 201.48,117.00 205.00,112.50C208.52,108.00 213.95,101.58 218.40,97.50C222.85,93.42 227.25,90.67 231.70,88.00C236.15,85.33 240.63,83.42 245.10,81.50C249.57,79.58 254.72,77.78 258.50,76.50C262.28,75.22 263.28,74.97 267.80,73.80C272.32,72.63 279.65,70.60 285.60,69.50C291.55,68.40 296.10,67.88 303.50,67.20C310.90,66.52 318.97,66.13 330.00,65.40C341.03,64.67 363.08,63.23 369.70,62.80" stroke="#111" stroke-width="1.3"/>
<path d="M175.60,156.00C178.83,155.50 189.77,154.67 195.00,153.00C200.23,151.33 203.33,149.67 207.00,146.00C210.67,142.33 212.88,138.37 217.00,131.00C221.12,123.63 227.23,110.13 231.70,101.80C236.17,93.47 240.23,86.05 243.80,81.00C247.37,75.95 249.57,74.95 253.10,71.50C256.63,68.05 259.58,64.28 265.00,60.30C270.42,56.32 279.18,50.60 285.60,47.60C292.02,44.60 297.55,43.78 303.50,42.30C309.45,40.82 315.05,39.77 321.30,38.70C327.55,37.63 333.88,36.78 341.00,35.90C348.12,35.02 360.17,33.82 364.00,33.40" stroke="#3050ad" stroke-width="1" stroke-dasharray="7,3"/>
<path d="M178.00,154.50C180.00,154.17 185.17,153.33 190.00,152.50C194.83,151.67 202.83,150.75 207.00,149.50C211.17,148.25 212.22,147.42 215.00,145.00C217.78,142.58 219.80,140.65 223.70,135.00C227.60,129.35 233.95,117.08 238.40,111.10C242.85,105.12 245.97,103.22 250.40,99.10C254.83,94.98 259.13,90.23 265.00,86.40C270.87,82.57 279.18,78.70 285.60,76.10C292.02,73.50 296.10,72.18 303.50,70.80C310.90,69.42 318.97,68.98 330.00,67.80C341.03,66.62 363.08,64.38 369.70,63.70" stroke="#3050ad" stroke-width="0.8"/>
</g>
<rect x="178.2" y="134.7" width="5.0" height="5.0" fill="#ec1c24"/>
<rect x="183.2" y="105.3" width="5.0" height="5.0" fill="#ec1c24"/>
<rect x="188.2" y="83.1" width="5.0" height="5.0" fill="#ec1c24"/>
<rect x="192.6" y="58.1" width="5.0" height="5.0" fill="#ec1c24"/>
<rect x="197.5" y="46.0" width="5.0" height="5.0" fill="#ec1c24"/>
<rect x="202.3" y="36.6" width="5.0" height="5.0" fill="#ec1c24"/>
<rect x="206.9" y="30.3" width="5.0" height="5.0" fill="#ec1c24"/>
<rect x="211.7" y="30.7" width="5.0" height="5.0" fill="#ec1c24"/>
<rect x="216.7" y="37.5" width="5.0" height="5.0" fill="#ec1c24"/>
<rect x="221.5" y="41.9" width="5.0" height="5.0" fill="#ec1c24"/>
<rect x="231.3" y="45.1" width="5.0" height="5.0" fill="#ec1c24"/>
<rect x="240.7" y="60.3" width="5.0" height="5.0" fill="#ec1c24"/>
<rect x="250.4" y="49.1" width="5.0" height="5.0" fill="#ec1c24"/>
<rect x="260.3" y="47.4" width="5.0" height="5.0" fill="#ec1c24"/>
<rect x="270.1" y="45.7" width="5.0" height="5.0" fill="#ec1c24"/>
<rect x="279.6" y="55.8" width="5.0" height="5.0" fill="#ec1c24"/>
<rect x="289.4" y="52.2" width="5.0" height="5.0" fill="#ec1c24"/>
<rect x="298.8" y="53.7" width="5.0" height="5.0" fill="#ec1c24"/>
<rect x="308.4" y="54.6" width="5.0" height="5.0" fill="#ec1c24"/>
<rect x="327.8" y="65.0" width="5.0" height="5.0" fill="#ec1c24"/>
<rect x="347.1" y="69.2" width="5.0" height="5.0" fill="#ec1c24"/>
<rect x="366.3" y="86.1" width="5.0" height="5.0" fill="#ec1c24"/>
<path d="M180.7,161.8L183.8,156.5L177.5,156.5Z" fill="none" stroke="#3050ad" stroke-width="1.15"/>
<path d="M185.3,159.1L188.5,153.8L182.2,153.8Z" fill="none" stroke="#3050ad" stroke-width="1.15"/>
<path d="M190.5,158.2L193.7,152.9L187.3,152.9Z" fill="none" stroke="#3050ad" stroke-width="1.15"/>
<path d="M195.1,155.2L198.2,149.9L191.9,149.9Z" fill="none" stroke="#3050ad" stroke-width="1.15"/>
<path d="M200.0,155.6L203.2,150.3L196.8,150.3Z" fill="none" stroke="#3050ad" stroke-width="1.15"/>
<path d="M204.8,158.2L208.0,152.9L201.7,152.9Z" fill="none" stroke="#3050ad" stroke-width="1.15"/>
<path d="M209.4,154.7L212.6,149.4L206.2,149.4Z" fill="none" stroke="#3050ad" stroke-width="1.15"/>
<path d="M214.2,151.1L217.3,145.8L211.0,145.8Z" fill="none" stroke="#3050ad" stroke-width="1.15"/>
<path d="M219.2,142.2L222.3,136.9L216.0,136.9Z" fill="none" stroke="#3050ad" stroke-width="1.15"/>
<path d="M224.0,139.5L227.2,134.2L220.8,134.2Z" fill="none" stroke="#3050ad" stroke-width="1.15"/>
<path d="M233.8,138.6L237.0,133.3L230.7,133.3Z" fill="none" stroke="#3050ad" stroke-width="1.15"/>
<path d="M243.2,123.5L246.3,118.2L240.0,118.2Z" fill="none" stroke="#3050ad" stroke-width="1.15"/>
<path d="M252.9,105.7L256.1,100.4L249.8,100.4Z" fill="none" stroke="#3050ad" stroke-width="1.15"/>
<path d="M262.8,94.5L265.9,89.2L259.7,89.2Z" fill="none" stroke="#3050ad" stroke-width="1.15"/>
<path d="M272.6,88.2L275.8,82.9L269.5,82.9Z" fill="none" stroke="#3050ad" stroke-width="1.15"/>
<path d="M282.1,82.9L285.2,77.6L279.0,77.6Z" fill="none" stroke="#3050ad" stroke-width="1.15"/>
<path d="M291.9,80.2L295.0,74.9L288.8,74.9Z" fill="none" stroke="#3050ad" stroke-width="1.15"/>
<path d="M301.3,72.2L304.4,66.9L298.2,66.9Z" fill="none" stroke="#3050ad" stroke-width="1.15"/>
<path d="M310.9,73.4L314.0,68.1L307.8,68.1Z" fill="none" stroke="#3050ad" stroke-width="1.15"/>
<path d="M330.5,67.7L333.6,62.4L327.4,62.4Z" fill="none" stroke="#3050ad" stroke-width="1.15"/>
<path d="M349.6,56.7L352.8,51.4L346.5,51.4Z" fill="none" stroke="#3050ad" stroke-width="1.15"/>
<path d="M368.8,60.2L371.9,54.9L365.7,54.9Z" fill="none" stroke="#3050ad" stroke-width="1.15"/>
<path d="M180.7,148.3L183.8,153.6L177.5,153.6Z" fill="none" stroke="#3050ad" stroke-width="1.15"/>
<path d="M185.3,145.6L188.5,150.9L182.2,150.9Z" fill="none" stroke="#3050ad" stroke-width="1.15"/>
<path d="M190.5,142.6L193.7,147.9L187.3,147.9Z" fill="none" stroke="#3050ad" stroke-width="1.15"/>
<path d="M195.1,139.9L198.2,145.2L191.9,145.2Z" fill="none" stroke="#3050ad" stroke-width="1.15"/>
<path d="M200.0,137.6L203.2,142.9L196.8,142.9Z" fill="none" stroke="#3050ad" stroke-width="1.15"/>
<path d="M204.8,132.8L208.0,138.1L201.7,138.1Z" fill="none" stroke="#3050ad" stroke-width="1.15"/>
<path d="M209.4,123.3L212.6,128.6L206.2,128.6Z" fill="none" stroke="#3050ad" stroke-width="1.15"/>
<path d="M214.2,118.9L217.3,124.2L211.0,124.2Z" fill="none" stroke="#3050ad" stroke-width="1.15"/>
<path d="M219.2,111.4L222.3,116.7L216.0,116.7Z" fill="none" stroke="#3050ad" stroke-width="1.15"/>
<path d="M224.0,107.8L227.2,113.1L220.8,113.1Z" fill="none" stroke="#3050ad" stroke-width="1.15"/>
<path d="M233.8,97.5L237.0,102.8L230.7,102.8Z" fill="none" stroke="#3050ad" stroke-width="1.15"/>
<path d="M243.2,75.6L246.3,80.9L240.0,80.9Z" fill="none" stroke="#3050ad" stroke-width="1.15"/>
<path d="M253.2,68.8L256.3,74.1L250.0,74.1Z" fill="none" stroke="#3050ad" stroke-width="1.15"/>
<path d="M262.8,58.7L265.9,64.0L259.7,64.0Z" fill="none" stroke="#3050ad" stroke-width="1.15"/>
<path d="M272.6,53.3L275.8,58.6L269.5,58.6Z" fill="none" stroke="#3050ad" stroke-width="1.15"/>
<path d="M282.1,46.2L285.2,51.5L279.0,51.5Z" fill="none" stroke="#3050ad" stroke-width="1.15"/>
<path d="M291.9,45.3L295.0,50.6L288.8,50.6Z" fill="none" stroke="#3050ad" stroke-width="1.15"/>
<path d="M301.3,40.0L304.4,45.3L298.2,45.3Z" fill="none" stroke="#3050ad" stroke-width="1.15"/>
<path d="M310.9,37.3L314.0,42.6L307.8,42.6Z" fill="none" stroke="#3050ad" stroke-width="1.15"/>
<path d="M330.5,35.5L333.6,40.8L327.4,40.8Z" fill="none" stroke="#3050ad" stroke-width="1.15"/>
<path d="M349.6,24.3L352.8,29.6L346.5,29.6Z" fill="none" stroke="#3050ad" stroke-width="1.15"/>
<path d="M369.0,23.7L372.1,29.0L365.9,29.0Z" fill="none" stroke="#3050ad" stroke-width="1.15"/>
<circle cx="180.7" cy="152.4" r="2.8" fill="#000"/>
<circle cx="185.3" cy="142.0" r="2.8" fill="#000"/>
<circle cx="190.5" cy="134.2" r="2.8" fill="#000"/>
<circle cx="195.1" cy="125.6" r="2.8" fill="#000"/>
<circle cx="200.0" cy="118.2" r="2.8" fill="#000"/>
<circle cx="204.8" cy="112.3" r="2.8" fill="#000"/>
<circle cx="209.4" cy="106.0" r="2.8" fill="#000"/>
<circle cx="214.2" cy="105.7" r="2.8" fill="#000"/>
<circle cx="219.2" cy="97.3" r="2.8" fill="#000"/>
<circle cx="224.0" cy="96.2" r="2.8" fill="#000"/>
<circle cx="233.8" cy="94.4" r="2.8" fill="#000"/>
<circle cx="243.2" cy="88.0" r="2.8" fill="#000"/>
<circle cx="253.2" cy="84.0" r="2.8" fill="#000"/>
<circle cx="262.8" cy="76.1" r="2.8" fill="#000"/>
<circle cx="272.6" cy="74.9" r="2.8" fill="#000"/>
<circle cx="282.1" cy="70.2" r="2.8" fill="#000"/>
<circle cx="291.9" cy="68.5" r="2.8" fill="#000"/>
<circle cx="301.3" cy="65.1" r="2.8" fill="#000"/>
<circle cx="310.9" cy="64.5" r="2.8" fill="#000"/>
<circle cx="349.6" cy="58.0" r="2.8" fill="#000"/>
<circle cx="368.8" cy="61.9" r="2.8" fill="#000"/>
<text x="206.23" y="17.90" font-size="17.77" fill="#ec1c24" stroke="#ec1c24" stroke-width="0.20" textLength="29.57" lengthAdjust="spacingAndGlyphs" >360</text>
<text x="203.47" y="86.20" font-size="16.91" fill="#000" stroke="#000" stroke-width="0.20" textLength="30.35" lengthAdjust="spacingAndGlyphs" >500</text>
<text x="344.09" y="17.40" font-size="17.30" fill="#3050ad" stroke="#3050ad" stroke-width="0.20" textLength="29.77" lengthAdjust="spacingAndGlyphs" >575</text>
<text x="343.57" y="46.80" font-size="16.91" fill="#3050ad" stroke="#3050ad" stroke-width="0.20" textLength="31.06" lengthAdjust="spacingAndGlyphs" >450</text>
<text transform="translate(137.60,146.03) rotate(-90)" font-size="12.60" fill="#222" stroke="#222" stroke-width="0.25" textLength="119.83" lengthAdjust="spacingAndGlyphs">A (500, 575, 450 nm)</text>
<text transform="translate(421.60,114.33) rotate(-90)" font-size="12.60" fill="#ec1c24" stroke="#ec1c24" stroke-width="0.25" textLength="63.74" lengthAdjust="spacingAndGlyphs">A (360 nm)</text>
<text x="260.48" y="192.20" font-size="13.50" fill="#000" stroke="#000" stroke-width="0.25" textLength="18.12" lengthAdjust="spacingAndGlyphs">Co</text>
<text x="287.81" y="192.20" font-size="13.50" fill="#000" stroke="#000" stroke-width="0.25" textLength="15.59" lengthAdjust="spacingAndGlyphs">eq</text>
<text x="279.2" y="185.3" font-size="7.6" fill="#000" stroke="#000" stroke-width="0.2" textLength="4.3" lengthAdjust="spacingAndGlyphs">II</text>
<clipPath id="clipB"><rect x="78.7" y="351.4" width="364.7" height="271.1"/></clipPath>
<g clip-path="url(#clipB)" fill="none" stroke-linejoin="round" stroke-linecap="round">
<path d="M72.9 565.7L73.6 565.6L75.1 567.2L75.2 568.5L76.0 569.5L76.3 571.1L77.7 572.6L78.5 572.3L79.6 575.3L80.4 575.1L81.1 576.1L82.5 577.1L84.4 578.6L84.9 580.4L86.7 580.5L87.5 581.8L88.6 581.3L90.2 583.4L91.5 583.1L92.6 584.0L93.9 585.6L95.9 585.9L96.9 586.6L98.1 586.8L99.2 587.3L101.8 588.2L102.2 587.9L103.5 588.7L105.4 588.2L106.9 589.0L108.7 589.8L110.2 590.0L110.8 591.0L112.7 591.7L113.2 592.2L115.0 592.5L116.1 594.3L117.5 593.7L119.3 594.9L120.3 595.9L121.8 596.4L123.4 597.1L124.1 597.4L125.4 598.4L126.6 598.0L128.4 598.9L129.0 600.3L130.8 600.9L132.3 600.6L133.5 601.4L135.3 601.6L136.8 601.7L138.3 601.9L139.7 603.5L141.7 604.4L142.0 604.4L144.5 605.0L145.1 605.3L147.6 605.0L148.4 606.9L149.3 607.2L150.6 606.9L152.1 607.8L153.9 608.5L155.0 608.2L157.3 608.7L157.9 608.9L159.7 608.9L161.5 609.5L162.9 608.1L163.8 609.5L165.8 609.8L167.5 609.0L169.3 609.0L169.5 610.5L171.1 609.8L173.7 609.6L174.2 610.0L175.8 608.9L177.7 609.9L179.5 609.9L180.7 609.4L181.9 609.3L184.1 609.4L185.5 609.2L186.6 609.5L188.3 609.8L189.9 610.4L191.3 609.4L192.4 609.5L194.6 609.1L195.8 609.9L197.3 609.2L199.2 609.5L200.5 610.1L202.3 609.3L203.1 609.6L204.8 608.5L206.9 609.5L208.2 608.9L209.9 609.2L210.8 608.8L212.3 609.3L213.8 609.7L215.4 609.9L216.7 608.9L218.4 609.7L220.4 609.8L220.7 609.6L223.4 609.4L224.2 609.5L225.7 609.7L227.4 610.1L229.1 609.0L230.6 609.8L231.6 609.1L232.4 609.8L234.6 608.3L235.7 609.2L238.2 609.3L239.5 608.8L240.3 609.7L242.6 609.3L244.4 608.8L245.2 609.8L247.6 609.3L249.0 609.0L250.0 609.2L250.7 609.4L253.2 609.2L254.3 609.9L255.4 608.5L257.1 608.6L259.4 609.4L260.0 608.9L263.0 608.9L263.1 609.3L265.1 609.3L266.0 608.6L268.1 609.1L268.7 609.7L271.2 609.0L272.3 609.3L273.6 608.5L275.5 608.4L277.0 608.4L278.3 609.0L280.6 608.6L280.8 608.8L282.4 608.8L284.5 609.5L286.5 608.7L288.4 610.1L288.8 607.9L290.3 609.1L290.9 609.1L293.3 608.6L295.1 609.5L296.2 609.1L297.6 608.6L299.4 609.3L300.6 607.9L302.6 608.2L303.9 609.9L305.3 608.4L306.3 609.5L308.3 609.2L310.2 608.9L311.2 608.4L311.6 608.2L314.3 608.8L316.0 608.8L317.4 609.3L318.5 608.7L319.7 609.3L321.9 609.1L324.0 609.4L324.8 609.2L325.8 609.0L327.9 608.0L329.9 608.4L331.1 608.6L332.8 609.4L333.5 608.0L335.3 609.2L336.7 608.4L338.6 607.4L339.6 608.0L341.5 608.3L342.4 608.5L343.8 608.7L345.6 608.5L347.1 609.1L348.8 608.9L350.5 608.2L352.1 608.8L353.5 608.4L354.7 609.0L357.2 608.2L358.1 608.4L359.7 608.8L361.3 607.2L362.1 608.1L363.8 608.2L365.1 608.9L367.6 607.1L368.2 608.7L369.9 608.3L370.8 608.0L373.1 609.0L374.4 608.1L375.9 608.4L377.6 608.5L378.6 608.6L379.9 608.9L382.3 607.8L383.5 607.9L385.3 608.9L386.3 608.9L387.7 608.1L389.1 608.3L390.7 608.5L392.1 608.7L394.3 608.1L394.8 608.7L397.3 608.3L397.8 608.5L400.5 607.4L401.5 608.1L402.5 608.5L403.8 608.4L406.4 608.4L407.0 607.4L408.3 607.3L411.0 608.1L411.4 607.6L412.9 608.1L414.3 609.0L416.1 607.8L418.0 608.9L419.9 607.9L421.0 608.2L422.6 608.3L423.5 607.5L425.4 607.5L427.4 608.1L427.9 608.0L429.7 608.0L431.7 607.4L432.1 608.3L434.3 608.2L436.0 608.0L437.7 607.6L438.9 607.6L439.9 608.3L442.1 607.1L442.9 608.2L444.8 607.7" stroke="#c8c8c8" stroke-width="1.15"/>
<path d="M72.0 504.8L72.9 505.9L72.6 506.9L72.2 508.0L73.6 509.8L74.3 512.5L74.1 514.1L74.7 515.3L75.0 516.6L75.1 517.9L75.7 518.9L76.6 520.5L76.7 522.2L77.5 522.6L77.9 525.1L77.8 526.4L78.0 528.3L79.0 529.0L80.0 530.4L80.3 531.3L80.3 532.6L81.0 535.2L81.7 536.5L81.7 537.0L82.5 539.2L83.4 540.3L84.1 541.6L84.4 543.7L84.8 544.5L86.4 545.8L86.7 546.8L87.9 547.2L87.4 549.1L89.3 551.1L89.4 551.6L90.5 553.5L91.0 553.9L91.8 555.9L93.4 556.9L94.3 557.0L95.5 558.3L96.7 560.0L97.5 560.3L99.3 561.9L99.8 561.2L101.1 564.1L102.7 564.5L103.0 565.7L104.5 566.5L105.1 567.8L106.1 568.7L107.0 570.4L107.7 572.2L109.1 572.3L109.9 574.6L110.3 576.2L111.5 577.3L112.2 577.3L113.9 579.9L114.8 580.4L115.4 580.3L116.6 582.7L117.2 582.6L118.3 583.8L120.6 584.1L121.3 586.3L122.7 585.8L123.4 586.3L125.4 587.8L126.8 589.5L127.3 589.6L129.2 590.8L130.2 590.8L131.7 592.0L131.7 592.9L134.0 595.1L134.9 594.2L137.2 595.8L137.5 596.0L138.5 598.1L140.0 597.9L141.2 599.8L142.4 600.1L144.0 600.8L144.8 601.8L147.1 602.2L147.3 602.4L149.1 603.6L150.4 604.3L151.2 605.2L153.3 605.3L154.8 606.2L156.1 605.7L158.0 606.3L158.7 606.0L160.5 606.6L161.8 607.6L163.5 608.2L165.1 607.7L166.3 607.9L168.2 608.3L169.2 608.8L170.9 608.2L171.8 608.6L174.0 608.3L175.2 607.6L176.8 607.9L178.3 607.5L179.6 607.5L181.4 606.7L183.1 607.2L184.6 606.6L185.7 605.8L187.5 605.1L188.6 605.7L190.5 605.7L191.3 604.7L192.9 605.2L194.7 604.9L195.8 604.6L198.0 604.0L199.1 605.2L200.8 604.0L202.3 603.6L203.6 604.6L205.8 602.9L206.8 604.5L207.8 603.6L210.1 603.0L211.2 603.2L211.8 603.3L214.0 603.5L216.4 603.3L216.9 603.2L218.6 603.5L219.4 602.5L220.7 603.4L223.0 602.9L224.2 603.1L225.6 603.4L227.3 604.5L229.1 603.6L230.2 604.8L232.1 604.6L233.7 605.5L234.4 604.5L235.7 605.4L237.7 605.0L239.0 605.9L240.8 605.5L242.8 605.5L243.3 607.5L245.1 606.1L246.5 606.5L248.6 607.1L250.0 606.8L250.7 607.3L253.4 607.8L254.2 607.8L255.6 607.5L256.7 607.4L258.8 607.6L260.5 608.6L262.3 607.5L262.9 607.2L264.3 607.5L266.4 607.5L267.8 607.4L269.2 606.9L271.4 607.7L271.9 606.7L273.5 607.1L275.7 607.5L277.1 607.5L278.7 607.3L279.9 606.8L280.5 606.8L283.4 606.5L284.0 607.2L285.7 606.4L287.8 606.9L289.0 606.3L290.4 606.8L292.0 607.2L293.7 606.7L295.0 606.1L296.5 607.0L297.5 606.3L299.2 606.2L300.8 607.0L301.8 606.9L304.1 607.4L305.6 606.9L306.6 606.8L308.4 608.3L310.3 607.9L311.7 606.4L312.6 607.1L314.7 608.2L315.4 607.5L317.4 607.3L318.4 607.3L320.5 607.3L322.1 607.8L323.5 608.7L324.4 607.5L326.3 607.5L327.4 608.0L329.2 607.5L330.5 608.4L332.7 607.2L334.2 608.6L334.7 607.4L336.8 608.0L338.2 608.6L339.5 608.2L341.4 608.6L343.4 609.0L344.3 608.0L346.6 608.4L347.3 607.5L349.0 607.7L350.0 607.4L351.5 608.0L352.6 607.5L354.6 607.3L355.7 607.5L357.1 608.2L358.8 608.2L361.0 607.2L362.2 607.5L363.2 607.6L365.1 608.1L367.1 607.1L368.0 607.9L370.1 606.4L371.7 607.5L373.3 607.3L373.8 607.5L376.1 607.5L376.2 607.8L378.0 606.9L379.7 606.5L381.2 606.8L382.9 607.3L384.5 606.5L386.1 607.7L388.0 607.3L389.4 607.6L391.2 608.0L392.0 607.0L394.2 607.9L395.8 605.9L396.6 605.4L398.5 607.0L399.7 606.9L401.7 606.8L403.1 607.2L404.3 607.1L405.7 606.3L407.4 607.2L408.6 607.2L410.5 606.1L411.6 606.5L412.8 606.9L414.3 606.5L416.3 606.9L417.8 607.8L419.0 606.8L420.2 606.9L422.6 607.2L423.4 606.4L425.7 606.5L427.0 606.0L428.7 607.0L429.8 606.1L431.1 606.5L432.8 606.4L434.1 606.5L436.2 605.4L436.6 605.6L438.4 605.5L440.4 606.4L441.6 605.9L443.2 606.3L444.3 605.9" stroke="#c8c8c8" stroke-width="1.15"/>
<path d="M78.0 346.1L78.2 347.6L77.9 350.3L78.1 350.3L78.6 352.8L78.6 353.9L78.3 355.2L78.0 357.6L78.2 358.1L78.2 360.8L78.8 361.1L78.5 363.1L78.9 363.5L79.0 365.7L78.4 367.1L79.1 369.7L78.9 370.6L78.5 372.1L79.2 372.6L78.7 375.2L78.3 376.1L79.3 377.0L78.9 379.3L79.5 380.2L79.6 382.5L79.7 384.4L79.4 385.6L78.6 386.1L78.9 388.1L79.8 388.9L79.3 390.7L78.9 393.6L79.6 395.1L80.0 395.4L78.9 398.3L79.5 398.2L80.0 400.4L79.5 401.6L79.8 403.3L80.1 404.6L79.7 406.6L80.0 408.4L79.9 409.3L79.6 411.6L79.5 412.4L79.8 414.0L80.5 414.5L80.1 415.9L80.8 418.1L79.7 419.5L80.9 422.0L80.9 422.4L80.4 425.1L80.2 425.6L80.1 426.7L81.0 429.1L80.8 430.6L81.1 432.6L80.8 433.1L80.5 435.3L80.8 435.5L81.0 437.8L81.6 439.8L81.1 440.4L81.4 441.7L81.7 444.0L81.9 444.4L81.6 447.4L81.9 448.6L82.7 449.5L82.3 451.3L82.6 452.6L83.2 453.8L83.3 455.5L83.1 457.0L83.6 457.7L84.0 459.9L84.2 460.5L85.0 463.4L85.2 464.7L84.7 466.0L85.1 468.5L85.6 469.2L85.5 469.8L86.2 472.2L86.9 473.5L86.2 475.4L86.9 477.1L88.3 478.2L88.2 478.6L89.2 480.8L88.9 481.7L88.8 483.0L89.0 485.1L89.6 487.2L90.0 488.1L90.2 490.5L90.3 491.5L90.1 491.9L91.4 493.7L92.9 496.6L91.4 496.2L92.4 499.0L93.3 499.8L92.7 500.6L92.7 501.7L94.4 504.3L94.1 505.4L95.8 506.8L95.5 508.5L96.3 509.6L96.4 510.8L97.1 512.1L98.1 514.3L98.5 516.3L99.3 517.4L99.3 518.0L100.6 519.1L100.0 520.4L100.9 522.5L101.7 523.5L101.2 525.2L102.9 526.4L103.0 528.1L104.2 529.1L103.7 530.3L104.8 531.0L105.8 532.9L106.3 534.8L106.6 536.8L107.2 537.0L108.2 539.1L108.7 539.6L109.7 541.7L111.0 542.6L110.9 543.7L111.0 545.4L112.6 546.1L112.7 547.4L114.3 549.0L114.7 550.1L115.3 551.6L115.0 553.2L116.9 553.4L117.4 555.6L117.8 557.0L118.2 558.5L120.2 559.1L120.4 561.7L121.2 562.0L121.6 563.7L122.6 565.2L122.8 566.7L124.0 567.8L124.6 568.1L125.5 569.6L126.3 571.7L127.6 572.8L127.7 573.8L128.9 575.8L129.3 576.5L129.9 578.0L131.4 577.7L131.9 580.2L131.6 581.9L133.3 583.2L133.5 585.4L134.9 585.4L136.2 587.2L136.7 588.7L136.4 590.2L137.9 590.8L139.2 591.6L139.7 593.6L140.4 594.7L140.6 595.1L141.6 597.2L144.5 598.3L143.8 599.3L145.2 600.9L145.4 602.1L147.1 602.8L147.7 602.1L150.1 602.2L151.5 603.5L152.8 604.0L154.3 604.6L155.4 604.9L158.2 605.9L158.7 605.9L159.6 606.3L161.2 607.0L162.4 605.7L164.0 607.5L166.7 608.0L166.8 607.6L168.3 607.8L169.8 607.1L171.9 608.0L173.1 607.9L175.5 607.5L176.0 607.6L176.9 607.1L178.7 606.0L180.5 606.9L181.7 606.2L183.6 604.7L185.2 604.6L185.8 604.3L187.5 604.6L189.0 604.7L190.8 603.3L191.8 603.4L192.8 601.8L194.7 602.9L196.6 602.3L197.9 600.9L199.4 600.8L201.3 601.5L202.4 601.4L204.1 601.1L205.6 600.5L206.4 600.7L209.0 600.9L209.8 600.5L211.2 600.2L212.6 600.0L215.2 600.2L216.5 599.4L217.1 599.7L219.1 599.7L220.8 599.6L222.4 600.5L222.9 600.5L224.7 601.0L226.1 600.9L228.0 599.7L228.5 601.4L230.6 602.2L232.2 601.4L233.7 602.0L235.0 602.5L236.7 602.4L237.5 602.3L240.3 603.3L240.6 603.5L242.1 604.1L244.1 604.7L245.5 604.6L246.8 605.8L248.3 605.7L249.0 606.0L251.3 606.7L251.6 606.3L254.2 606.5L255.4 606.8L257.5 606.8L258.6 606.8L260.0 606.9L261.4 605.8L263.7 605.9L264.6 606.0L266.0 606.0L267.6 606.0L268.6 606.4L271.2 606.4L272.2 605.6L273.6 606.3L274.9 606.4L276.6 606.1L277.9 605.6L279.7 605.9L281.3 605.2L282.3 605.6L283.4 606.0L285.7 605.4L286.8 605.8L288.5 606.3L290.3 604.6L291.9 605.1L292.9 605.3L294.6 605.6L296.4 605.7L297.3 604.9L298.8 605.8L301.0 606.6L301.6 605.8L303.5 605.6L305.2 605.8L306.5 605.7L308.3 606.6L310.2 606.0L310.7 606.2L312.2 607.0L313.8 606.6L315.0 606.5L317.1 607.6L318.3 607.1L319.2 606.5L321.2 607.0L323.2 607.7L323.9 607.7L325.6 608.5L327.7 607.7L329.0 607.7L330.5 607.4L332.3 607.9L333.8 607.8L335.3 607.5L338.0 607.5L337.8 608.3L340.0 607.5L340.4 607.1L342.1 607.4L344.0 608.3L346.0 607.5L347.2 608.2L349.1 607.6L349.7 608.0L352.1 607.4L353.8 608.5L354.4 606.8L355.8 607.3L357.7 606.6L360.0 608.6L360.2 606.5L362.0 607.6L364.1 607.7L364.9 606.3L366.7 607.6L367.9 607.3L369.6 607.0L370.6 607.2L371.9 607.7L373.7 607.2L375.2 607.1L376.9 607.2L378.2 606.0L379.9 606.6L380.9 606.4L382.3 606.8L384.4 606.7L387.0 606.7L387.7 606.9L388.9 606.2L390.9 607.0L390.8 606.4L393.4 606.1L395.5 606.1L396.8 606.1L397.8 606.7L399.2 606.2L400.6 605.8L402.8 606.5L403.5 605.6L406.5 605.8L406.6 606.3L408.2 605.9L410.4 606.5L411.4 606.7L412.9 605.8L414.5 605.8L416.2 606.0L417.2 606.0L418.8 605.5L420.4 606.3L422.1 606.4L424.1 605.7L424.8 605.3L426.6 606.1L428.6 605.0L429.9 606.2L432.0 605.7L432.5 604.8L433.7 605.0L435.1 605.0L436.4 605.4L438.6 605.8L440.0 605.9L441.9 604.6L442.9 604.7L443.6 605.4" stroke="#c8c8c8" stroke-width="1.15"/>
<path d="M84.8 346.2L84.5 346.4L84.7 348.9L84.9 351.3L85.9 352.7L85.5 354.2L85.5 355.7L85.1 356.7L85.4 359.3L85.7 360.7L84.9 361.5L85.6 363.2L85.0 363.5L84.7 365.7L86.6 367.5L85.2 369.1L85.6 370.5L85.6 371.2L85.6 373.8L86.0 375.5L85.5 376.9L86.0 378.0L86.5 379.3L86.2 381.2L86.4 382.8L86.7 384.2L86.1 386.6L86.3 387.1L86.0 387.3L86.1 389.9L86.6 391.4L86.8 393.4L86.9 394.4L86.6 395.8L86.3 398.1L86.2 398.9L86.8 399.3L87.1 401.7L86.9 403.2L86.2 405.0L86.9 406.9L87.1 407.1L87.4 409.8L87.3 411.1L86.8 412.7L87.0 415.3L87.1 414.8L87.0 417.6L87.0 417.2L87.8 420.1L87.0 421.8L86.9 422.3L87.6 424.1L87.4 425.9L87.6 427.5L86.4 429.2L87.1 430.8L87.4 432.6L87.3 432.4L87.4 435.1L87.5 436.2L88.4 437.8L88.4 439.4L87.6 440.4L88.2 442.5L88.2 443.1L88.4 445.0L88.7 446.5L90.1 448.4L89.3 449.7L90.6 451.5L90.3 452.0L89.9 453.9L90.9 454.8L90.8 457.0L90.8 457.6L92.0 460.2L92.5 461.9L93.4 463.3L93.0 465.4L94.1 466.2L93.5 467.4L93.4 468.5L93.6 469.9L95.3 471.6L95.9 473.1L95.7 474.4L96.2 476.0L96.9 478.2L96.9 478.3L97.4 481.0L97.8 481.9L98.3 483.9L97.3 485.4L99.0 486.4L98.9 487.7L99.7 488.3L100.2 490.5L100.9 492.3L100.6 493.4L101.3 494.9L101.7 495.9L101.4 497.4L101.7 498.8L102.8 499.8L102.6 502.4L103.2 503.5L103.4 504.4L104.1 507.2L104.8 507.0L105.2 509.7L105.7 510.1L105.7 513.2L105.8 513.8L106.2 514.4L106.8 517.0L107.8 517.5L107.6 519.0L107.3 521.2L109.2 523.1L108.8 524.4L109.9 525.0L109.9 526.4L110.5 528.9L110.5 528.9L111.7 530.9L111.1 531.8L112.0 533.4L113.0 535.6L113.3 536.6L113.6 538.4L115.0 539.2L114.7 541.7L116.0 541.6L115.5 543.3L117.3 544.6L117.3 546.0L118.3 548.3L118.1 548.8L119.2 550.0L119.4 552.1L120.6 553.4L121.8 554.2L122.1 555.5L122.5 557.2L123.1 557.7L124.4 559.8L124.0 560.0L125.1 562.8L126.2 564.4L126.3 565.5L126.5 566.6L128.2 567.5L128.4 569.2L129.2 571.3L129.4 572.5L130.0 572.9L130.9 574.5L131.7 576.1L132.6 578.3L133.4 578.4L134.1 580.2L134.5 580.7L135.0 582.6L136.3 584.1L136.7 585.5L137.2 586.6L138.7 588.4L139.4 589.0L139.7 590.0L140.7 591.6L140.5 592.8L141.9 593.2L142.1 596.1L143.5 596.8L143.7 598.9L145.7 599.6L146.0 600.5L148.2 600.7L149.0 601.1L150.8 601.6L151.8 601.5L152.7 603.3L155.3 603.8L156.6 603.7L157.5 604.7L158.8 605.8L159.8 605.2L161.6 605.5L163.5 605.3L165.1 607.1L166.2 607.7L168.5 607.4L169.4 607.6L170.8 607.2L171.8 607.6L173.3 607.5L175.3 606.5L176.6 606.3L177.8 606.4L179.3 605.5L179.9 605.2L181.6 604.3L184.2 604.9L184.9 602.9L186.6 602.9L188.0 602.0L189.7 603.0L190.1 601.3L191.9 601.6L192.8 600.9L194.9 600.0L196.7 599.0L197.4 599.2L199.7 599.0L200.5 599.1L202.1 598.3L203.6 598.4L206.3 597.4L206.8 597.6L208.1 598.2L210.0 597.5L211.0 596.5L212.8 596.7L213.9 597.0L215.2 596.2L217.5 596.6L218.9 596.2L220.4 596.4L222.2 597.3L223.3 598.0L224.7 597.2L226.6 598.0L228.0 598.3L229.4 598.2L229.8 598.4L232.1 598.6L232.5 599.3L234.7 600.7L235.7 601.3L237.6 602.0L239.3 601.5L240.5 602.2L242.0 602.7L243.3 603.4L244.8 603.8L246.2 603.7L248.0 604.6L249.6 604.8L250.5 605.0L252.1 604.3L253.0 606.3L254.9 604.4L256.4 606.1L257.4 607.3L259.9 606.6L260.9 606.4L262.8 606.4L263.6 606.1L265.5 606.0L266.5 605.8L268.4 605.6L270.0 604.7L271.7 605.6L272.3 605.1L274.0 604.9L276.3 605.2L278.2 604.9L278.4 604.8L279.4 605.6L281.9 604.8L283.4 604.0L284.8 603.9L286.1 604.4L287.3 605.0L288.9 604.6L290.6 603.6L292.5 604.3L293.7 604.2L295.1 604.5L296.6 604.4L298.7 603.8L299.6 604.2L301.0 604.0L302.7 604.8L304.2 604.1L306.0 605.4L307.3 604.6L308.4 606.2L310.9 605.7L311.4 606.2L313.3 606.6L314.5 606.1L316.1 606.4L317.4 606.7L319.0 606.0L320.9 606.7L321.3 606.8L323.7 607.1L325.9 606.8L326.6 606.4L327.5 607.1L329.6 607.3L331.4 607.8L333.0 607.4L334.3 607.2L335.8 607.8L336.9 606.0L338.4 608.9L340.1 607.3L341.7 608.1L343.3 607.5L344.1 607.4L345.6 607.7L348.2 608.0L348.9 606.9L350.1 607.6L352.3 607.7L353.7 606.7L354.3 607.8L356.3 608.1L357.3 606.6L359.2 607.2L361.4 606.7L362.8 606.3L363.9 606.3L365.4 606.5L367.2 608.5L368.1 606.6L370.4 606.7L372.2 606.1L373.4 606.2L374.9 606.6L376.2 606.2L376.9 605.8L379.4 606.2L380.9 605.6L382.3 606.7L382.7 606.3L385.9 605.7L387.0 606.1L388.4 605.8L389.3 605.7L390.9 605.6L392.2 606.4L393.9 605.2L395.2 606.0L396.2 605.9L398.9 606.3L399.9 605.2L401.6 605.6L403.6 605.5L404.4 604.8L406.0 605.5L408.1 605.4L409.6 606.0L410.3 604.7L411.8 605.2L413.3 605.6L415.3 605.8L416.7 604.9L418.2 604.7L419.6 604.7L421.5 603.7L422.9 605.5L424.1 605.1L425.7 605.6L427.7 604.9L429.2 604.5L430.2 605.0L431.1 605.0L432.8 605.2L434.2 603.8L435.6 604.7L437.7 604.8L438.8 605.0L440.4 604.5L442.5 604.5L442.3 604.9" stroke="#c8c8c8" stroke-width="1.15"/>
<path d="M88.5 346.7L88.9 347.7L89.8 349.8L88.7 351.1L87.9 352.1L89.6 353.6L89.2 354.8L89.5 356.9L89.3 358.9L90.0 360.3L88.7 361.6L89.5 362.3L88.8 364.2L89.4 365.8L89.3 367.5L89.7 368.7L89.8 370.1L89.1 371.9L90.1 374.7L89.0 374.6L89.5 376.5L89.5 377.9L90.3 379.0L90.0 381.7L90.4 381.6L90.9 383.5L90.2 385.2L90.0 386.5L90.5 388.0L89.8 389.6L90.3 390.4L90.7 392.5L90.7 395.1L90.6 396.1L90.3 397.0L89.8 398.8L90.4 399.2L90.8 402.6L90.9 403.9L90.7 404.4L90.8 406.2L90.4 408.4L91.0 409.0L91.1 410.8L91.3 413.2L90.9 413.3L91.8 416.5L91.1 416.4L90.9 418.3L91.5 419.7L91.9 420.9L91.4 422.2L92.2 424.9L92.3 425.4L92.4 427.5L92.3 429.1L92.0 430.2L91.7 431.6L92.3 432.7L92.6 435.4L92.6 435.8L92.6 437.9L93.9 439.4L93.4 440.1L93.8 442.5L93.8 443.7L93.9 445.6L95.0 446.8L95.0 448.2L94.8 449.2L95.3 451.1L95.8 453.0L96.4 454.7L96.8 455.3L96.9 456.1L97.8 458.1L97.4 460.7L97.5 461.0L98.2 462.4L98.6 464.3L99.2 465.6L99.6 466.9L99.9 469.1L99.3 469.9L100.4 470.5L99.4 473.1L100.7 474.8L101.3 475.9L101.5 477.4L101.6 478.5L102.6 480.1L102.8 481.7L102.8 482.7L103.6 484.2L103.7 485.4L104.0 487.8L104.0 488.2L104.5 490.6L104.7 491.6L105.7 493.4L105.5 495.3L106.0 496.0L106.7 497.6L107.2 498.9L107.3 501.3L107.8 502.4L108.2 504.0L108.5 505.2L108.8 507.4L109.0 508.3L109.4 509.6L110.8 510.2L111.4 511.7L110.8 513.7L111.2 515.5L112.3 515.1L112.0 517.5L113.2 518.8L113.2 521.0L113.6 522.3L113.9 524.1L115.5 524.4L114.4 525.6L116.2 527.6L116.7 528.6L116.3 530.6L117.5 532.0L117.1 533.7L118.0 535.3L118.2 536.2L118.7 536.7L119.1 540.0L119.6 540.4L119.2 542.9L120.0 543.6L120.7 544.9L121.0 547.4L121.3 549.0L122.1 549.6L122.8 551.3L123.4 552.6L123.3 554.5L124.0 554.7L125.0 556.8L125.2 557.9L126.0 560.2L126.3 560.0L126.7 562.3L127.5 563.0L128.5 565.1L128.7 566.3L129.2 567.2L129.9 568.2L130.8 570.2L131.1 571.6L131.9 572.6L132.3 573.9L133.7 574.8L133.8 577.4L134.0 577.9L134.7 578.8L136.2 580.9L135.9 582.1L137.1 583.6L137.4 585.3L138.0 586.2L139.1 587.4L139.8 588.7L141.5 590.2L141.4 591.3L141.5 592.9L142.5 594.1L143.4 596.0L145.1 597.8L145.3 598.8L147.1 598.6L147.5 599.5L149.8 600.0L150.4 601.2L151.8 601.0L153.4 601.9L153.6 601.8L156.2 602.3L157.8 603.6L158.8 604.3L159.4 604.3L161.1 605.3L163.5 605.5L164.4 605.1L165.7 606.3L167.2 607.0L169.3 606.9L170.4 606.2L172.0 606.8L172.5 606.7L174.4 606.7L176.3 605.7L178.2 605.1L178.8 604.6L180.3 603.7L181.9 603.8L182.9 602.3L185.0 603.2L186.3 602.5L188.1 601.7L189.4 600.9L189.8 600.5L191.5 600.2L193.7 599.6L194.8 600.0L196.6 598.5L197.0 599.1L198.3 596.7L199.4 597.8L201.0 596.7L203.0 597.1L204.0 596.1L206.1 596.5L207.4 595.6L208.8 595.7L210.8 594.7L212.1 593.9L213.4 594.1L214.7 594.9L217.2 594.5L217.8 594.2L219.7 594.4L221.2 595.4L222.6 594.7L224.1 594.9L224.5 596.2L227.4 596.7L228.0 594.8L229.2 597.3L230.8 598.2L232.0 598.3L233.8 598.7L234.6 599.0L236.7 599.4L237.4 599.9L239.0 600.8L241.2 601.3L242.4 601.5L243.7 601.0L245.1 602.9L246.3 603.2L247.4 603.3L249.3 604.0L250.9 605.2L251.0 603.8L253.5 604.9L255.0 604.8L256.1 604.7L257.8 606.3L259.4 607.0L261.6 605.4L263.0 606.0L263.7 604.5L266.3 604.6L267.5 605.2L268.0 605.1L270.4 605.2L271.6 604.7L273.3 604.2L275.3 604.7L276.7 604.3L278.1 603.6L278.9 604.4L280.5 603.6L282.2 602.9L283.7 603.8L285.0 602.8L287.3 603.5L287.7 603.0L288.9 602.4L290.3 602.9L292.7 603.7L294.0 603.9L295.8 602.9L296.7 603.7L298.8 604.2L299.5 602.8L302.4 603.8L303.5 604.1L304.0 604.9L306.2 605.1L307.8 604.0L309.0 605.2L310.2 604.9L312.5 604.4L313.4 605.3L315.4 605.4L316.2 605.9L317.7 606.0L319.6 606.0L321.3 606.9L321.9 606.8L323.8 606.5L325.4 607.4L326.8 606.8L327.9 607.0L329.9 606.7L331.3 607.5L333.4 607.2L335.2 607.9L336.2 607.7L337.4 607.1L338.9 607.4L340.5 608.2L342.7 607.7L343.8 607.1L344.1 607.3L346.5 608.0L348.9 607.4L349.9 607.8L351.0 607.6L352.6 607.9L353.5 605.9L355.5 607.5L357.3 606.7L358.6 606.6L360.2 606.5L361.0 607.2L362.4 606.0L364.7 606.7L365.0 607.2L366.9 606.3L368.9 607.5L370.4 606.8L371.8 606.6L372.8 606.3L374.6 605.7L376.5 606.7L378.1 605.9L379.7 605.5L381.0 606.2L382.4 605.8L383.9 605.5L385.3 606.1L386.1 606.3L388.6 605.7L389.5 605.4L391.1 605.8L393.1 606.0L394.4 604.4L395.5 605.1L397.5 604.5L398.8 605.2L400.1 605.1L402.8 605.1L404.1 605.2L404.6 605.3L406.2 604.9L407.0 605.1L409.1 605.4L410.9 604.6L411.9 604.8L413.7 604.4L416.1 604.6L417.2 605.4L418.5 604.9L420.0 605.0L421.6 604.8L422.9 604.2L424.2 604.1L425.9 605.0L427.0 604.1L428.4 604.3L430.7 604.1L432.0 603.1L433.3 604.4L434.6 603.3L436.5 604.1L438.5 603.8L439.3 603.8L440.9 603.1L442.9 604.3L443.2 603.7" stroke="#c8c8c8" stroke-width="1.15"/>
<path d="M91.6 346.1L92.4 348.6L91.9 348.9L91.7 350.6L91.7 352.0L92.3 354.1L92.4 355.0L92.5 357.9L92.5 358.2L93.6 360.1L92.4 361.8L92.4 362.7L93.2 364.1L92.3 366.3L93.3 366.7L92.9 369.4L93.3 370.8L93.2 371.6L93.1 373.3L93.5 373.6L92.8 376.4L93.9 377.6L93.7 378.9L93.3 381.0L93.9 382.1L93.5 383.9L94.1 385.3L94.1 386.7L94.5 388.6L95.1 390.6L94.5 390.8L94.8 392.6L95.3 393.6L94.6 396.6L94.9 397.7L95.3 398.6L95.5 399.9L95.1 402.9L95.3 403.5L95.1 405.5L95.3 405.9L95.6 407.3L95.4 409.1L95.9 410.7L95.9 411.8L96.3 413.8L96.3 415.2L96.7 417.2L97.3 418.5L97.7 419.4L98.0 421.3L97.6 422.8L97.6 425.0L98.4 424.9L98.2 426.8L98.7 428.8L99.6 430.5L99.8 431.0L100.3 433.5L99.5 434.1L100.4 435.5L101.2 437.6L101.1 438.2L100.6 439.8L101.3 441.3L101.0 442.5L102.0 444.9L102.2 446.1L102.6 447.6L103.4 448.8L103.3 450.0L103.9 452.5L104.1 453.6L103.9 454.4L104.3 457.2L103.4 458.9L104.4 459.7L104.7 460.9L105.6 462.4L106.2 463.9L106.0 465.1L105.8 466.7L106.4 469.2L106.5 469.2L106.5 470.7L107.1 472.8L106.7 474.1L107.7 476.0L107.3 477.6L107.9 478.5L108.0 481.2L107.7 482.2L108.3 483.5L108.7 484.8L108.7 486.2L109.2 487.9L108.6 489.4L109.9 491.1L109.7 491.2L110.1 493.9L110.7 494.6L110.3 496.3L110.5 497.2L110.7 499.3L111.1 501.8L111.3 502.2L112.3 503.6L112.6 505.6L112.3 506.5L112.9 508.2L113.3 509.5L113.8 510.9L113.8 512.6L113.9 513.9L114.7 514.8L114.4 517.6L115.4 518.4L115.7 520.7L116.2 520.5L116.9 522.3L117.3 524.2L118.0 525.9L117.8 527.8L119.4 528.3L119.1 530.2L119.3 530.9L119.1 533.6L119.9 534.1L120.9 536.4L120.9 536.8L120.9 539.5L120.5 539.4L121.4 542.1L122.2 543.3L122.6 544.6L123.4 547.8L123.5 548.1L123.6 549.6L124.3 550.4L124.6 551.3L125.1 552.6L125.3 555.4L126.5 556.4L127.1 556.6L127.5 558.3L127.7 560.0L128.6 561.5L129.2 562.7L129.7 564.9L131.1 566.2L130.7 567.2L131.8 568.9L132.5 570.4L132.7 571.0L132.5 573.1L134.0 573.5L134.3 575.1L134.8 577.6L135.4 579.3L136.1 579.1L136.8 582.0L137.3 582.4L137.1 583.8L138.1 584.8L139.8 586.1L140.2 587.5L140.5 589.1L141.7 590.3L142.0 591.1L142.0 593.0L143.4 594.3L144.7 595.9L144.9 596.7L146.4 597.5L146.7 598.0L148.9 599.4L150.2 598.8L152.2 600.2L152.8 601.2L154.6 601.6L155.4 602.0L157.3 602.8L158.6 602.5L159.6 603.9L161.0 603.6L162.4 605.9L164.1 605.3L165.1 605.3L167.0 606.0L168.2 607.1L170.2 607.0L170.7 606.3L173.3 605.8L174.7 605.9L176.0 605.2L176.6 604.3L179.0 604.1L179.3 604.1L180.5 603.0L182.7 602.6L184.1 601.9L184.3 601.5L186.7 600.7L188.3 600.5L189.5 600.3L191.7 599.1L192.1 597.7L193.8 596.9L195.7 597.7L196.2 597.1L197.4 595.7L199.5 595.2L200.7 595.2L202.7 595.0L204.2 594.9L204.7 593.5L205.6 593.7L206.8 592.9L208.4 592.7L211.1 592.3L212.1 592.3L213.9 591.6L215.3 592.2L216.4 591.7L218.8 592.6L220.0 592.0L221.1 592.0L222.0 592.7L223.9 592.7L225.1 594.0L226.8 593.5L229.2 593.9L229.9 594.9L231.5 596.0L233.0 596.5L233.6 597.8L235.3 597.6L236.6 597.9L238.2 599.7L240.1 599.6L241.1 600.3L242.0 601.2L243.8 600.1L245.4 601.0L246.7 602.3L247.8 602.6L249.9 602.2L250.1 603.3L252.2 604.9L254.1 604.5L255.1 603.6L256.1 604.6L258.2 604.8L259.7 605.4L260.8 604.8L262.2 605.5L263.3 605.0L265.9 603.5L266.9 604.8L268.2 603.8L270.0 604.6L271.8 603.5L272.5 602.9L274.6 602.5L275.8 603.7L277.0 603.1L279.0 603.6L279.9 603.1L282.0 603.0L282.8 603.0L284.6 602.5L286.1 603.4L288.0 603.5L289.2 602.3L291.5 602.3L292.6 603.1L293.8 602.3L295.4 603.2L297.1 603.5L298.3 602.7L299.5 602.9L301.2 603.1L302.5 603.0L304.3 604.0L305.8 603.4L307.8 604.5L308.8 603.9L309.6 603.4L311.8 605.1L314.1 605.0L314.6 605.1L315.7 605.1L317.3 605.3L319.8 606.7L320.8 606.1L321.6 605.8L324.3 606.9L325.5 606.7L327.3 606.5L328.1 608.2L329.3 607.1L331.0 607.7L332.6 606.9L334.0 607.5L335.3 606.4L337.1 607.0L338.9 607.0L339.9 607.3L341.8 607.7L343.2 606.2L344.7 607.1L346.1 607.3L347.6 607.6L349.1 607.7L350.2 605.7L351.8 608.3L353.6 606.7L355.3 606.5L356.8 606.7L359.0 607.2L359.8 606.9L361.4 605.9L363.1 606.1L364.5 606.4L366.0 607.0L367.4 605.9L368.5 606.4L370.0 605.8L371.6 605.8L373.4 605.7L374.7 605.5L375.5 606.1L378.0 605.4L379.5 605.8L380.2 606.1L381.3 605.4L383.9 604.8L385.8 605.0L387.1 605.1L388.4 605.1L390.6 605.3L391.6 605.4L392.7 604.8L394.3 605.4L396.0 605.1L397.1 605.2L398.3 604.7L399.3 604.3L401.6 603.9L402.7 605.1L404.9 605.1L406.6 604.8L408.0 604.6L409.7 603.6L410.6 604.9L412.5 604.3L413.5 604.7L415.1 603.6L417.1 604.0L418.2 603.3L418.6 604.3L421.8 602.9L422.4 604.3L424.2 604.0L425.6 603.4L427.6 604.3L428.8 602.6L430.8 603.7L431.9 604.7L433.7 603.6L435.1 603.9L435.9 603.6L436.9 602.7L439.2 604.2L440.3 604.0L442.2 604.3L443.0 604.8" stroke="#c8c8c8" stroke-width="1.15"/>
<path d="M94.4 346.1L95.5 348.8L94.7 349.3L94.2 351.6L94.8 352.8L95.9 353.2L95.1 355.8L96.1 356.6L95.3 358.6L96.3 359.3L95.6 362.0L96.1 362.5L96.1 364.6L96.7 366.0L96.4 366.5L96.7 369.1L96.7 370.4L96.7 372.3L96.7 372.7L97.3 374.6L96.9 376.5L97.0 377.8L96.8 380.0L96.8 381.5L97.0 382.0L97.4 384.2L97.8 385.1L97.3 387.3L98.0 388.5L98.0 389.5L98.5 391.4L98.8 392.9L97.9 394.7L98.6 395.7L97.5 396.8L98.9 398.4L99.1 400.5L99.1 401.3L99.5 403.4L99.3 403.8L99.1 406.6L99.6 406.8L99.8 409.2L100.3 410.9L100.4 411.8L99.8 413.4L101.2 414.4L101.2 415.9L100.6 418.2L101.0 419.5L101.1 421.1L102.2 421.8L102.3 424.2L102.7 424.4L103.0 426.4L102.9 428.2L102.9 429.5L103.3 431.4L104.2 432.7L104.5 434.4L105.0 435.1L104.9 437.2L105.1 438.9L105.6 440.3L105.8 441.5L105.7 442.8L106.5 445.0L106.8 445.9L106.4 448.8L107.2 448.4L107.3 450.7L107.1 451.9L107.1 453.3L107.3 454.4L107.7 456.1L108.4 458.5L108.3 459.3L108.8 460.9L109.6 461.1L108.1 463.4L109.4 465.8L109.3 466.9L109.6 468.6L110.8 468.7L111.1 471.8L110.3 473.0L110.7 474.5L111.1 476.2L110.8 477.5L111.2 478.6L112.0 480.0L112.0 481.8L112.2 482.6L112.6 484.7L113.6 485.6L113.3 487.4L113.0 489.9L113.4 491.0L113.7 491.6L113.8 493.3L114.1 495.9L114.6 495.6L115.4 498.2L115.3 500.2L114.8 501.1L115.3 502.2L115.5 503.9L116.3 505.8L116.2 507.5L115.4 508.4L116.7 510.0L117.3 511.4L117.5 512.7L117.5 514.3L117.3 516.0L117.9 516.8L118.3 518.6L118.2 518.9L118.4 520.7L119.0 522.8L118.8 524.5L118.7 526.1L119.0 527.5L120.1 529.7L120.7 530.4L120.1 532.2L121.4 533.0L121.6 534.8L120.4 536.4L122.5 538.2L122.5 539.5L121.8 539.6L122.4 542.0L122.9 543.2L124.0 545.8L123.4 546.0L124.5 547.8L124.1 550.8L125.8 551.0L125.2 552.4L126.0 553.9L127.1 555.1L127.7 556.1L128.1 556.6L128.9 559.2L130.2 560.7L128.7 562.8L129.9 562.9L130.8 565.5L132.1 566.0L132.0 567.7L132.2 568.7L133.0 570.4L134.1 570.8L134.4 573.3L135.3 574.3L135.2 576.0L135.7 577.0L136.3 578.3L136.8 579.7L137.5 581.0L137.9 583.3L139.1 584.1L139.2 585.8L140.2 586.8L141.0 588.1L142.0 589.1L142.1 590.9L143.0 592.4L144.2 594.1L145.1 594.5L145.6 595.6L147.3 596.6L147.8 597.0L149.8 597.7L149.8 599.1L152.3 599.9L153.8 600.5L154.9 601.1L155.7 600.7L156.6 602.6L159.1 603.1L159.8 604.0L161.5 604.2L162.8 604.2L163.9 605.4L166.4 606.6L167.1 606.3L168.6 606.4L170.3 606.8L171.2 607.1L173.0 605.4L175.4 605.0L175.9 604.5L177.7 602.9L178.7 602.7L180.6 603.9L181.6 601.8L183.1 602.7L184.1 600.8L186.0 599.7L186.6 599.7L188.1 599.6L189.4 597.8L190.2 597.6L192.3 597.5L193.7 595.7L195.1 595.5L196.7 595.1L197.5 594.4L199.4 594.1L201.5 594.2L201.4 593.2L203.7 593.1L205.0 592.4L205.5 591.1L207.9 591.1L209.1 591.4L209.8 589.8L212.2 590.2L213.3 590.8L214.9 590.1L216.6 589.2L218.7 590.3L219.2 590.8L220.6 590.2L221.9 590.7L223.5 591.4L225.0 591.9L226.8 592.5L228.2 592.9L229.1 592.5L230.9 593.4L232.3 594.7L233.5 595.4L235.0 595.6L236.3 597.2L237.8 597.9L238.8 597.9L241.0 598.8L241.8 599.6L242.7 599.6L244.6 600.2L246.4 601.0L247.6 600.9L248.6 601.9L250.2 602.7L251.4 603.2L253.7 603.4L254.1 604.4L256.4 604.2L257.6 603.4L258.9 604.5L261.1 604.7L262.5 604.4L263.1 604.1L264.2 603.9L266.6 603.1L267.7 604.2L269.3 603.7L270.8 603.5L271.4 603.9L273.8 602.7L275.0 602.8L276.9 602.2L277.6 602.0L280.0 602.0L281.2 601.7L282.6 601.9L283.8 602.5L285.6 601.3L288.0 601.2L288.1 600.8L290.7 601.8L291.7 602.3L293.1 602.2L295.2 602.0L296.4 602.1L297.6 602.9L299.3 602.4L299.8 602.0L301.8 602.6L303.7 602.8L305.0 603.1L306.6 603.6L307.3 603.9L310.3 604.1L310.8 603.3L312.4 604.7L314.0 603.3L314.1 604.6L317.8 604.0L318.1 605.1L319.9 605.8L320.6 605.7L322.5 606.3L324.4 606.7L325.2 605.8L326.9 606.3L328.4 606.0L330.0 605.9L332.1 606.6L332.7 607.0L334.0 607.1L336.0 607.8L337.9 606.6L339.5 607.1L340.9 605.5L342.0 606.8L344.2 606.5L345.3 606.9L346.1 606.6L348.4 606.7L349.6 606.7L351.2 606.8L352.6 605.9L354.1 606.6L356.3 606.0L357.8 606.1L359.3 605.3L360.0 605.1L361.1 606.0L363.3 605.7L364.7 605.6L366.8 605.7L368.4 606.8L368.8 606.0L370.4 606.4L372.3 606.5L373.6 605.4L374.8 605.5L376.8 605.4L378.2 605.7L379.6 604.9L380.7 604.9L382.5 605.6L384.5 604.6L385.9 604.5L387.4 604.0L389.0 604.7L390.2 604.6L391.2 604.7L393.1 604.9L394.9 605.1L396.3 603.8L397.9 603.7L398.8 604.3L400.3 604.0L402.5 603.9L403.2 603.5L406.2 603.8L406.6 604.0L408.5 603.6L409.2 603.7L410.8 603.1L411.8 603.8L413.9 604.4L415.4 603.5L417.6 602.8L418.9 603.2L419.6 603.7L421.6 602.9L423.2 604.2L424.9 603.4L425.9 603.3L427.8 603.2L429.3 603.7L430.0 603.2L432.3 603.0L433.3 603.8L435.1 603.0L436.4 602.8L438.0 602.9L439.0 602.1L440.8 602.6L442.4 603.1L443.6 603.1" stroke="#c8c8c8" stroke-width="1.15"/>
<path d="M97.1 346.5L97.4 346.9L97.3 349.5L96.9 350.9L97.3 351.7L97.1 354.1L98.1 355.9L98.3 357.0L97.8 358.2L98.3 360.8L98.3 360.6L98.5 363.2L98.9 364.6L99.2 366.2L99.1 367.0L100.2 368.5L99.9 370.8L100.0 371.2L101.3 373.9L101.1 373.9L100.9 375.6L101.6 378.2L102.2 379.5L101.9 380.8L102.7 382.4L102.6 383.2L103.3 385.7L103.0 386.6L103.7 388.6L104.2 389.4L104.3 390.2L103.1 392.1L104.4 393.1L104.4 395.4L104.7 396.9L105.4 398.1L105.0 400.0L105.8 401.0L106.2 403.1L105.7 404.2L105.8 406.0L106.4 408.1L105.5 408.0L106.6 410.4L106.9 411.2L107.4 412.8L107.6 415.0L108.1 415.3L107.7 417.7L108.1 418.6L108.7 420.5L108.9 422.4L108.8 423.9L109.2 425.0L109.8 425.6L109.0 427.3L110.2 429.4L109.9 430.3L109.7 432.5L110.6 434.0L111.2 435.4L111.6 436.6L111.9 438.4L111.3 439.8L112.6 440.6L111.7 442.5L112.3 444.2L113.1 445.6L112.9 446.9L112.4 448.5L112.9 450.4L113.8 451.4L113.9 452.6L114.3 453.8L113.7 456.2L113.9 457.0L114.6 458.5L114.9 459.8L115.1 462.4L115.1 464.0L115.1 464.9L115.8 465.9L115.5 467.8L115.8 469.3L115.2 470.9L116.5 472.9L116.9 473.5L116.8 474.8L117.0 476.5L117.8 478.4L117.9 479.5L117.9 481.5L117.9 482.9L118.8 483.9L118.7 485.2L119.7 487.3L119.7 488.5L119.2 490.0L120.4 492.3L120.4 493.0L120.6 495.0L120.3 496.4L120.6 497.6L121.5 499.1L121.5 501.0L121.6 501.7L121.7 503.4L122.6 504.8L121.8 506.5L123.1 507.4L123.0 509.3L123.0 510.9L123.6 511.7L122.8 513.2L124.6 515.8L124.2 516.1L125.2 518.5L125.4 520.5L125.3 521.1L125.1 522.6L125.3 524.6L125.8 526.3L126.0 527.2L126.1 528.9L126.4 530.6L127.2 530.5L126.7 533.0L127.4 535.3L127.4 535.8L128.0 537.4L128.9 538.8L127.9 541.1L128.9 541.0L128.8 543.1L129.3 545.1L129.4 545.9L129.4 547.6L130.1 549.4L129.5 550.2L130.8 552.9L131.2 552.5L130.4 555.3L131.4 556.6L132.4 557.5L132.4 559.5L131.9 559.9L131.9 563.2L132.7 564.3L133.1 565.3L133.5 567.0L133.3 568.2L133.4 570.0L134.0 571.8L134.3 572.3L134.1 574.6L136.3 575.6L134.9 577.5L136.1 578.8L137.1 580.1L137.6 581.0L138.7 582.4L139.4 583.5L139.7 584.8L140.8 586.1L140.9 588.1L142.2 588.9L142.6 590.1L144.1 591.6L144.7 592.6L145.4 593.4L146.9 594.6L148.3 596.3L149.8 596.2L150.1 596.2L152.7 597.3L154.0 598.0L155.1 598.7L156.4 600.1L157.9 600.0L158.5 601.2L160.4 601.8L161.3 602.3L163.1 601.9L164.5 603.2L166.2 603.2L167.7 603.1L169.6 603.3L170.0 602.4L171.8 602.6L173.8 601.1L175.2 602.3L176.0 601.7L177.3 600.3L178.7 600.5L180.7 599.6L181.1 598.4L182.5 597.8L184.5 597.8L185.6 596.6L186.9 595.3L189.0 595.4L190.3 595.0L190.6 593.7L192.7 593.8L194.1 592.8L195.5 591.7L196.5 591.0L198.4 591.3L199.7 590.4L199.8 589.7L202.3 589.7L204.1 589.8L204.9 589.2L205.9 588.8L207.2 588.3L208.6 587.9L211.6 587.3L212.7 587.7L212.9 586.0L215.4 586.3L216.8 588.2L219.2 587.2L219.6 587.3L221.5 587.2L223.5 586.7L224.9 587.9L226.2 588.6L226.9 588.8L228.6 589.9L231.1 591.2L231.2 590.4L232.6 591.9L233.2 592.3L235.8 592.7L236.0 593.9L238.7 594.1L239.5 595.4L241.0 595.0L242.0 595.8L243.6 596.9L244.6 597.0L246.4 596.3L248.2 597.9L248.8 597.3L251.1 599.5L252.2 599.0L253.9 599.1L254.9 600.2L256.1 600.5L258.2 600.7L258.8 600.7L261.0 600.3L262.2 599.3L264.5 599.8L265.7 599.6L267.2 598.1L268.3 598.5L270.8 599.1L271.1 597.5L273.2 598.3L275.0 597.3L276.6 597.8L277.9 597.6L278.7 596.9L280.9 595.5L282.3 597.4L283.1 597.3L284.8 596.1L286.2 597.0L287.9 596.3L289.6 597.2L291.3 597.1L292.9 596.8L293.6 596.7L295.2 597.7L296.7 597.2L298.6 597.3L299.3 596.9L301.6 599.1L302.5 599.2L303.6 598.8L305.1 599.9L306.8 600.2L308.0 599.7L310.1 601.0L311.5 600.9L312.9 600.7L313.8 602.1L315.3 601.7L316.8 603.5L318.4 603.2L320.0 604.7L321.5 604.4L323.4 604.4L324.4 603.8L326.1 606.0L327.6 606.2L329.2 605.9L330.2 605.5L332.0 606.4L332.9 605.2L334.8 606.1L336.5 607.1L337.6 607.3L339.5 606.5L340.1 607.3L343.0 606.8L344.0 606.4L344.5 606.2L346.2 605.9L348.0 606.3L350.0 607.2L351.2 606.9L352.6 606.3L354.4 606.0L355.9 606.0L356.9 605.9L359.4 606.2L360.1 606.1L361.5 605.7L363.1 605.0L364.7 606.0L366.4 605.6L368.2 605.1L369.7 606.0L370.8 606.1L371.9 605.4L373.7 604.8L375.1 605.3L376.9 605.3L378.0 604.8L379.7 604.5L381.2 603.6L382.3 604.4L384.1 604.8L385.5 605.3L386.6 605.2L388.3 603.6L389.9 603.8L391.6 603.8L393.4 604.4L394.3 604.5L396.3 603.8L398.0 603.7L399.8 603.0L401.2 603.3L402.5 603.3L404.4 603.6L405.5 602.8L406.1 603.4L408.8 603.3L409.1 604.0L411.0 603.5L412.4 602.7L414.3 601.7L415.3 602.7L417.0 602.1L419.1 602.7L420.1 601.8L421.6 603.0L423.5 602.9L424.6 602.4L426.2 602.8L427.6 602.3L429.3 602.3L430.7 602.4L431.8 603.0L433.9 601.8L434.8 601.9L436.4 601.6L438.2 601.9L439.3 602.7L441.0 602.1L442.1 601.3L443.2 602.3" stroke="#c8c8c8" stroke-width="1.15"/>
<path d="M97.8 346.0L97.2 347.9L97.2 349.2L98.5 350.1L97.9 352.3L99.0 353.7L98.5 355.4L98.2 356.0L99.4 358.7L99.5 359.8L99.7 360.4L99.3 362.5L100.4 364.3L100.3 365.1L100.6 367.3L101.0 368.6L101.9 369.5L101.7 370.9L101.2 373.4L101.8 374.2L102.2 377.3L102.2 377.3L103.2 378.7L103.9 379.8L103.1 382.4L103.3 383.2L103.1 384.8L104.2 386.3L103.7 388.5L104.7 389.6L104.5 390.4L105.2 392.4L104.8 393.7L105.4 395.7L105.4 396.6L105.2 398.1L105.8 399.9L106.1 400.9L106.3 403.0L106.5 404.1L106.7 405.5L107.1 407.5L107.1 408.5L107.6 410.5L108.2 410.9L108.2 412.8L108.4 415.0L109.1 415.8L109.0 416.3L108.8 417.9L108.8 419.9L108.7 422.0L109.1 422.9L109.5 424.7L110.2 426.2L109.9 427.0L110.7 429.5L110.9 430.5L111.4 432.6L112.1 433.6L111.7 436.1L111.5 436.8L111.7 438.1L112.4 439.9L111.9 442.5L112.2 443.3L112.7 444.5L113.2 446.1L113.4 448.0L113.1 448.0L112.9 449.2L113.9 450.8L113.3 453.2L114.0 454.7L113.3 455.5L113.9 457.6L114.7 459.3L115.4 462.3L114.9 462.4L115.7 463.5L115.2 465.4L116.1 466.8L115.7 466.9L115.8 470.1L116.9 470.4L116.8 473.1L117.5 473.4L117.1 475.4L117.0 477.7L117.0 478.5L118.4 480.0L118.5 480.2L118.5 482.9L118.9 483.6L119.0 485.3L119.9 486.9L119.5 488.6L119.8 491.0L120.7 491.8L120.3 492.9L119.9 494.6L121.1 496.0L120.8 498.1L121.8 499.1L122.4 500.6L122.7 501.9L122.3 503.2L122.9 504.7L122.9 506.5L122.7 509.0L123.7 509.3L123.9 511.0L123.6 513.2L124.4 514.1L124.5 515.6L124.9 516.9L124.9 518.3L124.5 519.6L125.8 522.0L125.7 522.3L126.3 523.8L125.7 524.9L125.6 528.1L126.7 527.2L126.6 529.2L127.5 531.2L127.1 533.3L128.3 534.1L127.9 535.5L128.5 537.6L128.5 538.5L129.3 540.2L129.4 542.5L128.7 543.3L129.5 544.3L129.7 546.5L129.3 547.6L130.3 549.0L130.2 550.0L130.7 552.3L131.0 554.4L131.3 555.0L132.2 557.0L132.2 558.8L131.8 559.1L132.9 560.1L132.3 563.4L132.5 564.4L132.7 566.7L133.2 567.4L133.0 568.9L134.1 569.7L134.4 571.3L134.7 572.6L134.7 573.7L135.6 575.6L135.6 578.0L136.5 578.5L136.8 580.4L137.8 580.9L138.3 582.9L139.2 584.5L140.3 586.3L140.4 586.5L141.4 587.6L142.4 588.8L143.7 589.5L144.4 591.5L145.9 592.2L146.8 593.2L148.1 593.9L149.4 595.5L151.3 595.4L152.1 596.4L153.3 596.8L154.5 597.9L155.8 598.0L157.7 598.8L158.5 599.3L160.0 599.3L161.7 600.0L162.5 600.9L164.3 599.9L165.9 600.4L167.5 600.1L168.8 599.8L169.8 600.3L171.6 600.7L173.0 599.5L174.1 599.6L176.0 597.4L177.4 597.3L179.5 597.4L179.7 596.5L181.6 595.4L182.6 594.9L183.8 594.6L185.4 593.8L186.8 593.0L189.1 592.9L190.0 593.6L191.1 591.4L191.9 590.5L194.2 590.0L194.6 590.2L196.8 590.5L197.7 589.8L198.8 589.5L201.2 588.0L203.1 588.2L204.3 587.7L205.9 587.7L206.6 586.6L208.1 587.1L210.1 586.5L211.3 585.9L213.0 586.3L214.6 586.6L216.5 585.5L218.3 586.5L218.9 586.0L220.5 585.7L221.5 586.2L223.1 585.1L224.9 586.0L226.3 587.2L227.3 588.3L228.6 588.0L230.5 589.1L231.5 589.2L232.8 590.3L234.7 591.1L235.9 590.8L237.6 593.1L239.3 591.8L240.4 592.7L241.5 593.1L242.7 592.9L244.6 593.5L245.7 594.2L247.4 594.5L248.8 594.8L250.4 595.5L252.4 595.9L253.0 596.1L255.1 595.7L256.0 594.9L258.3 596.2L259.8 595.3L259.8 596.0L261.9 595.8L263.4 595.8L265.0 595.0L266.8 594.5L267.9 595.0L269.5 594.3L271.2 594.0L272.7 594.6L274.4 592.8L274.6 592.8L276.1 591.7L278.1 592.4L280.0 592.9L282.3 592.2L282.7 592.6L284.9 592.3L285.6 591.1L287.8 592.4L289.5 593.6L291.2 593.2L292.2 592.6L293.5 593.4L295.2 593.7L296.2 593.9L298.4 594.8L298.7 594.9L300.1 596.1L302.5 596.0L303.6 595.7L305.5 596.9L307.1 597.1L307.9 598.3L309.4 598.3L311.0 599.0L312.0 598.8L313.9 599.8L315.0 600.2L316.4 600.5L318.7 602.1L319.4 601.8L320.8 601.7L322.2 602.5L323.2 602.6L324.6 603.6L326.3 603.3L327.9 604.1L329.2 605.1L330.6 604.0L332.2 604.5L334.0 605.5L335.0 605.7L336.5 605.5L337.4 604.8L339.4 606.9L340.6 606.1L342.3 606.6L343.7 606.3L345.7 606.2L347.0 606.4L348.8 606.8L350.4 606.7L351.2 606.2L353.3 606.4L354.9 605.7L355.7 605.9L357.7 605.9L358.7 606.3L360.4 605.5L362.2 605.9L363.7 606.1L364.8 605.6L366.5 605.9L368.0 606.0L369.3 605.4L371.5 604.6L372.0 605.5L374.3 605.6L375.8 605.5L376.8 604.9L378.7 604.2L379.5 604.4L381.9 604.9L382.5 604.2L384.3 604.4L386.1 604.3L387.1 604.7L389.4 603.6L390.4 604.5L392.1 604.1L393.3 604.5L394.6 604.2L397.1 603.3L398.5 603.9L399.2 603.5L401.5 603.2L402.3 602.0L403.3 603.1L405.4 603.5L407.3 604.1L408.7 604.4L410.3 603.6L411.2 603.1L413.3 603.3L414.3 602.8L415.5 602.9L417.1 603.1L419.1 602.9L420.7 602.8L422.3 602.5L422.8 603.0L424.7 602.8L426.7 602.5L428.0 602.4L429.5 602.2L430.9 602.2L432.7 601.8L434.0 601.3L435.1 601.1L436.8 602.0L438.7 601.2L440.2 601.2L441.3 601.4L443.5 601.7L444.7 602.0" stroke="#c8c8c8" stroke-width="1.15"/>
<path d="M98.7 347.2L98.1 347.7L98.7 349.6L99.0 350.9L100.0 352.5L99.8 353.7L99.4 354.9L100.3 356.3L99.8 359.4L100.4 359.8L100.3 360.7L100.8 363.3L100.6 364.0L101.8 365.6L101.7 368.3L101.4 368.6L101.7 369.1L102.8 371.9L102.5 373.3L102.6 373.9L102.9 375.7L103.0 378.0L103.3 378.5L103.9 380.7L104.7 382.1L103.7 383.0L104.8 384.6L104.9 387.3L104.4 387.2L105.1 389.4L105.7 390.1L105.8 392.2L105.1 393.7L106.2 396.2L105.9 397.1L105.9 398.8L106.6 400.5L106.3 400.7L106.4 403.6L107.1 403.4L107.2 406.1L107.9 407.4L107.4 408.6L107.4 409.4L108.6 412.1L108.5 412.3L108.4 414.4L109.6 415.8L108.7 417.0L109.1 418.8L109.6 421.5L109.7 421.0L110.6 423.1L110.1 424.7L110.8 426.5L111.0 427.8L111.1 428.9L110.9 430.6L111.4 431.6L111.3 434.5L112.4 436.1L112.7 437.3L113.1 438.6L112.5 439.7L113.0 441.5L113.0 442.6L113.3 443.9L114.3 446.0L112.9 447.7L113.5 448.6L114.1 450.7L114.2 451.9L114.4 454.3L114.6 454.3L114.3 456.2L114.8 457.8L115.4 458.6L115.4 460.3L115.3 461.7L115.7 463.3L115.7 464.9L115.7 467.2L116.6 467.9L116.7 469.1L116.9 470.3L117.1 472.6L117.2 474.4L117.3 475.6L118.0 477.2L118.1 479.3L118.6 480.2L118.3 481.4L118.6 483.9L119.2 484.0L119.7 486.4L119.4 487.4L120.8 488.8L120.3 491.8L120.4 491.2L120.3 493.3L121.2 494.3L120.4 496.4L121.4 497.4L121.4 499.7L121.9 500.0L121.8 501.9L121.9 503.3L123.2 505.4L123.4 507.0L123.3 508.2L122.8 509.8L124.0 511.1L124.1 511.9L124.1 513.1L124.3 515.3L124.5 517.4L124.7 518.5L125.4 519.7L125.8 521.5L125.7 523.4L126.0 524.6L125.9 525.3L126.6 528.3L126.3 528.1L126.8 530.0L127.4 532.1L127.5 533.4L127.9 534.3L127.9 536.3L128.4 538.2L128.7 539.0L128.4 540.2L129.3 542.2L130.0 543.2L129.9 544.9L129.1 545.9L130.2 547.7L130.1 549.9L130.6 551.0L131.2 552.1L131.4 553.4L130.9 555.8L132.2 557.1L131.6 558.1L131.8 559.3L132.4 561.0L133.1 562.0L132.7 563.6L132.6 566.6L134.0 567.4L133.8 568.9L133.9 568.6L133.4 571.8L133.6 573.7L135.3 574.6L135.6 576.2L135.8 578.2L136.5 578.2L137.9 580.1L138.0 582.0L139.4 582.7L139.3 583.3L140.1 586.1L140.6 586.1L141.1 587.1L142.2 588.9L143.8 589.0L145.0 591.7L146.3 591.6L147.5 592.6L148.1 592.9L149.2 594.1L151.4 594.1L151.7 596.2L153.5 597.3L155.5 596.0L157.1 597.7L157.5 597.5L160.2 597.2L161.3 598.4L163.4 599.1L163.9 597.8L165.4 598.5L167.1 598.0L168.2 598.5L169.8 597.2L171.5 597.2L172.8 597.2L173.8 596.1L175.9 595.1L176.9 595.0L178.4 594.0L179.1 593.0L181.0 592.7L182.3 592.0L183.1 592.1L184.8 592.1L187.8 591.2L188.3 590.1L189.1 589.7L191.4 589.5L191.8 589.5L193.6 589.1L195.3 587.9L196.6 588.3L198.0 588.2L199.3 587.9L200.6 586.3L202.8 587.3L203.9 586.7L205.2 585.5L207.0 586.7L208.4 584.6L209.0 585.1L211.7 584.8L213.0 584.4L214.9 584.9L215.4 584.3L217.9 584.6L218.0 584.5L220.2 583.5L222.0 585.7L223.1 584.9L224.7 585.4L226.2 586.3L227.0 586.3L229.8 586.9L230.6 587.6L231.6 587.2L234.2 588.4L234.4 589.3L236.0 588.9L237.4 589.1L238.7 590.6L240.5 590.4L242.5 591.3L243.3 590.5L244.7 592.1L246.0 592.7L247.8 591.2L249.2 592.7L250.6 592.3L252.7 591.9L254.3 592.9L255.7 591.3L257.0 592.5L258.7 593.0L260.0 591.9L260.5 591.1L263.3 590.8L264.2 590.2L265.6 590.0L267.4 590.2L268.8 589.2L270.0 590.1L270.3 589.1L273.0 589.5L274.8 589.2L276.2 589.0L277.4 588.3L278.5 588.1L280.4 588.9L281.5 588.1L283.4 588.0L285.4 588.0L286.1 588.2L288.3 588.6L289.7 588.1L291.2 588.9L291.8 589.7L293.2 590.2L295.8 590.2L296.2 591.5L298.3 591.9L298.6 591.6L301.5 592.1L302.0 593.1L303.7 593.5L303.9 594.5L305.9 595.3L308.2 594.9L309.1 596.9L311.2 597.1L311.7 597.4L312.9 598.5L314.8 599.0L315.0 598.6L317.2 599.2L318.4 600.2L319.9 601.4L321.5 600.7L322.8 601.7L324.7 601.4L324.7 602.2L327.1 602.8L328.5 603.3L329.8 603.7L331.6 604.4L333.1 604.6L334.5 604.6L335.8 604.3L337.7 605.3L339.7 605.8L341.3 606.7L342.1 605.5L343.4 606.6L345.0 606.8L346.4 606.4L348.4 606.7L349.7 606.5L351.3 606.4L352.9 606.1L355.2 606.5L355.2 605.5L356.7 606.4L358.3 606.7L359.9 605.5L361.4 605.7L362.9 605.3L364.4 604.8L366.0 605.5L367.4 605.1L369.0 605.5L369.8 605.8L371.9 605.4L374.1 604.5L374.6 604.5L376.5 604.4L377.6 605.6L379.4 604.9L381.4 605.3L381.9 604.6L384.3 604.9L385.2 604.0L387.0 604.1L388.3 603.7L389.9 603.7L391.5 603.5L392.5 603.5L394.3 604.1L395.8 602.5L398.3 604.0L399.2 603.6L400.4 604.1L401.4 603.6L403.7 604.3L404.9 603.8L406.6 602.5L407.5 603.5L408.9 602.7L411.6 602.3L412.6 603.7L414.5 603.0L415.1 603.5L417.1 602.5L418.0 601.3L420.1 602.1L420.7 602.7L423.0 601.9L424.2 602.4L426.1 601.6L427.8 601.9L428.5 601.9L430.4 602.5L432.2 600.7L432.9 602.2L435.0 601.2L436.2 602.4L436.9 602.2L439.8 601.2L440.8 601.6L442.4 601.6L443.9 601.0" stroke="#c8c8c8" stroke-width="1.15"/>
<path d="M99.5 347.0L99.2 347.1L100.5 350.0L100.1 350.1L100.5 353.6L100.2 353.7L100.2 355.6L100.7 356.1L100.6 358.8L100.6 360.0L101.7 361.7L100.8 363.1L101.4 363.3L102.2 364.9L102.2 367.8L102.8 368.6L103.2 370.2L103.5 372.2L103.0 373.9L103.6 374.6L104.0 375.9L104.0 377.8L104.2 379.2L105.0 380.2L104.8 382.2L105.1 383.8L105.3 384.8L105.4 386.6L106.2 387.1L105.7 389.2L105.8 390.7L106.8 392.9L106.3 393.1L106.9 395.6L106.5 396.9L107.3 398.7L107.1 400.1L107.5 401.7L107.8 403.1L107.9 404.1L108.2 406.2L108.2 407.4L109.5 408.4L108.3 409.7L108.9 411.7L108.3 412.2L109.7 414.0L109.9 416.8L108.7 417.9L110.1 418.9L110.5 420.6L110.8 423.0L110.9 423.0L111.6 425.6L111.8 426.7L111.8 429.0L111.7 429.2L112.5 430.8L112.6 432.2L112.2 434.1L112.7 435.1L113.5 436.7L113.3 438.0L113.0 439.6L113.5 441.5L113.7 442.9L114.2 444.8L113.8 445.9L114.4 447.7L114.6 448.7L114.4 450.3L114.9 451.3L114.5 453.1L115.1 454.5L115.1 455.9L115.7 456.8L115.6 458.9L115.8 460.8L114.8 462.8L116.5 464.5L116.7 465.6L116.8 467.5L116.3 468.1L116.6 470.1L117.3 471.9L117.5 472.5L117.6 473.7L117.1 475.6L118.0 476.8L118.0 478.6L118.2 480.2L118.8 481.3L118.5 483.1L119.7 484.4L119.4 486.2L120.2 487.2L121.3 489.5L121.0 490.6L120.8 491.4L120.8 493.4L121.5 494.6L121.1 496.9L121.8 498.2L122.0 498.9L122.2 499.5L122.9 502.5L123.2 503.6L123.8 505.8L122.5 505.8L123.6 507.4L123.7 509.5L123.9 511.8L124.5 512.9L124.6 515.5L125.3 515.2L125.2 516.6L125.2 518.4L125.0 519.0L125.3 521.7L124.9 523.2L125.4 524.0L126.3 526.2L126.8 526.8L126.8 528.9L127.7 530.4L127.5 531.6L128.4 532.8L127.9 534.9L128.8 535.3L128.9 538.2L128.9 538.2L128.8 540.6L129.4 541.5L129.4 543.9L129.6 544.9L129.9 545.8L130.1 547.9L130.8 549.1L130.3 550.7L130.7 552.7L131.1 553.2L131.8 555.4L131.9 557.1L132.5 557.9L132.5 559.9L132.5 561.3L132.5 562.9L133.0 564.6L133.8 565.3L134.2 567.8L133.3 568.7L134.0 570.8L133.9 572.5L134.3 572.9L134.9 573.9L135.2 575.7L136.0 577.1L136.3 577.5L137.2 581.1L138.7 582.0L138.6 583.0L139.3 583.8L140.4 585.8L141.0 586.2L142.1 587.0L143.4 589.4L144.6 590.3L145.1 590.8L146.2 591.9L148.7 592.0L149.4 593.8L150.1 594.8L151.7 594.2L153.5 595.3L155.1 595.1L156.0 594.5L157.5 596.6L158.8 596.6L160.9 596.5L161.9 596.2L163.6 595.6L165.7 595.7L166.3 595.6L167.9 595.6L169.9 595.0L171.4 594.2L172.5 594.2L173.6 593.6L174.5 593.3L176.6 592.0L177.5 591.7L178.6 591.1L180.8 591.4L181.8 590.3L183.5 588.4L184.2 588.5L186.6 589.1L187.5 588.3L189.1 586.5L190.9 588.1L191.1 586.6L193.4 586.7L195.3 587.0L196.2 586.5L197.6 585.7L199.4 585.9L200.6 586.3L202.4 585.1L204.1 584.6L205.4 583.4L206.0 584.2L208.0 584.0L209.4 584.3L211.7 583.5L213.1 583.8L213.7 582.9L215.7 584.0L216.8 582.4L219.1 584.1L220.1 584.2L222.5 583.4L223.0 583.9L225.0 583.9L226.0 585.3L227.9 585.6L228.6 585.6L230.2 586.3L232.1 586.6L233.3 586.7L234.9 586.9L236.4 586.9L237.2 586.9L239.1 588.5L240.8 587.4L242.3 588.6L243.5 588.8L245.3 589.5L247.1 589.9L248.3 588.7L250.1 588.3L251.4 588.4L252.4 589.4L253.8 589.2L255.8 588.4L257.4 588.6L258.6 587.8L260.4 587.7L261.5 587.8L262.9 587.4L264.5 587.0L265.9 587.1L267.1 585.9L268.3 584.6L270.5 585.6L272.3 584.4L272.9 584.5L275.4 584.9L276.0 584.2L277.7 583.4L279.2 583.3L280.6 584.0L282.2 583.2L283.4 584.0L284.8 583.1L286.4 583.7L287.9 584.3L289.3 584.6L291.2 585.5L292.6 585.8L293.5 586.5L294.4 586.3L296.7 587.3L297.5 587.6L299.3 588.1L301.0 589.4L301.1 589.7L302.8 590.9L304.7 591.1L305.6 592.2L306.9 593.4L308.2 593.6L309.0 594.3L310.9 595.0L312.9 595.4L312.8 595.1L315.2 596.3L316.1 597.8L317.9 598.4L319.7 598.3L320.8 598.5L322.3 599.6L324.1 600.6L324.8 600.4L326.2 601.2L328.0 602.2L328.7 601.7L330.7 602.1L331.9 602.3L333.3 603.4L334.7 603.7L336.5 604.9L338.0 604.7L339.1 604.8L340.4 605.3L342.1 605.6L343.7 606.3L344.9 605.9L346.8 606.3L347.8 605.7L349.9 605.8L351.3 605.9L353.3 605.9L354.8 606.7L356.2 606.9L357.3 606.1L359.6 605.9L360.2 605.4L361.6 606.2L362.9 605.9L364.5 605.5L366.4 606.0L367.3 604.6L369.3 604.8L370.4 604.8L372.5 606.2L373.4 606.0L375.2 604.7L377.0 605.7L378.0 604.5L380.3 605.0L380.0 604.3L382.3 604.0L384.1 603.9L385.4 605.1L386.4 604.0L388.8 603.1L389.6 603.2L391.9 603.1L393.2 602.9L394.0 603.6L396.3 602.7L397.1 603.3L398.6 602.6L400.1 603.2L401.0 603.8L404.1 603.5L404.9 602.5L406.7 602.2L408.8 602.4L410.0 603.0L410.8 602.4L412.2 602.5L414.2 602.4L415.4 602.3L417.5 602.7L418.7 601.8L419.8 602.3L421.3 601.7L423.5 602.0L424.6 601.6L426.1 602.2L427.6 601.0L428.8 601.9L430.6 602.1L431.8 601.5L433.8 601.4L435.3 600.5L436.1 601.8L438.3 601.6L439.8 601.6L440.5 601.9L442.8 600.5L442.9 601.2" stroke="#c8c8c8" stroke-width="1.15"/>
<path d="M101.1 345.4L100.8 348.4L100.2 348.9L100.7 350.5L101.4 352.4L100.9 354.0L101.8 355.1L101.2 357.2L102.4 359.0L102.2 359.7L102.5 361.5L102.6 362.7L103.1 364.7L102.4 366.1L102.8 367.3L103.4 368.9L103.5 370.0L103.8 371.4L103.7 373.4L104.3 374.7L104.8 376.3L105.3 376.9L105.2 379.1L105.2 380.2L105.9 382.6L106.1 383.8L106.3 385.9L106.4 386.9L107.9 388.1L106.7 388.7L106.3 392.0L107.1 392.0L107.1 393.3L107.5 395.1L107.9 397.6L108.1 398.4L108.1 400.5L107.7 400.9L108.2 402.2L108.8 404.1L108.5 406.1L109.0 407.5L109.2 408.5L109.0 410.5L109.3 412.2L110.0 413.2L109.8 415.5L110.2 416.5L110.3 418.3L110.9 419.7L111.3 420.6L110.9 422.2L111.2 423.4L112.3 425.6L112.0 426.9L112.5 428.2L112.3 429.6L112.8 432.1L112.3 432.6L112.8 435.2L113.0 436.1L113.7 437.3L114.1 438.7L113.7 440.9L113.6 440.6L113.9 443.3L114.1 444.5L115.0 446.3L114.9 448.0L115.0 449.5L115.2 451.2L115.7 452.0L115.9 453.9L116.0 455.1L115.3 456.2L116.3 458.5L115.5 458.9L115.5 460.2L116.7 462.1L116.9 464.6L116.2 465.4L117.2 467.1L117.7 468.9L117.7 469.4L118.1 472.4L117.5 472.7L118.3 474.1L118.4 475.9L119.0 477.1L118.8 479.7L119.5 480.0L118.8 481.7L119.7 483.0L119.2 484.0L119.8 486.1L120.4 488.1L120.2 488.6L120.1 490.0L120.9 491.8L121.2 493.6L121.3 494.2L121.8 496.6L121.7 499.5L121.2 498.6L122.3 500.6L122.4 502.4L123.4 504.1L123.3 506.1L122.9 506.7L123.8 508.1L123.9 509.6L124.0 510.6L124.1 512.5L124.9 514.4L125.3 514.4L124.9 516.5L125.5 518.6L125.6 520.5L125.8 521.6L126.5 523.2L126.4 525.2L127.0 526.4L127.1 527.5L126.9 527.9L127.1 529.6L127.7 531.1L127.8 532.9L128.2 534.7L129.0 536.8L129.4 537.8L128.3 539.8L130.0 540.5L130.0 542.1L129.8 543.6L129.7 545.0L129.5 546.7L130.5 548.5L130.7 549.8L131.9 551.6L131.2 552.7L131.5 554.7L131.5 556.1L132.1 555.7L132.4 558.2L132.1 560.0L132.8 562.7L132.9 562.5L133.0 564.7L132.9 565.8L132.9 566.8L133.6 569.2L133.7 569.9L134.4 571.3L134.6 572.8L135.9 574.5L136.3 576.2L137.0 577.0L136.9 577.7L138.0 580.6L138.0 582.6L140.1 583.6L140.3 584.2L140.2 584.6L141.9 585.7L142.3 588.6L143.6 588.2L144.2 590.4L145.4 590.4L146.5 591.4L148.2 592.5L149.5 592.3L150.3 593.7L153.2 593.3L154.2 594.1L156.1 593.4L156.7 595.6L159.1 594.9L160.1 595.1L161.9 595.1L162.7 594.6L164.7 594.4L165.5 593.7L166.9 593.0L168.8 592.8L170.3 592.4L171.4 590.6L172.8 590.4L173.4 589.7L175.6 589.8L176.8 588.0L178.1 587.7L180.1 586.9L181.3 586.9L182.6 586.2L184.1 586.2L185.3 585.4L186.6 584.7L188.5 585.3L190.4 584.4L191.9 585.2L192.6 585.0L193.7 583.9L196.2 583.3L197.2 584.9L198.7 584.7L200.1 583.5L202.2 584.1L203.1 584.2L204.2 583.8L206.0 583.3L207.7 583.1L209.4 583.5L211.2 582.7L212.2 582.1L214.3 582.9L214.9 582.5L217.2 582.0L218.2 582.4L219.5 582.5L220.3 583.1L222.4 582.8L223.5 584.1L225.8 582.2L226.8 583.3L228.1 583.1L229.4 583.7L231.5 584.5L233.4 584.6L233.5 585.0L236.3 584.7L237.4 585.8L238.4 585.7L239.9 586.7L242.0 586.2L243.6 586.5L244.4 585.5L245.7 585.5L248.1 586.5L249.9 585.1L250.7 586.2L252.9 585.2L253.5 584.9L255.3 585.2L257.0 584.3L258.7 583.7L259.8 584.6L261.5 583.8L262.3 583.1L263.6 582.4L265.0 582.9L266.3 581.6L268.8 581.7L270.4 582.0L271.4 581.4L272.2 580.6L274.8 580.4L275.7 581.2L277.4 578.9L279.0 578.1L280.2 579.4L281.3 578.7L282.9 580.5L284.1 578.9L285.9 579.4L288.1 580.2L288.8 580.9L290.3 581.0L291.5 581.6L292.9 582.1L294.3 583.6L295.1 583.9L297.3 584.3L298.3 585.7L299.4 586.1L301.1 586.6L302.3 587.7L304.1 587.5L305.2 588.5L305.7 589.7L307.4 589.5L309.3 591.0L310.1 592.2L311.4 592.8L312.6 593.6L313.6 594.8L315.2 595.1L316.2 595.3L317.9 595.6L319.7 596.7L320.4 597.3L321.9 598.4L323.5 598.4L324.2 599.3L326.0 599.6L327.9 600.0L328.4 601.5L330.0 601.5L331.2 601.6L332.7 601.9L334.7 603.4L336.5 603.7L337.0 604.7L338.4 605.1L339.9 604.1L341.4 605.2L343.2 605.4L344.6 606.0L345.7 605.5L347.2 605.4L349.0 606.6L350.3 606.1L351.5 606.7L353.9 605.3L355.8 607.1L356.3 606.3L358.0 606.4L359.3 606.3L361.2 607.2L362.4 605.6L364.3 605.8L365.5 605.7L366.8 605.3L368.2 605.0L369.8 606.1L371.4 604.7L372.5 605.6L374.2 605.0L375.2 603.8L377.5 603.8L379.0 604.9L380.1 604.2L381.7 603.9L383.2 603.9L384.8 604.0L386.6 604.1L387.9 603.4L389.5 604.0L390.9 603.4L393.2 602.4L394.1 603.4L395.9 604.1L397.1 602.9L398.6 602.5L399.9 602.6L401.5 602.0L402.7 602.9L404.2 602.5L405.5 602.5L407.9 602.2L408.3 602.0L410.2 602.7L411.7 602.7L413.8 601.8L414.9 602.0L416.7 602.5L418.0 601.5L419.2 601.9L420.8 601.5L422.4 602.0L423.9 601.3L425.1 601.1L426.5 601.8L428.2 601.4L430.2 601.1L431.3 600.6L433.1 601.2L434.6 601.6L435.8 601.4L436.7 600.8L438.0 601.4L440.5 601.6L442.3 601.6L443.2 600.0L444.1 601.7" stroke="#c8c8c8" stroke-width="1.15"/>
<path d="M102.0 346.1L101.6 347.6L102.0 348.8L101.9 351.1L101.8 353.0L102.8 353.9L102.4 355.5L102.9 357.3L102.7 358.3L102.6 359.7L103.1 362.1L103.6 361.8L103.4 364.9L104.3 364.9L104.0 368.0L104.1 368.5L104.7 369.7L105.3 371.7L105.3 372.8L105.8 374.4L105.4 376.0L105.4 377.3L107.1 378.7L106.0 380.5L106.7 382.2L106.9 382.7L106.8 383.9L107.4 386.7L107.7 387.2L106.7 389.5L107.3 390.4L107.6 391.7L107.4 394.1L108.4 395.8L108.6 396.9L108.8 398.2L108.8 399.8L108.1 401.5L109.8 403.6L109.3 404.5L109.6 406.7L110.4 406.9L109.6 408.6L109.9 411.0L109.6 411.2L110.0 412.9L111.0 414.2L111.3 417.0L111.2 418.3L111.3 419.4L111.5 421.2L112.0 422.5L112.4 424.2L111.9 425.3L112.2 426.4L112.7 428.4L112.9 429.5L113.7 431.3L112.5 432.8L113.4 434.4L114.1 436.4L113.8 437.4L114.1 438.2L113.8 440.1L115.1 441.4L115.2 443.0L115.2 444.4L115.3 445.5L115.5 448.4L115.8 448.7L114.8 450.5L115.3 451.9L116.3 452.3L115.9 454.8L116.5 456.6L117.0 458.1L116.8 458.4L116.7 460.7L116.8 462.9L116.5 462.6L117.9 465.3L117.2 467.5L117.9 468.4L117.9 470.2L117.6 471.4L119.0 473.1L118.5 475.3L118.7 476.6L119.0 477.1L119.2 478.9L118.8 481.2L119.8 482.8L119.5 483.0L119.5 484.6L120.5 487.2L120.3 487.5L121.1 489.4L120.7 490.4L121.0 492.7L121.3 493.4L122.2 494.7L122.4 495.8L122.0 498.7L122.7 499.0L122.3 500.1L123.1 502.3L123.3 503.8L124.6 506.0L123.1 507.0L123.5 508.4L124.1 509.9L124.3 510.2L124.9 511.8L124.6 513.9L125.3 515.1L125.4 517.2L126.5 518.3L126.1 520.5L126.1 521.7L126.9 522.8L125.6 524.4L127.1 526.3L127.4 528.1L127.5 528.7L127.3 529.9L128.3 531.7L127.9 534.2L127.9 535.4L128.3 536.2L128.7 538.1L129.0 539.8L129.2 541.8L129.5 541.4L129.5 543.3L130.2 544.6L130.8 546.3L130.4 548.8L130.0 550.8L130.8 550.2L132.0 552.6L130.9 554.5L132.5 556.5L132.3 556.6L132.1 559.0L132.7 559.9L133.3 560.9L133.6 562.5L133.0 564.5L133.7 566.6L133.0 567.0L133.6 568.9L133.9 569.9L135.1 572.3L134.9 573.8L135.2 574.0L135.1 576.5L136.3 577.6L136.6 579.1L137.7 581.1L138.9 581.4L139.9 583.4L140.6 584.1L141.2 584.6L142.2 586.2L142.9 587.4L143.9 588.8L144.5 589.7L146.8 590.4L148.2 592.1L149.2 592.2L150.7 591.3L152.4 591.6L153.5 593.7L154.7 592.2L156.3 593.2L158.3 592.8L159.2 593.4L160.9 593.5L162.1 593.5L164.0 592.4L164.6 591.7L166.5 591.7L167.9 589.8L168.6 590.0L170.0 589.7L171.9 587.9L172.8 588.2L174.4 586.9L175.0 586.2L176.7 584.3L178.4 584.8L179.4 585.9L180.9 583.5L183.0 583.8L184.4 583.3L186.4 582.8L186.5 582.5L188.7 582.9L191.1 582.7L191.6 582.4L192.9 583.0L194.3 583.2L195.9 582.1L197.8 581.5L199.3 582.3L201.3 582.6L201.3 582.3L203.3 581.5L204.9 582.9L206.6 581.7L208.6 582.6L209.6 581.6L211.3 581.5L212.6 580.8L214.0 580.9L215.3 581.0L217.2 580.9L218.6 581.7L220.5 580.8L221.0 582.7L223.1 582.5L224.7 582.6L226.4 581.9L227.4 582.1L228.8 582.5L230.6 582.9L232.3 582.3L233.7 583.1L235.5 584.1L236.4 582.4L238.1 583.6L239.2 583.9L241.0 584.1L242.0 583.8L244.0 583.5L245.9 583.1L246.9 583.6L247.9 583.2L249.7 581.3L252.0 583.0L252.9 581.2L253.5 581.5L256.3 580.1L257.1 581.3L258.9 580.0L260.9 579.1L261.7 579.8L262.4 578.6L264.2 579.8L265.8 577.9L267.0 578.8L269.5 576.6L269.8 577.0L271.7 576.5L272.7 575.0L274.5 575.1L277.0 575.4L277.5 575.2L278.6 574.9L279.9 574.7L282.1 574.6L282.2 575.0L284.5 575.5L286.3 575.4L287.9 575.6L289.1 576.4L290.6 577.7L291.4 577.7L292.7 579.6L294.0 579.3L295.5 579.7L297.1 580.8L298.6 581.2L299.6 583.7L301.1 583.3L302.4 583.5L303.4 585.2L304.7 586.1L306.0 586.4L306.7 587.1L308.3 587.6L309.3 589.0L310.6 591.4L311.6 591.6L313.6 591.3L314.3 592.8L315.3 593.2L316.9 594.2L318.1 595.4L319.8 595.5L321.1 595.3L321.7 596.2L323.7 598.3L324.8 597.6L326.0 598.9L327.2 599.0L329.3 600.7L330.5 600.7L331.6 601.6L332.0 602.1L334.6 602.4L335.8 603.3L337.1 604.0L338.4 604.4L340.5 604.1L342.0 605.2L343.2 606.0L344.7 605.2L346.3 606.5L347.4 606.0L348.9 606.0L350.2 606.7L352.4 605.7L353.4 606.2L355.3 606.9L356.6 606.9L358.3 606.6L359.7 606.7L360.8 605.5L362.8 606.4L364.6 605.7L365.0 605.8L367.5 605.2L368.4 605.1L369.3 605.8L371.3 605.9L372.8 604.1L374.0 604.3L375.6 604.6L377.3 605.4L378.0 603.9L380.4 604.7L381.9 604.1L383.6 603.9L384.8 604.1L385.8 603.8L387.5 603.8L389.3 604.1L391.1 603.5L392.0 603.6L393.0 603.6L395.7 603.2L397.1 602.3L398.1 602.4L400.1 603.0L401.9 602.2L402.5 602.8L404.1 602.2L406.1 602.4L407.1 602.9L408.8 601.5L410.2 602.2L411.5 602.6L413.4 602.3L415.2 601.8L416.2 601.9L417.7 602.5L419.0 601.0L421.0 601.5L421.8 601.9L424.1 601.1L424.8 601.8L427.1 601.7L428.2 601.7L430.5 601.5L431.6 601.7L433.0 601.0L434.5 601.4L435.9 601.2L437.2 600.8L438.2 601.2L440.5 600.2L442.0 600.2L443.5 601.5L444.4 600.1" stroke="#c8c8c8" stroke-width="1.15"/>
<path d="M102.6 345.8L102.6 348.8L102.4 350.3L103.0 351.5L103.0 352.9L102.3 353.8L103.0 355.4L103.2 356.3L103.7 358.5L103.7 360.3L103.8 361.8L104.5 362.4L104.7 364.1L104.8 365.6L105.5 367.5L104.2 368.2L105.0 370.0L106.0 371.7L105.4 372.1L106.3 374.5L106.9 376.4L106.9 378.3L107.1 379.4L107.0 380.7L108.1 381.5L107.1 383.3L108.2 385.0L107.7 386.8L108.1 388.0L107.8 388.5L108.7 390.7L109.0 393.5L109.2 393.3L109.1 395.1L109.3 397.4L109.2 398.7L109.6 400.2L110.0 401.4L110.3 403.5L109.7 404.3L110.2 404.9L110.0 408.0L110.8 408.9L110.9 410.8L110.5 412.6L111.0 413.1L111.0 414.9L111.3 416.2L111.4 418.3L112.5 418.9L111.7 420.1L112.8 421.6L112.3 423.6L113.5 425.2L113.0 427.0L112.6 427.6L113.9 430.2L114.0 431.3L113.8 432.5L114.9 433.6L114.9 435.5L113.9 437.3L114.4 438.7L115.1 441.2L114.9 440.5L115.5 443.3L115.4 444.1L115.8 446.3L115.6 447.9L115.9 448.9L115.6 450.1L116.5 452.6L116.8 453.4L116.4 454.5L116.3 456.3L117.2 458.5L117.1 459.7L116.7 460.8L117.5 462.4L117.6 463.3L118.2 465.2L117.5 466.9L116.5 468.2L118.9 469.6L118.7 470.5L118.0 472.0L119.3 473.4L119.1 475.4L119.4 476.8L119.1 479.0L118.9 479.2L120.6 481.8L120.3 483.2L120.4 484.7L120.7 485.6L119.7 487.3L121.6 488.8L120.5 491.4L121.9 491.8L122.0 493.9L121.5 495.7L122.5 496.8L122.9 497.1L122.7 500.3L123.5 500.3L123.4 502.2L123.6 503.6L124.2 506.5L124.4 507.5L124.3 508.3L125.0 510.3L124.8 511.1L124.5 513.3L125.5 514.4L125.5 515.1L125.4 516.8L126.2 518.7L126.2 519.9L126.5 520.9L127.4 523.2L127.1 524.9L126.9 526.9L127.5 527.6L128.1 528.7L128.2 531.5L128.0 532.3L127.9 533.7L128.8 534.3L129.6 537.6L128.4 538.2L129.2 539.4L129.8 541.0L129.8 542.6L129.9 544.1L130.1 545.9L131.4 546.9L130.7 549.1L130.3 549.8L130.8 551.1L131.1 552.7L132.3 553.9L131.9 556.4L132.5 557.6L132.4 558.5L132.5 560.0L132.4 560.5L132.9 563.3L133.1 565.2L134.0 566.2L133.6 567.9L133.8 569.0L134.0 570.3L134.9 571.8L135.2 573.5L135.5 575.1L135.1 576.1L136.6 578.5L137.3 580.4L138.3 580.5L138.0 581.6L139.2 583.1L140.3 583.6L141.3 585.3L141.8 585.9L143.2 587.4L143.4 588.6L145.5 588.5L147.2 589.8L148.5 589.8L149.6 590.9L151.5 590.7L151.7 591.4L154.1 592.2L155.3 591.8L156.6 591.7L158.6 591.6L160.2 591.3L162.3 591.7L163.1 590.2L164.1 590.6L165.8 588.9L166.7 589.1L168.2 587.1L170.0 586.8L170.1 585.2L172.1 584.7L173.1 585.2L175.4 584.5L176.1 583.1L176.8 581.8L178.7 581.9L180.5 581.8L181.8 581.4L183.2 581.5L184.1 581.6L186.3 579.9L187.7 581.4L188.8 580.7L190.5 581.2L192.1 580.2L193.7 580.8L195.1 580.3L196.0 580.6L197.4 580.2L199.6 581.1L201.4 579.7L202.9 579.5L204.1 580.6L205.9 580.6L207.5 580.1L208.5 580.8L209.8 580.0L211.6 579.5L213.0 579.7L215.1 580.8L216.3 581.2L217.6 580.0L219.2 580.3L220.4 580.4L221.6 579.8L223.7 579.7L225.5 580.7L226.3 581.2L228.1 581.6L229.4 580.6L231.2 580.5L232.9 581.4L232.7 581.3L235.6 580.8L236.9 581.3L237.7 581.6L240.0 581.1L241.3 581.4L243.4 581.4L244.3 580.8L245.7 581.1L247.5 580.0L249.3 580.2L249.9 579.5L251.7 578.9L253.3 578.0L254.2 577.1L255.9 577.1L256.5 576.7L258.8 576.3L259.9 576.1L261.3 574.5L263.5 574.0L264.4 575.1L265.6 574.4L267.1 573.2L267.9 573.2L269.8 572.8L271.1 572.1L273.0 572.3L274.7 570.7L276.2 570.8L277.0 570.3L279.2 569.5L280.1 569.6L281.8 570.0L282.8 570.2L284.6 570.4L286.1 571.7L287.5 571.7L289.1 572.3L290.0 572.8L291.1 573.5L292.7 573.5L293.7 575.6L295.6 577.0L295.8 576.8L297.6 577.2L298.6 579.0L300.0 578.8L301.6 580.2L302.5 580.7L303.6 582.9L305.2 583.9L306.2 583.9L306.6 586.0L307.8 585.8L309.7 587.3L311.1 587.9L312.3 590.5L312.8 589.9L314.1 590.7L315.4 591.9L317.2 592.5L318.5 592.6L319.6 593.6L321.2 594.8L321.3 595.3L322.9 595.9L325.1 597.7L326.2 597.7L327.6 598.0L328.0 599.3L330.1 599.6L331.5 600.5L332.7 601.5L334.0 602.2L335.2 602.1L336.3 602.5L337.1 602.9L339.4 604.5L340.6 604.3L342.3 604.9L343.1 605.0L346.1 606.1L346.5 606.0L348.6 606.0L350.0 606.3L350.9 606.4L352.3 606.4L354.4 606.1L355.9 606.5L357.3 606.1L358.4 606.3L360.3 606.6L361.0 606.1L363.1 605.6L364.2 606.8L366.5 605.5L367.9 604.6L369.1 605.3L370.7 604.4L372.0 605.8L374.1 605.0L375.4 606.0L376.9 604.3L377.5 604.5L379.6 603.3L381.0 604.1L382.5 602.9L383.6 603.2L386.1 603.6L386.7 603.9L387.9 603.2L390.3 602.8L391.2 602.3L392.7 603.4L394.7 603.4L395.8 604.1L396.9 602.2L398.2 602.8L400.6 603.5L401.8 602.2L402.2 601.2L405.0 601.8L406.7 601.6L408.1 602.1L408.8 602.3L411.5 601.9L412.8 602.1L413.9 602.0L416.2 601.1L417.2 601.3L418.5 601.3L419.9 601.4L421.3 601.5L422.2 601.6L424.3 600.8L426.4 601.4L427.8 601.3L429.1 600.4L430.7 601.0L432.2 600.7L433.4 600.3L435.5 600.2L436.7 600.3L437.5 600.3L438.9 600.2L441.0 599.8L442.3 600.3L443.5 599.6" stroke="#c8c8c8" stroke-width="1.15"/>
<path d="M96.1 345.4L96.1 346.9L96.1 347.1L96.5 349.1L95.8 351.5L96.6 350.6L97.0 353.8L96.7 355.0L97.4 357.2L97.7 359.0L97.3 360.7L99.1 361.3L98.3 363.1L98.9 363.5L99.1 365.4L98.8 367.4L99.4 368.5L99.6 370.8L99.8 372.4L99.8 371.9L100.2 374.5L100.5 375.1L100.1 377.2L101.0 378.8L101.8 380.7L101.6 381.8L101.0 383.6L101.8 385.1L103.1 386.4L103.4 387.5L102.4 388.7L103.0 389.6L103.3 392.5L103.8 394.0L104.0 395.6L104.0 396.9L103.9 398.1L105.1 399.0L105.2 401.6L104.2 401.7L104.9 404.3L105.2 406.0L105.5 406.3L106.1 409.0L106.0 409.9L105.7 412.0L107.4 413.1L106.2 413.7L107.0 415.2L107.0 416.7L107.6 418.2L108.2 421.3L108.8 421.0L108.9 423.6L108.8 425.2L109.1 426.6L109.1 427.8L109.0 429.9L109.5 430.6L110.2 432.5L109.9 433.7L109.3 434.5L110.3 436.8L110.9 437.4L110.7 439.8L111.6 440.7L111.0 441.8L111.6 444.3L112.3 445.4L112.5 447.1L112.4 447.8L113.3 449.9L113.3 451.9L112.8 452.6L113.5 454.1L113.0 455.5L113.2 457.0L114.5 459.0L114.6 460.7L114.2 461.7L114.0 463.5L114.8 464.9L114.9 466.6L115.0 467.1L115.2 468.2L115.8 471.7L115.8 472.8L117.2 473.6L116.8 475.6L117.5 476.9L116.7 477.8L116.9 479.5L117.9 481.5L117.6 482.9L117.4 484.0L119.1 485.5L118.5 487.7L119.7 488.5L118.3 490.4L120.5 490.9L121.0 492.4L120.7 495.0L120.8 495.4L121.1 496.5L121.0 498.8L121.3 499.6L121.2 500.7L122.6 503.4L121.7 504.9L122.3 507.1L122.3 508.4L122.2 509.1L123.3 510.5L123.8 512.2L123.3 513.3L124.5 515.1L124.0 515.6L123.7 517.5L124.9 520.2L124.6 522.2L125.3 522.5L125.5 523.4L126.2 525.5L126.3 525.9L125.6 528.8L127.2 529.7L126.6 531.3L126.8 532.1L126.7 535.1L127.3 536.2L127.1 537.6L128.7 538.5L128.8 540.4L129.7 541.5L128.7 542.5L129.1 545.1L129.0 546.9L129.4 547.7L130.6 548.7L130.3 550.4L130.1 552.3L129.7 552.9L130.9 555.1L130.9 555.6L132.3 558.3L132.1 559.5L132.6 561.1L131.7 562.3L133.0 562.8L132.5 565.3L133.0 566.4L133.4 568.5L134.5 569.2L133.9 570.5L134.8 572.9L135.0 574.3L136.0 575.3L135.8 577.2L135.7 577.4L137.2 579.8L137.8 581.0L138.0 582.3L138.9 583.5L139.3 585.8L140.7 586.3L141.8 587.3L142.3 589.5L142.6 591.1L143.1 591.3L144.3 593.3L145.8 593.1L146.7 594.1L148.4 595.1L148.7 596.7L150.0 597.5L151.6 597.9L152.0 597.8L154.1 599.6L155.5 600.7L156.6 601.1L158.3 600.2L158.5 602.9L160.6 602.8L161.8 604.4L163.6 604.5L164.0 605.6L165.9 605.8L167.9 604.8L168.5 605.1L170.1 606.4L172.6 605.9L173.4 604.9L175.6 604.8L175.8 604.1L177.8 603.2L178.7 601.8L180.4 601.5L181.8 601.4L183.0 600.2L184.4 599.2L185.6 600.1L187.9 597.9L188.4 597.8L189.3 597.5L190.2 596.7L191.7 596.5L193.6 596.4L195.4 594.4L195.5 592.2L197.6 592.8L199.4 591.9L200.3 591.5L201.9 591.6L202.4 590.9L205.1 590.7L206.6 589.5L206.6 589.0L208.3 590.1L210.4 589.3L212.5 588.6L212.3 586.8L215.1 588.5L215.7 588.2L218.0 588.0L218.6 588.8L220.2 588.6L221.5 588.2L224.0 588.5L224.2 589.6L226.3 589.6L227.9 591.2L229.2 592.5L230.1 593.0L231.7 592.1L232.4 592.7L233.4 594.5L234.9 594.8L237.0 595.6L238.7 595.7L239.2 597.7L241.5 597.7L241.9 597.9L244.1 600.0L244.8 599.4L246.1 600.7L247.9 601.0L249.0 602.0L250.9 602.4L251.9 602.0L253.7 603.1L255.5 604.0L255.8 602.6L258.4 603.7L259.1 604.4L260.9 604.0L262.6 603.7L263.8 603.4L265.4 603.1L267.5 603.4L268.2 603.5L269.9 603.2L271.5 601.8L273.3 603.0L274.1 603.7L275.1 602.7L277.1 601.9L279.1 602.4L280.6 600.8L282.2 601.1L283.1 601.4L284.0 601.7L286.1 600.3L287.4 600.1L288.6 601.0L290.9 601.6L293.3 601.5L292.5 601.5L295.3 601.6L297.1 601.4L298.6 601.9L300.7 601.2L300.7 601.6L303.8 600.7L304.0 601.5L305.5 602.6L306.6 603.3L309.5 602.5L310.5 602.5L311.0 603.8L313.4 602.9L314.8 604.7L315.7 603.2L317.5 605.1L318.9 605.1L320.1 605.2L321.7 605.5L323.6 605.6L324.7 605.0L325.3 605.8L327.7 606.1L329.2 606.3L330.5 606.2L332.1 607.1L333.6 605.7L334.8 606.2L336.7 607.4L336.9 606.4L339.4 608.2L340.8 607.2L343.4 606.5L344.1 606.8L345.8 606.3L347.2 606.4L348.3 607.5L349.5 607.1L351.6 606.4L352.9 606.5L355.0 605.7L356.4 605.0L357.3 605.3L359.0 606.4L360.3 606.1L362.1 606.6L362.8 604.7L365.0 604.5L366.7 605.7L367.7 605.0L369.7 605.7L371.0 605.7L372.3 605.4L374.6 605.8L375.1 604.6L376.7 605.1L378.8 604.2L379.5 604.9L380.5 605.3L383.1 604.1L385.1 604.5L385.8 605.8L387.6 604.4L389.3 604.2L390.9 603.9L392.5 604.3L393.7 604.7L394.5 604.0L396.9 604.5L398.0 603.5L400.0 602.7L401.6 602.7L402.1 604.2L404.1 603.1L406.2 603.7L406.8 603.8L408.8 603.3L410.4 603.7L410.9 603.4L413.2 603.5L414.2 603.8L415.4 602.9L417.4 603.1L419.0 603.1L420.8 604.1L421.9 603.3L423.5 602.8L424.7 602.5L427.2 602.7L428.2 602.0L429.8 603.0L431.3 603.2L432.6 602.2L434.3 602.8L436.4 602.2L437.2 603.2L438.5 603.7L441.1 602.4L441.9 602.8L442.8 601.7L444.7 602.7" stroke="#ec1c24" stroke-width="2.00"/>
<path d="M103.1 345.6L103.0 348.0L103.6 348.7L103.9 350.1L103.7 350.5L103.1 351.5L103.5 352.8L103.9 354.8L103.9 356.4L104.8 358.0L104.2 360.8L104.7 362.2L104.8 362.7L105.4 363.5L106.3 366.8L105.6 367.9L106.2 368.4L107.2 369.6L106.6 372.3L106.8 373.4L106.6 374.5L107.5 375.3L107.2 377.2L107.7 379.2L107.9 379.6L108.3 382.8L108.5 383.3L108.6 385.4L108.1 387.5L108.8 389.1L108.8 388.9L109.4 391.6L109.7 392.6L109.8 394.1L110.3 395.4L110.3 396.6L110.0 398.0L110.1 399.6L109.7 402.0L110.8 403.3L111.8 403.2L111.1 406.0L111.6 407.0L111.0 408.2L111.8 411.5L111.3 412.0L112.0 413.0L111.1 415.4L111.4 417.0L111.8 418.4L113.3 419.0L112.3 420.7L113.1 421.5L113.1 424.3L113.8 425.9L113.0 426.2L113.9 428.1L114.5 428.9L115.1 431.8L114.9 432.4L114.0 433.3L115.4 435.5L116.0 437.3L114.7 439.3L115.4 440.1L116.0 440.7L115.3 443.9L115.3 443.8L115.5 445.3L116.1 447.2L115.9 448.7L116.7 449.2L116.5 451.9L116.0 454.2L117.0 454.9L117.3 456.7L117.1 457.8L116.8 459.7L117.6 460.3L117.9 463.3L117.2 465.0L118.5 466.0L118.1 468.0L118.2 468.8L118.2 469.2L119.0 472.2L118.2 472.9L118.7 473.8L119.1 476.5L120.2 477.6L119.7 479.3L119.5 480.4L119.9 482.0L119.5 483.6L120.5 484.9L120.9 487.1L120.9 486.8L121.8 489.7L121.3 491.3L122.3 491.5L121.5 492.9L123.0 494.1L122.0 496.8L123.2 498.8L123.1 500.0L123.7 501.4L123.3 502.7L123.9 504.4L124.0 505.0L124.2 507.4L123.9 508.0L124.8 510.4L124.8 511.3L125.2 512.7L125.1 513.3L125.5 516.9L125.5 517.0L126.4 519.3L127.5 520.0L126.9 521.2L126.5 522.9L127.1 525.0L127.5 525.7L127.6 527.0L127.6 528.5L128.0 530.9L129.4 531.7L128.9 533.8L128.7 534.7L128.5 536.7L129.0 538.0L130.0 538.6L130.5 540.6L130.3 542.8L130.1 544.3L131.1 545.5L131.2 548.1L131.0 548.0L131.0 550.2L131.9 550.3L131.6 552.5L132.7 553.8L132.4 555.9L132.8 558.4L132.5 558.0L133.4 559.9L133.1 562.2L132.5 562.9L133.5 564.4L134.5 565.5L134.2 567.4L134.1 568.8L134.6 571.3L135.0 572.1L134.0 573.7L134.6 575.6L135.5 575.3L135.8 577.8L136.8 579.2L137.3 580.9L139.4 581.8L139.0 582.3L140.0 584.9L141.0 584.5L143.6 587.4L144.2 587.1L145.1 587.7L145.8 589.3L146.9 589.4L148.3 590.2L150.2 590.0L152.0 589.6L153.1 589.7L153.7 590.3L156.8 590.8L157.9 590.5L158.9 589.6L159.9 589.1L162.5 588.1L163.6 589.8L165.3 587.7L166.7 587.1L166.9 587.5L168.8 585.3L170.0 583.2L170.6 583.3L171.8 582.1L173.0 581.0L175.1 580.3L176.6 580.3L176.5 578.8L178.3 579.7L180.0 579.0L182.2 578.3L182.7 578.1L185.0 577.9L186.4 577.5L186.9 577.7L189.2 577.1L190.7 577.8L191.3 578.5L194.2 577.6L196.2 578.6L196.1 578.9L197.1 578.9L199.5 577.4L200.0 578.2L202.3 579.1L203.8 578.4L205.7 579.2L207.0 578.7L207.9 578.9L210.7 579.3L212.0 578.1L213.1 578.2L214.7 579.2L216.2 579.7L217.3 579.7L219.1 578.6L220.3 579.4L221.7 579.4L223.6 578.6L223.8 579.1L226.9 578.8L228.4 578.7L230.1 580.3L231.1 579.7L231.9 580.3L233.7 579.8L236.5 579.7L237.2 579.7L238.2 579.0L240.6 578.8L241.3 578.2L243.1 578.1L244.3 578.2L245.8 577.5L247.1 578.0L249.1 577.1L250.2 575.2L251.2 575.7L252.8 575.2L253.4 574.4L255.1 573.7L257.6 573.3L258.1 571.8L260.0 570.7L260.6 569.8L262.3 570.3L263.5 569.6L266.1 570.2L266.9 568.8L268.4 568.7L269.3 567.3L270.9 566.3L271.9 566.0L273.9 567.3L275.6 565.7L277.1 567.3L277.8 565.3L279.3 565.3L281.5 565.3L282.7 565.7L283.5 566.0L285.4 566.6L286.9 566.9L288.3 566.8L289.1 569.4L290.8 569.3L291.5 569.9L293.0 570.1L294.1 571.9L294.4 571.9L296.6 573.7L298.7 576.0L297.5 575.3L300.7 576.9L302.0 578.4L302.4 579.3L303.6 578.9L304.8 581.4L306.2 581.4L307.6 583.5L308.7 582.6L308.7 584.3L309.9 584.4L311.1 587.3L312.1 588.9L313.3 588.7L314.9 588.6L316.3 590.3L317.4 591.8L319.1 590.9L320.6 592.1L320.4 593.9L323.1 593.6L323.9 594.5L325.5 595.4L326.6 595.7L328.0 597.2L330.3 598.8L330.1 598.0L332.0 599.0L333.3 600.9L335.0 601.9L336.1 601.7L336.9 602.5L339.0 602.8L339.6 604.1L340.5 603.9L342.5 604.4L343.6 605.3L344.9 605.8L346.7 604.8L346.9 605.4L350.0 606.0L351.0 606.2L352.9 606.2L353.8 607.2L355.7 606.6L357.0 606.4L359.2 605.6L360.1 605.8L361.2 606.9L362.7 606.1L364.4 605.5L366.0 605.0L367.7 603.9L368.7 605.2L371.4 605.0L371.7 605.3L373.9 604.0L374.8 603.8L377.2 603.7L377.6 604.3L380.1 603.7L381.4 603.1L382.9 603.9L384.1 602.4L386.0 603.5L387.2 602.7L389.2 603.0L390.2 603.0L391.4 603.4L393.3 603.6L394.3 603.2L395.6 602.7L396.7 602.5L399.0 602.0L400.2 602.2L402.6 602.1L403.6 602.3L405.7 602.7L406.8 600.9L408.3 601.5L409.8 601.3L411.3 601.4L412.3 601.7L413.4 602.2L415.5 601.3L416.6 601.7L418.0 601.9L419.6 601.2L421.2 601.1L423.4 600.6L424.0 600.7L425.6 600.9L426.9 600.4L429.4 600.7L430.0 600.4L432.1 600.9L433.0 600.5L434.6 599.4L437.0 600.6L438.3 600.7L439.4 600.8L441.4 599.5L442.3 598.9L442.5 600.2" stroke="#3050ad" stroke-width="2.00"/>
</g>
<path d="M74.5,351.4 H77.8 V623.3 H443.4" fill="none" stroke="#3a3a3a" stroke-width="1.6"/>
<path d="M72.5,436.7 H77.8" stroke="#3a3a3a" stroke-width="1.3"/>
<path d="M72.5,607.5 H77.8" stroke="#3a3a3a" stroke-width="1.3"/>
<path d="M74.8,522.1 H77.8" stroke="#3a3a3a" stroke-width="1.3"/>
<path d="M138.7,623.3 V628.3" stroke="#3a3a3a" stroke-width="1.3"/>
<path d="M215.4,623.3 V626.3" stroke="#3a3a3a" stroke-width="1.3"/>
<path d="M292.2,623.3 V628.3" stroke="#3a3a3a" stroke-width="1.3"/>
<path d="M368.9,623.3 V626.3" stroke="#3a3a3a" stroke-width="1.3"/>
<text x="34.52" y="440.30" font-size="15.33" fill="#111" stroke="#111" stroke-width="0.30" textLength="34.91" lengthAdjust="spacingAndGlyphs" >2000</text>
<text x="59.71" y="611.80" font-size="15.19" fill="#111" stroke="#111" stroke-width="0.30" textLength="9.77" lengthAdjust="spacingAndGlyphs" >0</text>
<text x="126.14" y="643.60" font-size="14.61" fill="#111" stroke="#111" stroke-width="0.30" textLength="26.18" lengthAdjust="spacingAndGlyphs" >400</text>
<text x="278.69" y="643.60" font-size="14.61" fill="#111" stroke="#111" stroke-width="0.30" textLength="26.54" lengthAdjust="spacingAndGlyphs" >600</text>
<text x="178.89" y="669.20" font-size="22.07" fill="#111" stroke="#111" stroke-width="0.20" textLength="168.28" lengthAdjust="spacingAndGlyphs" >Wavelength (nm)</text>
<text x="2.76" y="385.40" font-size="50.00" fill="#000" stroke="#000" stroke-width="0.00" textLength="32.85" lengthAdjust="spacingAndGlyphs" >B</text>
<text transform="translate(25.70,540.12) rotate(-90)" font-size="22.50" fill="#111" stroke="#111" stroke-width="0.20" textLength="103.06" lengthAdjust="spacingAndGlyphs">ε (cm<tspan font-size="12.5" dy="-7.6">-1</tspan><tspan dy="7.6"> M</tspan><tspan font-size="12.5" dy="-7.6">-1</tspan><tspan dy="7.6">)</tspan></text>
<rect x="177.3" y="351.2" width="212.5" height="157.6" fill="#fff"/>
<path d="M177.3,351.2 V508.8 H389.8 V351.2" fill="none" stroke="#666666" stroke-width="1.2"/>
<path d="M174.5,379.6 H177.3" stroke="#666666" stroke-width="1"/>
<path d="M174.5,435.6 H177.3" stroke="#666666" stroke-width="1"/>
<path d="M174.5,491.7 H177.3" stroke="#666666" stroke-width="1"/>
<path d="M175.7,351.6 H177.3" stroke="#666666" stroke-width="1"/>
<path d="M175.7,407.6 H177.3" stroke="#666666" stroke-width="1"/>
<path d="M175.7,463.6 H177.3" stroke="#666666" stroke-width="1"/>
<path d="M387.0,386.7 H389.8" stroke="#666666" stroke-width="1"/>
<path d="M387.0,438.3 H389.8" stroke="#666666" stroke-width="1"/>
<path d="M387.0,490.2 H389.8" stroke="#666666" stroke-width="1"/>
<path d="M388.2,360.9 H389.8" stroke="#666666" stroke-width="1"/>
<path d="M388.2,412.5 H389.8" stroke="#666666" stroke-width="1"/>
<path d="M388.2,464.2 H389.8" stroke="#666666" stroke-width="1"/>
<path d="M182.0,508.8 V511.0" stroke="#666666" stroke-width="1"/>
<path d="M228.2,508.8 V511.0" stroke="#666666" stroke-width="1"/>
<path d="M274.3,508.8 V511.0" stroke="#666666" stroke-width="1"/>
<path d="M320.4,508.8 V511.0" stroke="#666666" stroke-width="1"/>
<path d="M366.6,508.8 V511.0" stroke="#666666" stroke-width="1"/>
<path d="M205.1,508.8 V510.3" stroke="#666666" stroke-width="1"/>
<path d="M251.2,508.8 V510.3" stroke="#666666" stroke-width="1"/>
<path d="M297.4,508.8 V510.3" stroke="#666666" stroke-width="1"/>
<path d="M343.5,508.8 V510.3" stroke="#666666" stroke-width="1"/>
<path d="M389.7,508.8 V510.3" stroke="#666666" stroke-width="1"/>
<text x="152.81" y="383.30" font-size="10.60" fill="#222" stroke="#222" stroke-width="0.30" textLength="19.28" lengthAdjust="spacingAndGlyphs" >0.02</text>
<text x="152.81" y="439.30" font-size="10.60" fill="#222" stroke="#222" stroke-width="0.30" textLength="19.27" lengthAdjust="spacingAndGlyphs" >0.01</text>
<text x="152.82" y="495.40" font-size="10.60" fill="#222" stroke="#222" stroke-width="0.30" textLength="19.17" lengthAdjust="spacingAndGlyphs" >0.00</text>
<text x="392.37" y="390.40" font-size="10.60" fill="#ec1c24" stroke="#ec1c24" stroke-width="0.30" textLength="21.42" lengthAdjust="spacingAndGlyphs" >0.06</text>
<text x="392.37" y="442.00" font-size="10.60" fill="#ec1c24" stroke="#ec1c24" stroke-width="0.30" textLength="21.42" lengthAdjust="spacingAndGlyphs" >0.03</text>
<text x="392.37" y="493.90" font-size="10.60" fill="#ec1c24" stroke="#ec1c24" stroke-width="0.30" textLength="21.36" lengthAdjust="spacingAndGlyphs" >0.00</text>
<text x="178.98" y="521.30" font-size="11.03" fill="#222" stroke="#222" stroke-width="0.30" textLength="6.05" lengthAdjust="spacingAndGlyphs" >0</text>
<text x="225.42" y="521.30" font-size="11.19" fill="#222" stroke="#222" stroke-width="0.30" textLength="4.65" lengthAdjust="spacingAndGlyphs" >1</text>
<text x="271.13" y="521.30" font-size="11.03" fill="#222" stroke="#222" stroke-width="0.30" textLength="6.34" lengthAdjust="spacingAndGlyphs" >2</text>
<text x="317.43" y="521.30" font-size="11.03" fill="#222" stroke="#222" stroke-width="0.30" textLength="6.10" lengthAdjust="spacingAndGlyphs" >3</text>
<text x="363.76" y="521.30" font-size="11.19" fill="#222" stroke="#222" stroke-width="0.30" textLength="5.74" lengthAdjust="spacingAndGlyphs" >4</text>
<g fill="none">
<path d="M181.90,491.70C183.25,488.25 186.98,478.78 190.00,471.00C193.02,463.22 196.85,453.22 200.00,445.00C203.15,436.78 205.75,428.90 208.90,421.70C212.05,414.50 215.55,407.55 218.90,401.80C222.25,396.05 225.47,390.75 229.00,387.20C232.53,383.65 235.65,382.03 240.10,380.50C244.55,378.97 247.38,378.72 255.70,378.00C264.02,377.28 267.67,377.17 290.00,376.20C312.33,375.23 373.08,372.87 389.70,372.20" stroke="#ec1c24" stroke-width="1.3"/>
<path d="M181.90,491.70C184.20,489.40 190.80,482.62 195.70,477.90C200.60,473.18 205.73,467.40 211.30,463.40C216.87,459.40 224.32,455.97 229.10,453.90C233.88,451.83 231.52,451.98 240.00,451.00C248.48,450.02 265.00,448.78 280.00,448.00C295.00,447.22 311.72,446.93 330.00,446.30C348.28,445.67 379.75,444.55 389.70,444.20" stroke="#111" stroke-width="1.5"/>
<path d="M181.90,491.70C185.75,491.42 196.98,491.25 205.00,490.00C213.02,488.75 220.27,487.88 230.00,484.20C239.73,480.52 255.98,471.52 263.40,467.90C270.82,464.28 268.93,465.28 274.50,462.50C280.07,459.72 287.55,454.95 296.80,451.20C306.05,447.45 315.17,444.90 330.00,440.00C344.83,435.10 376.50,424.83 385.80,421.80" stroke="#3050ad" stroke-width="1.1" stroke-dasharray="7,4"/>
</g>
<rect x="183.8" y="479.4" width="5.0" height="5.0" fill="#ec1c24"/>
<rect x="189.2" y="468.3" width="5.0" height="5.0" fill="#ec1c24"/>
<rect x="193.2" y="452.0" width="5.0" height="5.0" fill="#ec1c24"/>
<rect x="197.6" y="442.7" width="5.0" height="5.0" fill="#ec1c24"/>
<rect x="202.5" y="428.2" width="5.0" height="5.0" fill="#ec1c24"/>
<rect x="207.5" y="413.8" width="5.0" height="5.0" fill="#ec1c24"/>
<rect x="212.0" y="406.6" width="5.0" height="5.0" fill="#ec1c24"/>
<rect x="216.4" y="397.7" width="5.0" height="5.0" fill="#ec1c24"/>
<rect x="220.9" y="391.1" width="5.0" height="5.0" fill="#ec1c24"/>
<rect x="225.3" y="388.2" width="5.0" height="5.0" fill="#ec1c24"/>
<rect x="229.8" y="381.5" width="5.0" height="5.0" fill="#ec1c24"/>
<rect x="234.9" y="385.9" width="5.0" height="5.0" fill="#ec1c24"/>
<rect x="239.4" y="380.8" width="5.0" height="5.0" fill="#ec1c24"/>
<rect x="244.3" y="373.0" width="5.0" height="5.0" fill="#ec1c24"/>
<rect x="248.7" y="377.7" width="5.0" height="5.0" fill="#ec1c24"/>
<rect x="260.5" y="375.2" width="5.0" height="5.0" fill="#ec1c24"/>
<rect x="271.7" y="363.7" width="5.0" height="5.0" fill="#ec1c24"/>
<rect x="295.0" y="377.7" width="5.0" height="5.0" fill="#ec1c24"/>
<rect x="318.0" y="380.4" width="5.0" height="5.0" fill="#ec1c24"/>
<rect x="341.0" y="384.4" width="5.0" height="5.0" fill="#ec1c24"/>
<rect x="364.3" y="364.1" width="5.0" height="5.0" fill="#ec1c24"/>
<path d="M184.5,487.4L187.8,493.0L181.2,493.0Z" fill="none" stroke="#3050ad" stroke-width="1.20"/>
<path d="M189.4,487.9L192.7,493.5L186.1,493.5Z" fill="none" stroke="#3050ad" stroke-width="1.20"/>
<path d="M195.2,486.1L198.5,491.7L191.9,491.7Z" fill="none" stroke="#3050ad" stroke-width="1.20"/>
<path d="M199.7,488.3L203.0,493.9L196.4,493.9Z" fill="none" stroke="#3050ad" stroke-width="1.20"/>
<path d="M204.6,487.4L207.9,493.0L201.3,493.0Z" fill="none" stroke="#3050ad" stroke-width="1.20"/>
<path d="M209.5,486.1L212.8,491.7L206.2,491.7Z" fill="none" stroke="#3050ad" stroke-width="1.20"/>
<path d="M214.6,483.4L217.9,489.0L211.3,489.0Z" fill="none" stroke="#3050ad" stroke-width="1.20"/>
<path d="M219.1,482.5L222.4,488.1L215.8,488.1Z" fill="none" stroke="#3050ad" stroke-width="1.20"/>
<path d="M224.2,481.2L227.5,486.8L220.9,486.8Z" fill="none" stroke="#3050ad" stroke-width="1.20"/>
<path d="M229.1,479.0L232.4,484.6L225.8,484.6Z" fill="none" stroke="#3050ad" stroke-width="1.20"/>
<path d="M233.5,476.3L236.8,481.9L230.2,481.9Z" fill="none" stroke="#3050ad" stroke-width="1.20"/>
<path d="M238.0,473.4L241.3,479.0L234.7,479.0Z" fill="none" stroke="#3050ad" stroke-width="1.20"/>
<path d="M242.2,475.0L245.5,480.6L238.9,480.6Z" fill="none" stroke="#3050ad" stroke-width="1.20"/>
<path d="M246.7,469.6L250.0,475.2L243.4,475.2Z" fill="none" stroke="#3050ad" stroke-width="1.20"/>
<path d="M251.6,463.8L254.9,469.4L248.3,469.4Z" fill="none" stroke="#3050ad" stroke-width="1.20"/>
<path d="M263.0,463.4L266.3,469.0L259.7,469.0Z" fill="none" stroke="#3050ad" stroke-width="1.20"/>
<path d="M274.5,456.7L277.8,462.3L271.2,462.3Z" fill="none" stroke="#3050ad" stroke-width="1.20"/>
<path d="M297.3,457.8L300.6,463.4L294.0,463.4Z" fill="none" stroke="#3050ad" stroke-width="1.20"/>
<path d="M320.2,437.8L323.5,443.4L316.9,443.4Z" fill="none" stroke="#3050ad" stroke-width="1.20"/>
<path d="M343.5,434.0L346.8,439.6L340.2,439.6Z" fill="none" stroke="#3050ad" stroke-width="1.20"/>
<path d="M366.8,421.8L370.1,427.4L363.5,427.4Z" fill="none" stroke="#3050ad" stroke-width="1.20"/>
<circle cx="185.7" cy="486.8" r="2.7" fill="#000"/>
<circle cx="191.2" cy="483.5" r="2.7" fill="#000"/>
<circle cx="195.7" cy="476.8" r="2.7" fill="#000"/>
<circle cx="200.1" cy="474.6" r="2.7" fill="#000"/>
<circle cx="205.0" cy="468.6" r="2.7" fill="#000"/>
<circle cx="210.2" cy="464.5" r="2.7" fill="#000"/>
<circle cx="214.6" cy="460.1" r="2.7" fill="#000"/>
<circle cx="219.1" cy="456.7" r="2.7" fill="#000"/>
<circle cx="223.5" cy="455.6" r="2.7" fill="#000"/>
<circle cx="228.4" cy="457.4" r="2.7" fill="#000"/>
<circle cx="233.3" cy="451.6" r="2.7" fill="#000"/>
<circle cx="237.8" cy="451.2" r="2.7" fill="#000"/>
<circle cx="242.2" cy="454.5" r="2.7" fill="#000"/>
<circle cx="246.7" cy="453.0" r="2.7" fill="#000"/>
<circle cx="251.6" cy="444.5" r="2.7" fill="#000"/>
<circle cx="263.0" cy="451.2" r="2.7" fill="#000"/>
<circle cx="274.5" cy="443.4" r="2.7" fill="#000"/>
<circle cx="297.3" cy="451.8" r="2.7" fill="#000"/>
<circle cx="320.2" cy="449.4" r="2.7" fill="#000"/>
<circle cx="366.8" cy="441.8" r="2.7" fill="#000"/>
<text x="213.30" y="371.80" font-size="16.91" fill="#ec1c24" stroke="#ec1c24" stroke-width="0.20" textLength="30.62" lengthAdjust="spacingAndGlyphs" >360</text>
<text x="220.77" y="438.20" font-size="16.33" fill="#000" stroke="#000" stroke-width="0.20" textLength="30.45" lengthAdjust="spacingAndGlyphs" >500</text>
<text x="355.28" y="416.20" font-size="17.01" fill="#3050ad" stroke="#3050ad" stroke-width="0.20" textLength="29.88" lengthAdjust="spacingAndGlyphs" >575</text>
<text transform="translate(147.60,482.23) rotate(-90)" font-size="13.00" fill="#222" stroke="#222" stroke-width="0.25" textLength="113.53" lengthAdjust="spacingAndGlyphs">A (500 nm, 575 nm)</text>
<text transform="translate(429.20,466.83) rotate(-90)" font-size="12.80" fill="#ec1c24" stroke="#ec1c24" stroke-width="0.25" textLength="62.62" lengthAdjust="spacingAndGlyphs">A (360 nm)</text>
<text x="261.68" y="532.20" font-size="12.80" fill="#000" stroke="#000" stroke-width="0.25" textLength="18.12" lengthAdjust="spacingAndGlyphs">Co</text>
<text x="288.75" y="532.20" font-size="12.80" fill="#000" stroke="#000" stroke-width="0.25" textLength="17.25" lengthAdjust="spacingAndGlyphs">eq</text>
<text x="281.5" y="524.4" font-size="7.2" fill="#000" stroke="#000" stroke-width="0.2" textLength="4.0" lengthAdjust="spacingAndGlyphs">II</text>
</svg></body></html>
